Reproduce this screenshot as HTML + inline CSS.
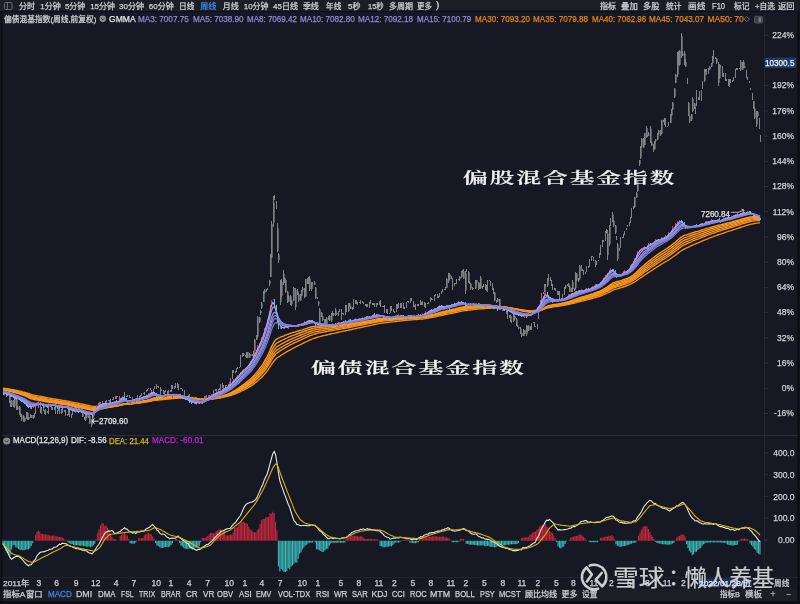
<!DOCTYPE html>
<html><head><meta charset="utf-8">
<style>
*{margin:0;padding:0;box-sizing:border-box}
html,body{width:800px;height:604px;overflow:hidden;background:#161923}
body{position:relative;font-family:"Liberation Sans","Noto Sans CJK SC",sans-serif;font-size:8px;color:#cfcfd2}
.a{position:absolute;white-space:nowrap;line-height:1;-webkit-text-stroke:0.25px currentColor;transform-origin:0 0}
#tb{position:absolute;left:0;top:0;width:800px;height:11.5px;background:#1c1e25;border-bottom:1px solid #0f1014}
#bb{position:absolute;left:0;top:588.5px;width:800px;height:12px;background:#1c1e25}
#bb2{position:absolute;left:0;top:600.5px;width:800px;height:4px;background:#0e0f13}
.t{top:2.2px}
.i{top:15px}
.bl{color:#9696dc}
.or{color:#e8840e}
.ax{color:#cfcfd2;text-align:right;width:40px;left:754px}
.d{top:579px}
.tab{top:590.5px}
svg{position:absolute;left:0;top:0}
.big{font-family:"Liberation Serif","Noto Serif CJK SC",serif;font-size:20px;color:#f4f4f4;letter-spacing:7px;font-weight:600}
</style></head><body>
<div id="tb"></div>
<div id="bb"></div>
<div id="bb2"></div>
<svg width="800" height="604" viewBox="0 0 800 604">
<line x1="1.5" y1="12" x2="1.5" y2="604" stroke="#0c0d10" stroke-width="1.5"/>
<line x1="798.5" y1="12" x2="798.5" y2="604" stroke="#0c0d10" stroke-width="2"/>
<line x1="764.5" y1="12" x2="764.5" y2="588" stroke="#23262f" stroke-width="1"/>
<line x1="2" y1="435.5" x2="798" y2="435.5" stroke="#2a2d36" stroke-width="1"/>
<line x1="2" y1="577.5" x2="798" y2="577.5" stroke="#22252e" stroke-width="1"/>
<line x1="3" y1="35.2" x2="764" y2="35.2" stroke="#1a1d27" stroke-width="1" stroke-dasharray="2,3"/>
<line x1="3" y1="60.4" x2="764" y2="60.4" stroke="#1a1d27" stroke-width="1" stroke-dasharray="2,3"/>
<line x1="3" y1="85.6" x2="764" y2="85.6" stroke="#1a1d27" stroke-width="1" stroke-dasharray="2,3"/>
<line x1="3" y1="110.9" x2="764" y2="110.9" stroke="#1a1d27" stroke-width="1" stroke-dasharray="2,3"/>
<line x1="3" y1="136.1" x2="764" y2="136.1" stroke="#1a1d27" stroke-width="1" stroke-dasharray="2,3"/>
<line x1="3" y1="161.3" x2="764" y2="161.3" stroke="#1a1d27" stroke-width="1" stroke-dasharray="2,3"/>
<line x1="3" y1="186.5" x2="764" y2="186.5" stroke="#1a1d27" stroke-width="1" stroke-dasharray="2,3"/>
<line x1="3" y1="211.7" x2="764" y2="211.7" stroke="#1a1d27" stroke-width="1" stroke-dasharray="2,3"/>
<line x1="3" y1="237.0" x2="764" y2="237.0" stroke="#1a1d27" stroke-width="1" stroke-dasharray="2,3"/>
<line x1="3" y1="262.2" x2="764" y2="262.2" stroke="#1a1d27" stroke-width="1" stroke-dasharray="2,3"/>
<line x1="3" y1="287.4" x2="764" y2="287.4" stroke="#1a1d27" stroke-width="1" stroke-dasharray="2,3"/>
<line x1="3" y1="312.6" x2="764" y2="312.6" stroke="#1a1d27" stroke-width="1" stroke-dasharray="2,3"/>
<line x1="3" y1="337.8" x2="764" y2="337.8" stroke="#1a1d27" stroke-width="1" stroke-dasharray="2,3"/>
<line x1="3" y1="363.1" x2="764" y2="363.1" stroke="#1a1d27" stroke-width="1" stroke-dasharray="2,3"/>
<line x1="3" y1="388.3" x2="764" y2="388.3" stroke="#1a1d27" stroke-width="1" stroke-dasharray="2,3"/>
<path d="M3.5 389.9V391.1M4.5 390.3V392.8M6.5 392.2V396.8M7.5 392.1V395.8M9.5 393.4V402.6M10.5 400.9V407.2M11.5 399.7V406.7M13.5 399.9V406.5M14.5 398.3V407.8M16.5 399.2V410.1M17.5 406.1V410.3M19.5 405.8V415.1M20.5 412.7V417.0M21.5 414.4V421.0M23.5 415.2V422.2M24.5 417.8V421.9M26.5 411.9V418.8M27.5 411.6V419.9M28.5 416.5V420.4M30.5 413.7V417.8M31.5 414.7V418.4M33.5 415.2V418.9M34.5 413.2V416.5M35.5 403.8V414.1M37.5 402.4V404.8M38.5 403.0V408.4M40.5 403.9V413.4M41.5 406.9V414.0M43.5 406.5V410.8M44.5 409.8V413.8M45.5 409.0V415.0M47.5 410.5V413.4M48.5 404.7V414.4M50.5 405.3V406.7M51.5 404.5V409.8M52.5 407.1V410.4M54.5 407.1V409.5M55.5 404.0V414.1M57.5 409.8V413.8M58.5 407.7V410.9M59.5 408.5V413.5M61.5 408.5V414.4M62.5 408.7V412.9M64.5 409.7V411.8M65.5 409.8V416.1M67.5 414.2V415.8M68.5 409.5V415.1M69.5 409.6V416.9M71.5 413.6V417.6M72.5 409.3V414.6M74.5 405.5V411.2M75.5 406.1V410.2M76.5 405.7V410.2M78.5 406.1V409.6M79.5 407.2V409.1M81.5 407.4V413.0M82.5 411.6V416.9M84.5 416.6V420.4M85.5 411.9V420.6M86.5 410.8V418.0M88.5 415.3V418.4M89.5 414.5V424.4M91.5 418.6V427.0M92.5 414.9V424.4M93.5 410.0V416.9M95.5 409.2V411.7M96.5 405.3V411.3M98.5 402.8V405.9M99.5 402.3V404.0M100.5 401.5V403.0M102.5 401.2V407.1M103.5 405.9V407.1M105.5 401.2V407.2M106.5 399.8V402.7M108.5 399.7V400.9M109.5 399.5V403.8M110.5 399.1V403.9M112.5 398.7V400.4M113.5 396.6V400.1M115.5 396.2V398.7M116.5 395.9V399.3M117.5 396.0V397.2M119.5 395.5V402.6M120.5 397.9V403.0M122.5 398.0V399.6M123.5 399.2V400.5M124.5 392.0V400.8M126.5 395.6V396.8M127.5 395.4V396.6M129.5 395.4V397.6M130.5 396.9V398.1M132.5 397.4V402.0M133.5 399.2V401.3M134.5 400.6V401.8M136.5 397.7V401.8M137.5 395.3V398.2M139.5 395.9V397.7M140.5 395.1V397.9M141.5 393.1V395.7M143.5 393.1V394.3M144.5 391.6V394.7M146.5 390.1V392.2M147.5 388.7V391.0M148.5 388.2V389.4M150.5 387.7V390.4M151.5 389.6V391.8M153.5 388.8V391.9M154.5 386.3V389.4M156.5 384.0V388.8M157.5 386.0V387.2M158.5 386.4V387.6M160.5 387.0V396.0M161.5 388.5V391.1M163.5 390.4V393.5M164.5 390.7V393.7M165.5 390.4V391.6M167.5 390.5V395.5M168.5 390.4V395.6M170.5 390.4V392.1M171.5 385.0V391.6M172.5 385.3V388.6M174.5 385.5V388.6M175.5 383.0V387.8M177.5 383.2V387.5M178.5 384.0V389.7M180.5 388.2V389.4M181.5 388.0V389.4M182.5 389.2V391.3M184.5 390.1V396.8M185.5 396.0V397.5M187.5 396.8V398.1M188.5 394.6V398.1M189.5 394.4V403.0M191.5 399.0V400.2M192.5 398.0V399.9M194.5 397.7V398.9M195.5 397.3V398.9M196.5 397.4V400.2M198.5 398.3V400.5M199.5 397.9V399.1M201.5 398.2V400.2M202.5 398.2V400.1M204.5 395.6V398.6M205.5 395.9V398.1M206.5 394.7V398.1M208.5 394.5V396.2M209.5 394.8V396.0M211.5 394.7V397.0M212.5 395.4V397.4M213.5 389.8V396.0M215.5 388.6V391.0M216.5 388.8V391.6M218.5 389.1V391.0M219.5 388.4V389.8M220.5 383.6V389.8M222.5 383.4V388.3M223.5 385.0V388.3M225.5 384.6V386.6M226.5 384.9V386.1M228.5 383.6V385.6M229.5 381.8V384.5M230.5 378.1V383.7M232.5 369.8V379.0M233.5 369.9V373.4M235.5 370.7V372.6M236.5 367.7V371.6M237.5 367.1V368.8M239.5 366.6V368.0M240.5 354.7V367.0M242.5 353.4V356.8M243.5 352.5V356.1M245.5 354.6V356.9M246.5 351.6V357.7M247.5 351.9V357.7M249.5 352.9V357.8M250.5 353.9V356.1M252.5 354.4V356.2M253.5 350.9V356.5M254.5 338.9V351.3M256.5 334.5V340.3M257.5 316.1V338.0M259.5 316.5V322.6M260.5 309.8V314.7M261.5 302.1V308.6M263.5 291.1V302.1M264.5 288.7V293.6M266.5 288.5V292.0M267.5 287.9V290.4M269.5 279.9V286.4M270.5 254.0V276.9M271.5 221.2V257.9M273.5 196.0V226.6M274.5 195.0V199.6M276.5 200.6V208.6M277.5 223.4V252.1M278.5 253.1V262.6M280.5 280.0V305.0M281.5 279.3V296.6M283.5 270.0V285.0M284.5 277.5V282.8M285.5 279.0V293.0M287.5 290.7V303.1M288.5 295.1V301.6M290.5 295.1V305.1M291.5 300.4V305.8M293.5 287.4V301.4M294.5 287.5V289.3M295.5 288.1V310.0M297.5 289.2V295.3M298.5 292.6V301.7M300.5 294.3V301.4M301.5 290.4V295.7M302.5 287.1V291.7M304.5 288.1V298.3M305.5 278.9V296.8M307.5 278.0V283.9M308.5 276.7V283.5M309.5 276.0V290.7M311.5 282.1V290.6M312.5 282.4V285.5M314.5 280.9V284.8M315.5 287.4V299.2M317.5 296.8V298.8M318.5 300.8V305.5M319.5 308.3V326.0M321.5 312.0V316.7M322.5 316.4V321.2M324.5 318.8V326.6M325.5 318.8V326.0M326.5 316.9V326.5M328.5 315.6V319.6M329.5 315.3V321.4M331.5 312.5V321.5M332.5 311.3V314.8M333.5 312.9V316.1M335.5 308.0V315.5M336.5 312.5V315.3M338.5 311.1V316.1M339.5 309.0V312.3M341.5 309.0V320.0M342.5 313.0V314.4M343.5 312.7V314.8M345.5 305.3V314.6M346.5 305.0V311.7M348.5 302.6V311.8M349.5 302.5V307.3M350.5 305.7V309.4M352.5 307.3V309.7M353.5 299.3V308.5M355.5 300.0V304.2M356.5 300.1V304.1M357.5 301.7V304.6M359.5 301.5V302.7M360.5 300.0V303.6M362.5 301.0V302.9M363.5 302.3V304.0M365.5 303.6V306.1M366.5 304.2V306.7M367.5 304.3V307.4M369.5 301.5V307.6M370.5 300.0V304.2M372.5 302.5V305.4M373.5 302.8V305.2M374.5 303.2V306.8M376.5 302.6V306.5M377.5 302.7V305.4M379.5 300.7V305.0M380.5 300.0V307.3M382.5 305.5V307.1M383.5 305.6V307.2M384.5 305.4V313.0M386.5 309.3V313.1M387.5 308.7V313.8M389.5 312.8V314.1M390.5 306.3V313.0M391.5 305.7V310.5M393.5 309.4V312.4M394.5 310.6V312.5M396.5 304.3V311.6M397.5 303.9V308.6M398.5 302.5V307.8M400.5 303.0V307.6M401.5 302.8V308.3M403.5 302.9V308.5M404.5 306.7V308.5M406.5 301.5V307.6M407.5 300.6V302.3M408.5 300.7V303.0M410.5 298.0V302.9M411.5 297.9V301.3M413.5 300.6V306.6M414.5 305.4V307.0M415.5 304.0V310.0M417.5 303.9V305.8M418.5 304.2V305.7M420.5 300.0V304.9M421.5 302.3V304.5M422.5 301.4V304.6M424.5 301.7V307.2M425.5 303.2V308.0M427.5 302.5V303.8M428.5 302.3V303.5M430.5 297.2V302.4M431.5 297.7V300.4M432.5 299.1V300.3M434.5 294.6V300.7M435.5 294.1V295.6M437.5 293.5V298.0M438.5 295.6V297.9M439.5 292.7V296.6M441.5 290.6V293.8M442.5 288.9V291.6M444.5 289.0V290.2M445.5 286.8V289.9M446.5 277.7V288.0M448.5 273.0V283.2M449.5 273.3V279.8M451.5 275.8V278.5M452.5 277.9V290.0M454.5 282.5V286.4M455.5 282.5V284.1M456.5 279.1V284.4M458.5 278.8V280.0M459.5 275.5V280.6M461.5 270.8V278.2M462.5 270.0V273.0M463.5 269.3V279.2M465.5 271.0V294.0M466.5 268.6V271.9M468.5 270.9V283.2M469.5 281.3V284.4M470.5 283.2V289.6M472.5 287.3V289.5M473.5 287.8V289.3M475.5 279.7V288.6M476.5 280.3V283.9M478.5 281.5V289.9M479.5 283.3V289.0M480.5 276.0V289.3M482.5 286.3V289.4M483.5 284.4V287.4M485.5 284.2V290.0M486.5 284.5V290.8M487.5 279.6V291.5M489.5 279.6V281.3M490.5 281.0V286.4M492.5 283.2V289.8M493.5 288.0V293.9M494.5 292.3V300.7M496.5 299.6V302.6M497.5 298.0V302.4M499.5 298.7V308.2M500.5 307.5V310.2M502.5 307.4V310.9M503.5 305.8V311.1M504.5 305.9V309.7M506.5 309.4V314.1M507.5 311.8V319.3M509.5 315.1V318.4M510.5 314.5V322.3M511.5 320.2V322.9M513.5 315.4V321.6M514.5 316.0V320.2M516.5 318.1V326.2M517.5 325.3V327.3M518.5 326.8V329.4M520.5 327.2V334.4M521.5 332.8V337.2M523.5 329.0V336.4M524.5 329.5V334.4M526.5 324.9V336.0M527.5 325.5V331.5M528.5 325.1V331.1M530.5 325.8V330.4M531.5 322.5V330.2M533.5 322.2V323.4M534.5 322.0V327.2M535.5 325.5V327.2M537.5 324.4V328.5M538.5 309.8V318.5M540.5 299.7V305.7M541.5 292.8V300.5M543.5 292.0V293.5M544.5 283.9V292.3M545.5 284.2V287.1M547.5 278.2V286.6M548.5 274.0V280.6M550.5 276.7V281.0M551.5 280.2V285.6M552.5 283.6V290.1M554.5 288.1V290.0M555.5 288.4V291.3M557.5 291.2V295.3M558.5 290.6V295.2M559.5 290.7V300.0M561.5 297.9V300.5M562.5 294.2V297.5M564.5 287.4V295.1M565.5 284.5V288.7M567.5 283.6V286.3M568.5 283.2V286.6M569.5 285.7V292.2M571.5 287.7V292.2M572.5 280.0V292.0M574.5 287.5V290.6M575.5 271.5V288.8M576.5 272.6V281.3M578.5 278.4V282.1M579.5 264.8V280.0M581.5 264.8V270.5M582.5 268.9V270.8M583.5 269.8V275.1M585.5 271.9V273.7M586.5 266.4V271.6M588.5 266.3V267.7M589.5 258.8V267.0M591.5 256.0V260.8M592.5 255.6V257.3M593.5 256.9V260.7M595.5 259.5V267.0M596.5 260.6V264.8M598.5 259.6V261.1M599.5 253.3V258.2M600.5 245.4V254.6M602.5 240.0V246.5M603.5 240.1V241.7M605.5 231.4V240.8M606.5 229.2V232.6M607.5 230.4V260.0M609.5 225.1V245.5M610.5 217.7V225.5M612.5 212.0V222.0M613.5 220.1V226.6M615.5 224.9V233.9M616.5 235.6V239.5M617.5 243.1V261.0M619.5 247.5V250.5M620.5 237.1V247.8M622.5 237.0V238.2M623.5 233.7V238.4M624.5 230.6V234.7M626.5 227.7V230.0M627.5 224.7V226.9M629.5 222.2V225.8M630.5 216.7V223.1M631.5 208.4V217.7M633.5 205.8V209.3M634.5 196.7V207.8M636.5 192.3V197.8M637.5 181.2V191.9M639.5 159.6V165.8M640.5 146.1V159.2M641.5 137.8V147.7M643.5 138.3V148.2M644.5 132.8V145.4M646.5 126.0V137.8M647.5 135.0V137.4M648.5 132.2V136.1M650.5 126.0V143.0M651.5 141.4V146.0M653.5 144.2V152.0M654.5 141.0V149.4M655.5 138.8V142.7M657.5 133.4V139.6M658.5 130.0V135.1M660.5 130.4V136.4M661.5 119.6V134.1M663.5 119.7V122.1M664.5 118.0V125.2M665.5 117.6V127.3M667.5 125.8V127.3M668.5 121.9V126.4M670.5 114.3V123.4M671.5 109.3V115.7M672.5 102.2V109.7M674.5 88.1V98.0M675.5 73.5V82.9M677.5 52.2V77.4M678.5 51.1V65.3M679.5 50.0V66.2M681.5 33.0V57.8M682.5 50.8V56.2M684.5 50.9V65.1M685.5 59.4V67.1M687.5 78.4V83.7M688.5 102.0V115.5M689.5 114.9V123.0M691.5 114.3V120.7M692.5 97.0V112.3M694.5 102.8V108.6M695.5 107.0V114.0M696.5 90.0V106.2M698.5 97.0V100.1M699.5 91.3V99.5M701.5 89.5V101.0M702.5 80.8V89.4M704.5 69.0V82.1M705.5 68.5V72.2M706.5 69.4V74.7M708.5 68.4V74.1M709.5 66.1V69.5M711.5 62.7V66.6M712.5 55.6V64.3M713.5 50.0V58.9M715.5 57.3V59.2M716.5 58.0V63.6M718.5 62.1V86.0M719.5 64.2V78.8M720.5 64.8V67.5M722.5 66.2V77.3M723.5 72.7V76.5M725.5 72.8V81.4M726.5 78.8V81.4M728.5 78.7V86.0M729.5 79.1V86.7M730.5 79.1V82.6M732.5 80.4V81.9M733.5 77.1V80.9M735.5 68.7V78.1M736.5 68.0V70.0M737.5 68.3V69.6M739.5 67.7V69.1M740.5 60.0V70.5M742.5 62.0V69.9M743.5 60.0V67.8M744.5 65.6V67.9M746.5 69.9V77.6M747.5 77.1V79.8M749.5 81.4V83.3M750.5 88.3V89.9M752.5 93.1V99.7M753.5 100.5V109.0M754.5 107.3V118.9M756.5 110.5V127.0M757.5 111.1V117.2M759.5 118.4V128.8M760.5 135.4V141.5" stroke="#838385" stroke-width="1" fill="none" shape-rendering="crispEdges"/>
<path d="M8.0 393.3V395.6M10.0 394.0V401.1M11.0 401.1V406.3M12.0 400.8V406.3M14.0 400.8V406.2M15.0 398.9V406.2M17.0 399.5V409.4M18.0 406.8V409.4M20.0 406.8V413.9M21.0 413.9V416.6M22.0 415.5V419.4M24.0 416.3V421.3M25.0 417.8V421.3M27.0 412.7V417.8M28.0 412.7V419.3M29.0 417.3V419.3M31.0 415.0V417.3M32.0 415.0V418.0M34.0 415.8V418.0M82.0 407.8V412.0M83.0 412.0V416.7M85.0 416.7V419.7M86.0 412.2V419.7M87.0 412.2V417.5M89.0 415.9V417.5M90.0 415.9V423.6M92.0 420.0V424.9M93.0 415.9V423.5M94.0 411.2V415.9M244.0 353.8V354.9M246.0 354.9V356.6M247.0 352.0V356.6M248.0 352.0V357.6M250.0 354.2V357.6M251.0 354.2V355.7M254.0 351.1V354.7M255.0 339.7V351.1M257.0 336.5V339.7M258.0 317.2V336.5M260.0 317.2V321.8M261.0 311.1V313.3M262.0 303.6V307.7M264.0 292.4V302.0M265.0 289.9V292.4M267.0 288.9V289.9M270.0 280.7V283.9M271.0 257.7V276.9M272.0 224.0V257.7M274.0 202.6V222.2M278.0 228.3V251.3M279.0 254.2V260.0M281.0 282.0V302.0M282.0 281.8V295.6M284.0 273.8V282.5M285.0 277.8V280.1M286.0 280.1V291.7M288.0 291.7V301.4M289.0 296.2V301.4M291.0 296.2V304.3M292.0 300.4V304.3M294.0 288.3V300.4M296.0 290.1V307.0M298.0 291.2V294.3M299.0 294.3V300.2M301.0 295.5V300.2M302.0 290.5V295.5M303.0 288.2V290.5M305.0 288.2V296.7M306.0 279.1V296.4M308.0 279.1V282.1M309.0 276.8V282.1M310.0 278.4V289.1M312.0 283.8V289.1M315.0 282.4V284.2M316.0 287.5V298.6M319.0 302.2V304.2M320.0 309.5V324.2M322.0 313.0V316.4M323.0 316.4V319.9M325.0 319.9V325.1M326.0 320.0V324.2M327.0 318.3V326.4M329.0 316.3V318.3M330.0 316.3V320.4M332.0 312.7V320.4M334.0 313.4V314.7M336.0 309.8V314.3M337.0 313.1V314.8M349.0 303.3V310.9M350.0 303.3V306.5M351.0 306.5V308.8M447.0 279.1V287.8M449.0 275.6V281.5M450.0 274.5V279.1M460.0 276.7V279.4M462.0 272.1V276.7M464.0 271.3V278.6M466.0 273.3V290.6M469.0 272.2V282.5M470.0 282.5V283.7M471.0 283.7V288.6M476.0 280.4V288.6M477.0 280.4V282.6M479.0 282.6V288.5M480.0 284.4V288.5M481.0 277.8V288.1M495.0 292.6V300.5M498.0 298.9V301.5M500.0 298.9V307.9M503.0 308.8V310.7M510.0 315.9V318.0M511.0 315.9V321.7M514.0 315.8V320.9M515.0 316.3V319.2M517.0 319.2V325.6M518.0 325.6V327.0M519.0 327.0V328.6M521.0 328.6V332.9M522.0 332.9V336.0M524.0 329.9V336.0M525.0 329.9V333.8M527.0 326.3V333.9M528.0 325.6V330.6M529.0 325.8V330.6M545.0 285.2V292.2M548.0 279.4V285.6M566.0 285.7V287.7M568.0 284.3V285.7M569.0 284.3V286.3M570.0 286.3V292.1M572.0 287.8V292.1M573.0 282.0V289.0M575.0 287.8V290.5M576.0 273.4V287.8M577.0 273.4V280.5M579.0 278.7V280.5M580.0 266.0V278.7M607.0 230.7V231.8M608.0 233.6V255.2M610.0 226.4V244.3M613.0 214.4V220.4M614.0 220.7V225.7M616.0 225.8V232.4M618.0 244.5V258.9M635.0 197.4V207.0M637.0 193.2V197.4M638.0 181.5V190.9M640.0 159.9V164.1M641.0 146.6V157.7M642.0 138.8V146.6M644.0 138.8V147.6M645.0 133.2V145.1M647.0 128.1V136.4M649.0 134.2V135.2M651.0 128.6V141.3M652.0 142.2V145.3M654.0 145.4V150.2M655.0 141.3V149.3M656.0 139.6V141.3M658.0 134.3V139.6M659.0 130.6V134.3M661.0 130.6V134.9M662.0 119.8V133.4M664.0 119.8V121.4M665.0 119.8V124.0M671.0 115.4V123.1M672.0 109.6V115.4M673.0 102.4V109.6M675.0 88.4V96.7M676.0 74.6V82.7M678.0 53.5V74.6M679.0 53.5V64.5M680.0 50.7V64.5M682.0 36.1V55.7M683.0 53.5V55.6M685.0 53.5V61.9M686.0 61.9V66.6M689.0 103.1V115.1M690.0 116.0V121.3M692.0 114.5V119.3M693.0 99.0V111.0M695.0 103.4V107.6M705.0 71.0V80.8M706.0 69.4V71.6M710.0 66.5V69.5M712.0 63.1V66.5M713.0 56.4V63.1M717.0 58.5V62.5M719.0 64.3V82.7M720.0 64.8V78.3M741.0 61.6V69.4M743.0 62.0V69.5M744.0 62.0V66.5M745.0 66.5V67.8M754.0 100.7V108.5M755.0 108.5V117.8M757.0 112.0V124.8M758.0 111.7V115.9" stroke="#838385" stroke-width="1.3" fill="none"/>
<polyline points="3.0,390.0 4.4,390.2 5.8,390.5 7.2,390.7 8.6,391.0 10.1,391.3 11.5,391.7 12.9,392.0 14.3,392.5 15.7,392.9 17.1,393.3 18.5,393.7 19.9,394.1 21.4,394.6 22.8,395.1 24.2,395.5 25.6,396.2 27.0,396.9 28.4,397.6 29.8,398.1 31.2,398.8 32.7,399.2 34.1,399.5 35.5,399.8 36.9,400.1 38.3,400.2 39.7,400.5 41.1,400.7 42.5,401.1 44.0,401.4 45.4,401.7 46.8,402.0 48.2,402.2 49.6,402.4 51.0,402.5 52.4,402.7 53.8,402.8 55.3,403.1 56.7,403.4 58.1,403.6 59.5,403.8 60.9,404.0 62.3,404.3 63.7,404.5 65.1,404.7 66.6,404.8 68.0,405.1 69.4,405.5 70.8,405.8 72.2,406.0 73.6,406.4 75.0,406.7 76.4,407.0 77.9,407.3 79.3,407.5 80.7,407.8 82.1,408.1 83.5,408.4 84.9,408.7 86.3,409.1 87.7,409.4 89.2,409.7 90.6,410.0 92.0,410.4 93.4,410.4 94.8,410.3 96.2,410.1 97.6,409.8 99.0,409.5 100.4,409.1 101.9,408.8 103.3,408.5 104.7,408.1 106.1,407.9 107.5,407.6 108.9,407.3 110.3,407.0 111.7,406.8 113.2,406.5 114.6,406.1 116.0,405.9 117.4,405.6 118.8,405.3 120.2,404.8 121.6,404.4 123.0,403.9 124.5,403.6 125.9,403.4 127.3,403.4 128.7,403.3 130.1,403.2 131.5,403.0 132.9,402.8 134.3,402.6 135.8,402.3 137.2,402.0 138.6,401.9 140.0,401.7 141.4,401.4 142.8,401.0 144.2,400.7 145.6,400.4 147.1,400.1 148.5,399.7 149.9,399.3 151.3,398.8 152.7,398.4 154.1,398.0 155.5,397.9 156.9,397.7 158.4,397.6 159.8,397.6 161.2,397.5 162.6,397.4 164.0,397.2 165.4,397.1 166.8,397.0 168.2,396.8 169.7,396.7 171.1,396.6 172.5,396.5 173.9,396.3 175.3,396.2 176.7,396.1 178.1,396.1 179.5,396.1 181.0,396.2 182.4,396.3 183.8,396.5 185.2,396.6 186.6,396.8 188.0,397.1 189.4,397.4 190.8,397.7 192.2,398.0 193.7,398.3 195.1,398.6 196.5,398.9 197.9,399.1 199.3,399.4 200.7,399.6 202.1,399.7 203.5,399.8 205.0,399.7 206.4,399.6 207.8,399.5 209.2,399.3 210.6,399.0 212.0,398.8 213.4,398.4 214.8,398.1 216.3,397.7 217.7,397.4 219.1,397.0 220.5,396.6 221.9,396.2 223.3,395.7 224.7,395.2 226.1,394.7 227.6,394.2 229.0,393.5 230.4,392.9 231.8,392.2 233.2,391.4 234.6,390.6 236.0,389.7 237.4,388.8 238.9,387.9 240.3,386.9 241.7,385.9 243.1,384.8 244.5,383.8 245.9,382.7 247.3,381.6 248.7,380.5 250.2,379.2 251.6,378.0 253.0,376.5 254.4,375.0 255.8,373.4 257.2,371.7 258.6,369.9 260.0,368.0 261.5,366.1 262.9,364.0 264.3,361.6 265.7,359.2 267.1,356.6 268.5,353.8 269.9,350.7 271.3,347.4 272.8,344.3 274.2,341.8 275.6,340.0 277.0,338.8 278.4,338.2 279.8,337.5 281.2,336.9 282.6,336.3 284.1,335.8 285.5,335.1 286.9,334.7 288.3,334.1 289.7,333.6 291.1,333.1 292.5,332.7 293.9,332.3 295.3,331.9 296.8,331.4 298.2,331.0 299.6,330.6 301.0,330.2 302.4,329.8 303.8,329.3 305.2,328.9 306.6,328.3 308.1,327.8 309.5,327.4 310.9,327.0 312.3,326.6 313.7,326.4 315.1,326.3 316.5,326.1 317.9,326.1 319.4,326.0 320.8,326.0 322.2,325.9 323.6,325.9 325.0,325.8 326.4,325.8 327.8,325.7 329.2,325.6 330.7,325.6 332.1,325.5 333.5,325.5 334.9,325.4 336.3,325.4 337.7,325.2 339.1,325.1 340.5,324.9 342.0,324.8 343.4,324.5 344.8,324.4 346.2,324.2 347.6,324.1 349.0,323.8 350.4,323.7 351.8,323.5 353.3,323.3 354.7,323.0 356.1,322.8 357.5,322.6 358.9,322.3 360.3,322.1 361.7,321.9 363.1,321.7 364.6,321.4 366.0,321.1 367.4,320.8 368.8,320.6 370.2,320.3 371.6,320.1 373.0,319.7 374.4,319.4 375.9,319.2 377.3,318.9 378.7,318.7 380.1,318.5 381.5,318.3 382.9,318.3 384.3,318.2 385.7,318.2 387.1,318.2 388.6,318.1 390.0,318.1 391.4,318.1 392.8,318.0 394.2,317.9 395.6,317.8 397.0,317.8 398.4,317.7 399.9,317.5 401.3,317.4 402.7,317.4 404.1,317.4 405.5,317.3 406.9,317.3 408.3,317.2 409.7,317.1 411.2,317.0 412.6,317.0 414.0,317.0 415.4,317.0 416.8,316.9 418.2,316.8 419.6,316.7 421.0,316.7 422.5,316.5 423.9,316.4 425.3,316.1 426.7,315.9 428.1,315.6 429.5,315.2 430.9,314.9 432.3,314.6 433.8,314.3 435.2,313.9 436.6,313.6 438.0,313.1 439.4,312.6 440.8,312.2 442.2,311.8 443.6,311.5 445.1,311.2 446.5,310.8 447.9,310.5 449.3,310.3 450.7,309.9 452.1,309.5 453.5,309.2 454.9,308.9 456.4,308.5 457.8,308.1 459.2,307.7 460.6,307.4 462.0,307.1 463.4,306.8 464.8,306.7 466.2,306.7 467.7,306.5 469.1,306.4 470.5,306.3 471.9,306.2 473.3,306.0 474.7,306.0 476.1,305.8 477.5,305.8 478.9,305.7 480.4,305.7 481.8,305.6 483.2,305.7 484.6,305.7 486.0,305.6 487.4,305.6 488.8,305.6 490.2,305.6 491.7,305.7 493.1,305.8 494.5,306.0 495.9,306.0 497.3,306.2 498.7,306.4 500.1,306.5 501.5,306.6 503.0,306.8 504.4,307.0 505.8,307.1 507.2,307.4 508.6,307.6 510.0,307.9 511.4,308.2 512.8,308.6 514.3,308.9 515.7,309.3 517.1,309.7 518.5,310.0 519.9,310.4 521.3,310.8 522.7,311.1 524.1,311.3 525.6,311.6 527.0,311.8 528.4,312.0 529.8,312.2 531.2,312.2 532.6,312.2 534.0,312.1 535.4,312.0 536.9,311.7 538.3,311.3 539.7,310.8 541.1,310.1 542.5,309.3 543.9,308.3 545.3,307.3 546.7,306.5 548.2,306.0 549.6,305.5 551.0,305.1 552.4,304.8 553.8,304.5 555.2,304.3 556.6,304.1 558.0,303.9 559.5,303.6 560.9,303.4 562.3,303.1 563.7,302.8 565.1,302.5 566.5,302.1 567.9,301.7 569.3,301.3 570.8,300.8 572.2,300.3 573.6,299.9 575.0,299.3 576.4,298.9 577.8,298.4 579.2,297.9 580.6,297.4 582.0,297.0 583.5,296.6 584.9,296.2 586.3,295.7 587.7,295.3 589.1,294.9 590.5,294.5 591.9,294.0 593.3,293.6 594.8,293.0 596.2,292.5 597.6,292.0 599.0,291.5 600.4,290.9 601.8,290.2 603.2,289.4 604.6,288.6 606.1,287.7 607.5,286.7 608.9,285.7 610.3,284.7 611.7,283.7 613.1,282.9 614.5,282.3 615.9,281.9 617.4,281.5 618.8,281.2 620.2,280.8 621.6,280.4 623.0,279.8 624.4,279.3 625.8,278.8 627.2,278.3 628.7,277.6 630.1,277.0 631.5,276.1 632.9,275.2 634.3,274.1 635.7,273.0 637.1,271.6 638.5,270.2 640.0,268.8 641.4,267.5 642.8,266.3 644.2,265.0 645.6,263.9 647.0,262.8 648.4,261.5 649.8,260.4 651.3,259.4 652.7,258.3 654.1,257.2 655.5,256.1 656.9,255.0 658.3,254.1 659.7,253.1 661.1,252.2 662.6,251.2 664.0,250.4 665.4,249.5 666.8,248.6 668.2,247.6 669.6,246.6 671.0,245.6 672.4,244.5 673.8,243.4 675.3,242.2 676.7,240.9 678.1,239.7 679.5,238.4 680.9,237.4 682.3,236.5 683.7,235.7 685.1,235.2 686.6,234.8 688.0,234.3 689.4,233.8 690.8,233.3 692.2,232.9 693.6,232.5 695.0,232.0 696.4,231.6 697.9,231.3 699.3,230.8 700.7,230.4 702.1,230.0 703.5,229.6 704.9,229.1 706.3,228.6 707.7,228.2 709.2,227.9 710.6,227.3 712.0,227.0 713.4,226.6 714.8,226.2 716.2,225.8 717.6,225.4 719.0,225.1 720.5,224.8 721.9,224.5 723.3,224.1 724.7,223.7 726.1,223.3 727.5,222.9 728.9,222.7 730.3,222.3 731.8,222.0 733.2,221.5 734.6,221.1 736.0,220.7 737.4,220.3 738.8,220.0 740.2,219.6 741.6,219.1 743.1,218.7 744.5,218.4 745.9,218.0 747.3,217.6 748.7,217.3 750.1,217.0 751.5,216.8 752.9,216.7 754.4,216.7 755.8,216.6 757.2,216.7 758.6,216.8 760.0,217.0" fill="none" stroke="#ff9a22" stroke-width="1.35"/>
<polyline points="3.0,389.6 4.4,389.9 5.8,390.1 7.2,390.4 8.6,390.6 10.1,390.9 11.5,391.3 12.9,391.6 14.3,392.0 15.7,392.4 17.1,392.7 18.5,393.1 19.9,393.5 21.4,393.9 22.8,394.4 24.2,394.8 25.6,395.4 27.0,396.0 28.4,396.7 29.8,397.2 31.2,397.8 32.7,398.3 34.1,398.6 35.5,398.9 36.9,399.2 38.3,399.4 39.7,399.6 41.1,399.9 42.5,400.2 44.0,400.6 45.4,400.9 46.8,401.2 48.2,401.4 49.6,401.6 51.0,401.8 52.4,402.0 53.8,402.1 55.3,402.4 56.7,402.7 58.1,402.9 59.5,403.1 60.9,403.3 62.3,403.6 63.7,403.8 65.1,404.0 66.6,404.2 68.0,404.4 69.4,404.8 70.8,405.1 72.2,405.3 73.6,405.7 75.0,406.0 76.4,406.3 77.9,406.6 79.3,406.8 80.7,407.1 82.1,407.4 83.5,407.7 84.9,408.0 86.3,408.4 87.7,408.7 89.2,409.0 90.6,409.3 92.0,409.6 93.4,409.7 94.8,409.7 96.2,409.5 97.6,409.3 99.0,409.1 100.4,408.7 101.9,408.5 103.3,408.2 104.7,408.0 106.1,407.7 107.5,407.5 108.9,407.3 110.3,407.0 111.7,406.8 113.2,406.6 114.6,406.2 116.0,406.0 117.4,405.8 118.8,405.5 120.2,405.1 121.6,404.7 123.0,404.2 124.5,403.9 125.9,403.8 127.3,403.8 128.7,403.7 130.1,403.5 131.5,403.4 132.9,403.2 134.3,402.9 135.8,402.7 137.2,402.5 138.6,402.3 140.0,402.1 141.4,401.8 142.8,401.5 144.2,401.2 145.6,400.9 147.1,400.6 148.5,400.2 149.9,399.9 151.3,399.4 152.7,399.0 154.1,398.6 155.5,398.5 156.9,398.3 158.4,398.2 159.8,398.1 161.2,398.1 162.6,398.0 164.0,397.8 165.4,397.6 166.8,397.5 168.2,397.3 169.7,397.2 171.1,397.1 172.5,396.9 173.9,396.8 175.3,396.7 176.7,396.6 178.1,396.5 179.5,396.5 181.0,396.5 182.4,396.6 183.8,396.7 185.2,396.9 186.6,397.0 188.0,397.2 189.4,397.5 190.8,397.7 192.2,398.0 193.7,398.2 195.1,398.5 196.5,398.8 197.9,399.0 199.3,399.2 200.7,399.4 202.1,399.5 203.5,399.6 205.0,399.6 206.4,399.5 207.8,399.4 209.2,399.2 210.6,399.0 212.0,398.8 213.4,398.5 214.8,398.2 216.3,397.9 217.7,397.5 219.1,397.2 220.5,396.9 221.9,396.5 223.3,396.0 224.7,395.6 226.1,395.1 227.6,394.7 229.0,394.1 230.4,393.5 231.8,392.9 233.2,392.1 234.6,391.4 236.0,390.6 237.4,389.8 238.9,388.9 240.3,388.0 241.7,387.1 243.1,386.1 244.5,385.1 245.9,384.1 247.3,383.1 248.7,382.0 250.2,380.9 251.6,379.7 253.0,378.4 254.4,376.9 255.8,375.4 257.2,373.9 258.6,372.2 260.0,370.5 261.5,368.7 262.9,366.7 264.3,364.5 265.7,362.3 267.1,359.9 268.5,357.3 269.9,354.4 271.3,351.4 272.8,348.5 274.2,346.1 275.6,344.3 277.0,343.0 278.4,342.2 279.8,341.4 281.2,340.7 282.6,340.0 284.1,339.3 285.5,338.6 286.9,338.0 288.3,337.3 289.7,336.7 291.1,336.1 292.5,335.6 293.9,335.1 295.3,334.6 296.8,334.0 298.2,333.5 299.6,333.0 301.0,332.5 302.4,332.0 303.8,331.5 305.2,331.0 306.6,330.5 308.1,329.9 309.5,329.4 310.9,328.9 312.3,328.5 313.7,328.2 315.1,328.0 316.5,327.8 317.9,327.6 319.4,327.5 320.8,327.4 322.2,327.3 323.6,327.1 325.0,327.0 326.4,326.9 327.8,326.8 329.2,326.7 330.7,326.6 332.1,326.5 333.5,326.4 334.9,326.3 336.3,326.2 337.7,326.0 339.1,325.8 340.5,325.7 342.0,325.5 343.4,325.2 344.8,325.1 346.2,324.9 347.6,324.8 349.0,324.5 350.4,324.4 351.8,324.1 353.3,323.9 354.7,323.6 356.1,323.4 357.5,323.2 358.9,322.9 360.3,322.7 361.7,322.5 363.1,322.3 364.6,322.0 366.0,321.7 367.4,321.4 368.8,321.2 370.2,321.0 371.6,320.7 373.0,320.4 374.4,320.1 375.9,319.9 377.3,319.6 378.7,319.3 380.1,319.1 381.5,319.0 382.9,318.9 384.3,318.8 385.7,318.7 387.1,318.7 388.6,318.6 390.0,318.6 391.4,318.5 392.8,318.5 394.2,318.4 395.6,318.2 397.0,318.2 398.4,318.1 399.9,317.9 401.3,317.8 402.7,317.7 404.1,317.7 405.5,317.6 406.9,317.6 408.3,317.5 409.7,317.4 411.2,317.3 412.6,317.3 414.0,317.2 415.4,317.2 416.8,317.1 418.2,317.0 419.6,317.0 421.0,316.9 422.5,316.8 423.9,316.6 425.3,316.4 426.7,316.2 428.1,315.9 429.5,315.6 430.9,315.3 432.3,315.0 433.8,314.7 435.2,314.3 436.6,314.0 438.0,313.6 439.4,313.2 440.8,312.8 442.2,312.4 443.6,312.1 445.1,311.8 446.5,311.5 447.9,311.1 449.3,310.9 450.7,310.6 452.1,310.2 453.5,309.9 454.9,309.6 456.4,309.2 457.8,308.8 459.2,308.4 460.6,308.1 462.0,307.8 463.4,307.5 464.8,307.4 466.2,307.3 467.7,307.2 469.1,307.0 470.5,306.9 471.9,306.8 473.3,306.6 474.7,306.5 476.1,306.4 477.5,306.3 478.9,306.2 480.4,306.1 481.8,306.1 483.2,306.1 484.6,306.1 486.0,306.0 487.4,306.0 488.8,305.9 490.2,306.0 491.7,306.0 493.1,306.1 494.5,306.2 495.9,306.2 497.3,306.4 498.7,306.6 500.1,306.7 501.5,306.7 503.0,306.8 504.4,307.0 505.8,307.1 507.2,307.3 508.6,307.6 510.0,307.8 511.4,308.1 512.8,308.4 514.3,308.7 515.7,309.1 517.1,309.4 518.5,309.7 519.9,310.0 521.3,310.4 522.7,310.7 524.1,310.9 525.6,311.2 527.0,311.3 528.4,311.5 529.8,311.7 531.2,311.8 532.6,311.8 534.0,311.7 535.4,311.6 536.9,311.4 538.3,311.1 539.7,310.7 541.1,310.1 542.5,309.4 543.9,308.5 545.3,307.7 546.7,307.0 548.2,306.5 549.6,306.0 551.0,305.7 552.4,305.4 553.8,305.1 555.2,304.9 556.6,304.6 558.0,304.4 559.5,304.2 560.9,304.0 562.3,303.7 563.7,303.4 565.1,303.1 566.5,302.7 567.9,302.3 569.3,302.0 570.8,301.5 572.2,301.1 573.6,300.6 575.0,300.1 576.4,299.7 577.8,299.2 579.2,298.8 580.6,298.3 582.0,297.9 583.5,297.5 584.9,297.1 586.3,296.6 587.7,296.2 589.1,295.8 590.5,295.4 591.9,294.9 593.3,294.5 594.8,294.0 596.2,293.5 597.6,293.0 599.0,292.5 600.4,291.9 601.8,291.3 603.2,290.6 604.6,289.8 606.1,289.0 607.5,288.1 608.9,287.1 610.3,286.1 611.7,285.2 613.1,284.4 614.5,283.8 615.9,283.4 617.4,283.0 618.8,282.6 620.2,282.2 621.6,281.8 623.0,281.2 624.4,280.7 625.8,280.1 627.2,279.7 628.7,279.0 630.1,278.4 631.5,277.5 632.9,276.7 634.3,275.7 635.7,274.6 637.1,273.3 638.5,272.0 640.0,270.8 641.4,269.5 642.8,268.3 644.2,267.1 645.6,266.0 647.0,265.0 648.4,263.8 649.8,262.7 651.3,261.6 652.7,260.6 654.1,259.5 655.5,258.5 656.9,257.4 658.3,256.4 659.7,255.5 661.1,254.6 662.6,253.6 664.0,252.7 665.4,251.8 666.8,250.9 668.2,250.0 669.6,249.0 671.0,248.0 672.4,246.9 673.8,245.8 675.3,244.7 676.7,243.4 678.1,242.2 679.5,241.0 680.9,239.9 682.3,239.0 683.7,238.2 685.1,237.7 686.6,237.1 688.0,236.6 689.4,236.0 690.8,235.5 692.2,235.0 693.6,234.5 695.0,234.0 696.4,233.6 697.9,233.2 699.3,232.7 700.7,232.2 702.1,231.7 703.5,231.3 704.9,230.8 706.3,230.3 707.7,229.8 709.2,229.4 710.6,228.9 712.0,228.5 713.4,228.1 714.8,227.6 716.2,227.3 717.6,226.8 719.0,226.5 720.5,226.2 721.9,225.8 723.3,225.4 724.7,225.0 726.1,224.6 727.5,224.2 728.9,223.9 730.3,223.5 731.8,223.1 733.2,222.7 734.6,222.3 736.0,221.9 737.4,221.5 738.8,221.1 740.2,220.7 741.6,220.3 743.1,219.9 744.5,219.5 745.9,219.1 747.3,218.7 748.7,218.3 750.1,218.1 751.5,217.9 752.9,217.7 754.4,217.6 755.8,217.5 757.2,217.6 758.6,217.6 760.0,217.7" fill="none" stroke="#fd9820" stroke-width="1.35"/>
<polyline points="3.0,389.3 4.4,389.5 5.8,389.7 7.2,390.0 8.6,390.2 10.1,390.5 11.5,390.8 12.9,391.1 14.3,391.5 15.7,391.9 17.1,392.2 18.5,392.6 19.9,392.9 21.4,393.3 22.8,393.8 24.2,394.2 25.6,394.8 27.0,395.3 28.4,395.9 29.8,396.5 31.2,397.0 32.7,397.4 34.1,397.7 35.5,398.1 36.9,398.3 38.3,398.6 39.7,398.8 41.1,399.1 42.5,399.5 44.0,399.8 45.4,400.1 46.8,400.4 48.2,400.6 49.6,400.9 51.0,401.0 52.4,401.2 53.8,401.4 55.3,401.7 56.7,401.9 58.1,402.2 59.5,402.4 60.9,402.6 62.3,402.9 63.7,403.1 65.1,403.3 66.6,403.5 68.0,403.8 69.4,404.1 70.8,404.4 72.2,404.7 73.6,405.0 75.0,405.3 76.4,405.6 77.9,405.9 79.3,406.2 80.7,406.4 82.1,406.7 83.5,407.0 84.9,407.3 86.3,407.7 87.7,408.0 89.2,408.3 90.6,408.6 92.0,408.9 93.4,409.0 94.8,409.0 96.2,408.9 97.6,408.8 99.0,408.6 100.4,408.3 101.9,408.1 103.3,407.9 104.7,407.7 106.1,407.5 107.5,407.3 108.9,407.1 110.3,406.9 111.7,406.7 113.2,406.5 114.6,406.2 116.0,406.0 117.4,405.8 118.8,405.6 120.2,405.2 121.6,404.8 123.0,404.5 124.5,404.2 125.9,404.1 127.3,404.0 128.7,403.9 130.1,403.8 131.5,403.6 132.9,403.4 134.3,403.2 135.8,403.0 137.2,402.8 138.6,402.6 140.0,402.4 141.4,402.1 142.8,401.9 144.2,401.6 145.6,401.3 147.1,401.0 148.5,400.7 149.9,400.3 151.3,399.9 152.7,399.5 154.1,399.2 155.5,399.0 156.9,398.9 158.4,398.7 159.8,398.6 161.2,398.6 162.6,398.4 164.0,398.2 165.4,398.1 166.8,397.9 168.2,397.8 169.7,397.6 171.1,397.5 172.5,397.4 173.9,397.2 175.3,397.1 176.7,397.0 178.1,396.9 179.5,396.9 181.0,396.9 182.4,396.9 183.8,397.0 185.2,397.2 186.6,397.3 188.0,397.4 189.4,397.6 190.8,397.9 192.2,398.1 193.7,398.3 195.1,398.6 196.5,398.8 197.9,398.9 199.3,399.2 200.7,399.3 202.1,399.4 203.5,399.5 205.0,399.5 206.4,399.4 207.8,399.3 209.2,399.2 210.6,399.0 212.0,398.8 213.4,398.5 214.8,398.3 216.3,398.0 217.7,397.7 219.1,397.4 220.5,397.1 221.9,396.8 223.3,396.3 224.7,395.9 226.1,395.5 227.6,395.1 229.0,394.5 230.4,394.0 231.8,393.5 233.2,392.7 234.6,392.1 236.0,391.4 237.4,390.6 238.9,389.8 240.3,389.0 241.7,388.1 243.1,387.2 244.5,386.3 245.9,385.3 247.3,384.4 248.7,383.4 250.2,382.3 251.6,381.2 253.0,380.0 254.4,378.6 255.8,377.2 257.2,375.7 258.6,374.2 260.0,372.6 261.5,370.9 262.9,369.1 264.3,367.1 265.7,364.9 267.1,362.7 268.5,360.3 269.9,357.6 271.3,354.8 272.8,352.1 274.2,349.8 275.6,348.1 277.0,346.8 278.4,345.9 279.8,345.0 281.2,344.2 282.6,343.4 284.1,342.6 285.5,341.8 286.9,341.2 288.3,340.4 289.7,339.7 291.1,339.1 292.5,338.4 293.9,337.8 295.3,337.3 296.8,336.7 298.2,336.1 299.6,335.5 301.0,335.0 302.4,334.4 303.8,333.9 305.2,333.3 306.6,332.7 308.1,332.1 309.5,331.5 310.9,331.0 312.3,330.6 313.7,330.2 315.1,329.9 316.5,329.6 317.9,329.4 319.4,329.2 320.8,329.0 322.2,328.9 323.6,328.6 325.0,328.5 326.4,328.3 327.8,328.2 329.2,328.0 330.7,327.8 332.1,327.7 333.5,327.5 334.9,327.4 336.3,327.2 337.7,327.0 339.1,326.8 340.5,326.6 342.0,326.4 343.4,326.2 344.8,326.0 346.2,325.8 347.6,325.6 349.0,325.4 350.4,325.2 351.8,324.9 353.3,324.7 354.7,324.4 356.1,324.2 357.5,324.0 358.9,323.7 360.3,323.5 361.7,323.2 363.1,323.0 364.6,322.7 366.0,322.4 367.4,322.2 368.8,321.9 370.2,321.7 371.6,321.4 373.0,321.1 374.4,320.8 375.9,320.6 377.3,320.3 378.7,320.0 380.1,319.8 381.5,319.6 382.9,319.5 384.3,319.4 385.7,319.3 387.1,319.3 388.6,319.2 390.0,319.1 391.4,319.1 392.8,319.0 394.2,318.9 395.6,318.7 397.0,318.6 398.4,318.5 399.9,318.4 401.3,318.2 402.7,318.2 404.1,318.1 405.5,318.0 406.9,318.0 408.3,317.9 409.7,317.7 411.2,317.7 412.6,317.7 414.0,317.6 415.4,317.5 416.8,317.4 418.2,317.3 419.6,317.3 421.0,317.2 422.5,317.1 423.9,317.0 425.3,316.7 426.7,316.5 428.1,316.3 429.5,316.0 430.9,315.7 432.3,315.4 433.8,315.1 435.2,314.8 436.6,314.5 438.0,314.1 439.4,313.7 440.8,313.3 442.2,313.0 443.6,312.7 445.1,312.4 446.5,312.0 447.9,311.7 449.3,311.5 450.7,311.2 452.1,310.8 453.5,310.5 454.9,310.2 456.4,309.9 457.8,309.5 459.2,309.1 460.6,308.8 462.0,308.5 463.4,308.2 464.8,308.1 466.2,308.0 467.7,307.8 469.1,307.7 470.5,307.5 471.9,307.4 473.3,307.2 474.7,307.1 476.1,306.9 477.5,306.9 478.9,306.7 480.4,306.6 481.8,306.6 483.2,306.6 484.6,306.5 486.0,306.4 487.4,306.4 488.8,306.3 490.2,306.3 491.7,306.4 493.1,306.4 494.5,306.5 495.9,306.5 497.3,306.7 498.7,306.8 500.1,306.8 501.5,306.9 503.0,307.0 504.4,307.1 505.8,307.2 507.2,307.4 508.6,307.6 510.0,307.8 511.4,308.1 512.8,308.4 514.3,308.6 515.7,308.9 517.1,309.2 518.5,309.5 519.9,309.8 521.3,310.1 522.7,310.4 524.1,310.6 525.6,310.9 527.0,311.0 528.4,311.2 529.8,311.4 531.2,311.5 532.6,311.5 534.0,311.4 535.4,311.4 536.9,311.2 538.3,310.9 539.7,310.6 541.1,310.1 542.5,309.4 543.9,308.7 545.3,307.9 546.7,307.3 548.2,306.8 549.6,306.4 551.0,306.1 552.4,305.8 553.8,305.5 555.2,305.3 556.6,305.1 558.0,304.9 559.5,304.6 560.9,304.4 562.3,304.2 563.7,303.9 565.1,303.6 566.5,303.3 567.9,302.9 569.3,302.5 570.8,302.1 572.2,301.7 573.6,301.3 575.0,300.8 576.4,300.4 577.8,299.9 579.2,299.5 580.6,299.1 582.0,298.7 583.5,298.3 584.9,297.9 586.3,297.4 587.7,297.0 589.1,296.7 590.5,296.2 591.9,295.8 593.3,295.4 594.8,294.9 596.2,294.4 597.6,293.9 599.0,293.4 600.4,292.9 601.8,292.3 603.2,291.6 604.6,290.8 606.1,290.1 607.5,289.2 608.9,288.4 610.3,287.4 611.7,286.6 613.1,285.8 614.5,285.2 615.9,284.8 617.4,284.4 618.8,284.0 620.2,283.5 621.6,283.1 623.0,282.5 624.4,282.0 625.8,281.5 627.2,281.0 628.7,280.3 630.1,279.7 631.5,278.9 632.9,278.1 634.3,277.1 635.7,276.1 637.1,274.9 638.5,273.7 640.0,272.5 641.4,271.4 642.8,270.2 644.2,269.1 645.6,268.0 647.0,267.0 648.4,265.8 649.8,264.8 651.3,263.8 652.7,262.7 654.1,261.7 655.5,260.6 656.9,259.6 658.3,258.7 659.7,257.7 661.1,256.8 662.6,255.9 664.0,255.0 665.4,254.1 666.8,253.2 668.2,252.2 669.6,251.2 671.0,250.3 672.4,249.2 673.8,248.1 675.3,247.0 676.7,245.8 678.1,244.6 679.5,243.4 680.9,242.4 682.3,241.4 683.7,240.7 685.1,240.0 686.6,239.5 688.0,238.9 689.4,238.3 690.8,237.7 692.2,237.1 693.6,236.6 695.0,236.1 696.4,235.6 697.9,235.1 699.3,234.6 700.7,234.1 702.1,233.6 703.5,233.1 704.9,232.6 706.3,232.1 707.7,231.6 709.2,231.1 710.6,230.6 712.0,230.2 713.4,229.7 714.8,229.2 716.2,228.8 717.6,228.4 719.0,228.0 720.5,227.6 721.9,227.3 723.3,226.8 724.7,226.4 726.1,226.0 727.5,225.5 728.9,225.2 730.3,224.8 731.8,224.4 733.2,224.0 734.6,223.6 736.0,223.2 737.4,222.7 738.8,222.4 740.2,221.9 741.6,221.5 743.1,221.1 744.5,220.7 745.9,220.3 747.3,219.9 748.7,219.5 750.1,219.2 751.5,219.0 752.9,218.8 754.4,218.6 755.8,218.5 757.2,218.5 758.6,218.5 760.0,218.5" fill="none" stroke="#fb961e" stroke-width="1.35"/>
<polyline points="3.0,389.0 4.4,389.2 5.8,389.4 7.2,389.7 8.6,389.9 10.1,390.2 11.5,390.5 12.9,390.7 14.3,391.1 15.7,391.4 17.1,391.7 18.5,392.1 19.9,392.4 21.4,392.8 22.8,393.2 24.2,393.6 25.6,394.1 27.0,394.7 28.4,395.3 29.8,395.7 31.2,396.3 32.7,396.7 34.1,397.0 35.5,397.3 36.9,397.6 38.3,397.8 39.7,398.1 41.1,398.3 42.5,398.7 44.0,399.0 45.4,399.3 46.8,399.6 48.2,399.9 49.6,400.1 51.0,400.3 52.4,400.5 53.8,400.7 55.3,401.0 56.7,401.2 58.1,401.5 59.5,401.7 60.9,402.0 62.3,402.2 63.7,402.4 65.1,402.6 66.6,402.8 68.0,403.1 69.4,403.5 70.8,403.7 72.2,404.0 73.6,404.3 75.0,404.6 76.4,404.9 77.9,405.2 79.3,405.5 80.7,405.7 82.1,406.0 83.5,406.3 84.9,406.6 86.3,407.0 87.7,407.3 89.2,407.6 90.6,407.9 92.0,408.2 93.4,408.3 94.8,408.4 96.2,408.3 97.6,408.2 99.0,408.0 100.4,407.8 101.9,407.7 103.3,407.5 104.7,407.3 106.1,407.2 107.5,407.0 108.9,406.9 110.3,406.7 111.7,406.5 113.2,406.3 114.6,406.1 116.0,405.9 117.4,405.8 118.8,405.6 120.2,405.2 121.6,404.9 123.0,404.5 124.5,404.3 125.9,404.2 127.3,404.1 128.7,404.0 130.1,403.9 131.5,403.8 132.9,403.6 134.3,403.4 135.8,403.2 137.2,403.0 138.6,402.8 140.0,402.6 141.4,402.4 142.8,402.1 144.2,401.9 145.6,401.6 147.1,401.4 148.5,401.0 149.9,400.7 151.3,400.3 152.7,399.9 154.1,399.6 155.5,399.5 156.9,399.3 158.4,399.2 159.8,399.1 161.2,399.0 162.6,398.8 164.0,398.7 165.4,398.5 166.8,398.4 168.2,398.2 169.7,398.0 171.1,397.9 172.5,397.8 173.9,397.6 175.3,397.5 176.7,397.4 178.1,397.3 179.5,397.3 181.0,397.2 182.4,397.3 183.8,397.3 185.2,397.4 186.6,397.5 188.0,397.7 189.4,397.8 190.8,398.0 192.2,398.2 193.7,398.4 195.1,398.6 196.5,398.8 197.9,399.0 199.3,399.2 200.7,399.3 202.1,399.4 203.5,399.5 205.0,399.4 206.4,399.4 207.8,399.3 209.2,399.2 210.6,399.0 212.0,398.8 213.4,398.6 214.8,398.4 216.3,398.1 217.7,397.8 219.1,397.6 220.5,397.3 221.9,397.0 223.3,396.6 224.7,396.2 226.1,395.8 227.6,395.4 229.0,394.9 230.4,394.4 231.8,393.9 233.2,393.3 234.6,392.7 236.0,392.0 237.4,391.3 238.9,390.6 240.3,389.8 241.7,389.0 243.1,388.1 244.5,387.3 245.9,386.4 247.3,385.5 248.7,384.6 250.2,383.6 251.6,382.5 253.0,381.4 254.4,380.1 255.8,378.8 257.2,377.4 258.6,375.9 260.0,374.4 261.5,372.8 262.9,371.1 264.3,369.2 265.7,367.3 267.1,365.2 268.5,362.9 269.9,360.4 271.3,357.8 272.8,355.2 274.2,353.1 275.6,351.4 277.0,350.1 278.4,349.1 279.8,348.2 281.2,347.3 282.6,346.5 284.1,345.7 285.5,344.8 286.9,344.1 288.3,343.3 289.7,342.6 291.1,341.9 292.5,341.2 293.9,340.5 295.3,339.9 296.8,339.3 298.2,338.6 299.6,338.0 301.0,337.4 302.4,336.8 303.8,336.2 305.2,335.6 306.6,335.0 308.1,334.3 309.5,333.7 310.9,333.2 312.3,332.7 313.7,332.3 315.1,331.9 316.5,331.6 317.9,331.3 319.4,331.0 320.8,330.8 322.2,330.6 323.6,330.3 325.0,330.1 326.4,329.9 327.8,329.7 329.2,329.4 330.7,329.3 332.1,329.0 333.5,328.8 334.9,328.7 336.3,328.5 337.7,328.2 339.1,328.0 340.5,327.8 342.0,327.6 343.4,327.3 344.8,327.1 346.2,326.9 347.6,326.6 349.0,326.4 350.4,326.2 351.8,325.9 353.3,325.7 354.7,325.4 356.1,325.1 357.5,324.9 358.9,324.6 360.3,324.4 361.7,324.1 363.1,323.9 364.6,323.6 366.0,323.3 367.4,323.0 368.8,322.7 370.2,322.5 371.6,322.2 373.0,321.9 374.4,321.6 375.9,321.4 377.3,321.1 378.7,320.8 380.1,320.6 381.5,320.4 382.9,320.3 384.3,320.1 385.7,320.0 387.1,319.9 388.6,319.8 390.0,319.7 391.4,319.7 392.8,319.6 394.2,319.4 395.6,319.3 397.0,319.2 398.4,319.1 399.9,318.9 401.3,318.8 402.7,318.7 404.1,318.6 405.5,318.5 406.9,318.4 408.3,318.3 409.7,318.2 411.2,318.1 412.6,318.1 414.0,318.0 415.4,317.9 416.8,317.8 418.2,317.7 419.6,317.7 421.0,317.6 422.5,317.4 423.9,317.3 425.3,317.1 426.7,316.9 428.1,316.7 429.5,316.4 430.9,316.1 432.3,315.9 433.8,315.6 435.2,315.2 436.6,315.0 438.0,314.6 439.4,314.2 440.8,313.9 442.2,313.5 443.6,313.2 445.1,313.0 446.5,312.6 447.9,312.3 449.3,312.1 450.7,311.8 452.1,311.4 453.5,311.1 454.9,310.8 456.4,310.5 457.8,310.1 459.2,309.8 460.6,309.5 462.0,309.2 463.4,308.9 464.8,308.8 466.2,308.6 467.7,308.5 469.1,308.3 470.5,308.1 471.9,308.0 473.3,307.8 474.7,307.7 476.1,307.5 477.5,307.4 478.9,307.3 480.4,307.2 481.8,307.1 483.2,307.1 484.6,307.0 486.0,306.9 487.4,306.8 488.8,306.8 490.2,306.7 491.7,306.8 493.1,306.8 494.5,306.8 495.9,306.8 497.3,307.0 498.7,307.1 500.1,307.1 501.5,307.1 503.0,307.2 504.4,307.3 505.8,307.4 507.2,307.6 508.6,307.7 510.0,307.9 511.4,308.1 512.8,308.4 514.3,308.6 515.7,308.9 517.1,309.1 518.5,309.4 519.9,309.7 521.3,310.0 522.7,310.2 524.1,310.4 525.6,310.6 527.0,310.8 528.4,311.0 529.8,311.2 531.2,311.2 532.6,311.3 534.0,311.2 535.4,311.2 536.9,311.0 538.3,310.8 539.7,310.5 541.1,310.0 542.5,309.5 543.9,308.8 545.3,308.1 546.7,307.6 548.2,307.1 549.6,306.8 551.0,306.5 552.4,306.2 553.8,305.9 555.2,305.7 556.6,305.5 558.0,305.3 559.5,305.0 560.9,304.8 562.3,304.6 563.7,304.3 565.1,304.0 566.5,303.7 567.9,303.4 569.3,303.0 570.8,302.6 572.2,302.2 573.6,301.9 575.0,301.4 576.4,301.0 577.8,300.6 579.2,300.2 580.6,299.7 582.0,299.4 583.5,299.0 584.9,298.6 586.3,298.2 587.7,297.8 589.1,297.4 590.5,297.0 591.9,296.6 593.3,296.2 594.8,295.7 596.2,295.2 597.6,294.8 599.0,294.3 600.4,293.8 601.8,293.2 603.2,292.6 604.6,291.8 606.1,291.1 607.5,290.3 608.9,289.5 610.3,288.6 611.7,287.8 613.1,287.0 614.5,286.5 615.9,286.0 617.4,285.6 618.8,285.2 620.2,284.8 621.6,284.3 623.0,283.8 624.4,283.2 625.8,282.7 627.2,282.2 628.7,281.6 630.1,281.0 631.5,280.2 632.9,279.4 634.3,278.5 635.7,277.5 637.1,276.4 638.5,275.3 640.0,274.1 641.4,273.0 642.8,271.9 644.2,270.9 645.6,269.8 647.0,268.8 648.4,267.7 649.8,266.7 651.3,265.7 652.7,264.7 654.1,263.7 655.5,262.7 656.9,261.7 658.3,260.7 659.7,259.8 661.1,258.9 662.6,258.0 664.0,257.1 665.4,256.2 666.8,255.3 668.2,254.4 669.6,253.4 671.0,252.4 672.4,251.4 673.8,250.3 675.3,249.2 676.7,248.0 678.1,246.9 679.5,245.8 680.9,244.7 682.3,243.8 683.7,243.0 685.1,242.3 686.6,241.7 688.0,241.1 689.4,240.5 690.8,239.9 692.2,239.3 693.6,238.7 695.0,238.1 696.4,237.6 697.9,237.1 699.3,236.6 700.7,236.0 702.1,235.5 703.5,235.0 704.9,234.5 706.3,233.9 707.7,233.4 709.2,232.9 710.6,232.3 712.0,231.9 713.4,231.4 714.8,230.9 716.2,230.5 717.6,230.0 719.0,229.6 720.5,229.2 721.9,228.8 723.3,228.3 724.7,227.9 726.1,227.4 727.5,227.0 728.9,226.7 730.3,226.3 731.8,225.8 733.2,225.4 734.6,224.9 736.0,224.5 737.4,224.0 738.8,223.7 740.2,223.2 741.6,222.8 743.1,222.4 744.5,222.0 745.9,221.6 747.3,221.1 748.7,220.7 750.1,220.4 751.5,220.2 752.9,219.9 754.4,219.7 755.8,219.6 757.2,219.5 758.6,219.5 760.0,219.5" fill="none" stroke="#f9941c" stroke-width="1.35"/>
<polyline points="3.0,388.7 4.4,388.9 5.8,389.1 7.2,389.3 8.6,389.5 10.1,389.8 11.5,390.1 12.9,390.3 14.3,390.7 15.7,391.0 17.1,391.3 18.5,391.6 19.9,392.0 21.4,392.3 22.8,392.7 24.2,393.1 25.6,393.6 27.0,394.1 28.4,394.6 29.8,395.1 31.2,395.6 32.7,396.0 34.1,396.3 35.5,396.6 36.9,396.9 38.3,397.1 39.7,397.4 41.1,397.7 42.5,398.0 44.0,398.3 45.4,398.6 46.8,398.9 48.2,399.2 49.6,399.4 51.0,399.6 52.4,399.8 53.8,400.0 55.3,400.3 56.7,400.6 58.1,400.8 59.5,401.1 60.9,401.3 62.3,401.6 63.7,401.8 65.1,402.0 66.6,402.2 68.0,402.5 69.4,402.8 70.8,403.1 72.2,403.3 73.6,403.7 75.0,403.9 76.4,404.2 77.9,404.5 79.3,404.8 80.7,405.1 82.1,405.3 83.5,405.6 84.9,405.9 86.3,406.3 87.7,406.6 89.2,406.9 90.6,407.2 92.0,407.5 93.4,407.7 94.8,407.7 96.2,407.7 97.6,407.6 99.0,407.5 100.4,407.3 101.9,407.2 103.3,407.1 104.7,406.9 106.1,406.8 107.5,406.7 108.9,406.5 110.3,406.4 111.7,406.3 113.2,406.1 114.6,405.9 116.0,405.8 117.4,405.6 118.8,405.4 120.2,405.1 121.6,404.8 123.0,404.5 124.5,404.3 125.9,404.2 127.3,404.1 128.7,404.1 130.1,403.9 131.5,403.8 132.9,403.7 134.3,403.5 135.8,403.3 137.2,403.1 138.6,403.0 140.0,402.8 141.4,402.6 142.8,402.3 144.2,402.1 145.6,401.8 147.1,401.6 148.5,401.3 149.9,401.0 151.3,400.6 152.7,400.3 154.1,400.0 155.5,399.8 156.9,399.6 158.4,399.5 159.8,399.4 161.2,399.3 162.6,399.2 164.0,399.0 165.4,398.9 166.8,398.7 168.2,398.5 169.7,398.4 171.1,398.3 172.5,398.1 173.9,398.0 175.3,397.9 176.7,397.7 178.1,397.6 179.5,397.6 181.0,397.6 182.4,397.6 183.8,397.6 185.2,397.7 186.6,397.8 188.0,397.9 189.4,398.0 190.8,398.2 192.2,398.4 193.7,398.5 195.1,398.7 196.5,398.9 197.9,399.0 199.3,399.2 200.7,399.3 202.1,399.4 203.5,399.5 205.0,399.4 206.4,399.4 207.8,399.3 209.2,399.2 210.6,399.0 212.0,398.9 213.4,398.7 214.8,398.5 216.3,398.2 217.7,398.0 219.1,397.7 220.5,397.5 221.9,397.2 223.3,396.8 224.7,396.5 226.1,396.1 227.6,395.8 229.0,395.3 230.4,394.8 231.8,394.4 233.2,393.8 234.6,393.2 236.0,392.6 237.4,391.9 238.9,391.2 240.3,390.5 241.7,389.7 243.1,388.9 244.5,388.1 245.9,387.3 247.3,386.5 248.7,385.6 250.2,384.6 251.6,383.6 253.0,382.6 254.4,381.4 255.8,380.1 257.2,378.8 258.6,377.5 260.0,376.0 261.5,374.5 262.9,372.9 264.3,371.2 265.7,369.3 267.1,367.4 268.5,365.2 269.9,362.9 271.3,360.4 272.8,358.0 274.2,356.0 275.6,354.3 277.0,353.0 278.4,352.1 279.8,351.1 281.2,350.2 282.6,349.3 284.1,348.5 285.5,347.6 286.9,346.8 288.3,346.0 289.7,345.2 291.1,344.5 292.5,343.8 293.9,343.1 295.3,342.4 296.8,341.8 298.2,341.1 299.6,340.4 301.0,339.8 302.4,339.2 303.8,338.5 305.2,337.9 306.6,337.2 308.1,336.6 309.5,335.9 310.9,335.4 312.3,334.8 313.7,334.4 315.1,334.0 316.5,333.6 317.9,333.2 319.4,332.9 320.8,332.6 322.2,332.4 323.6,332.1 325.0,331.8 326.4,331.5 327.8,331.3 329.2,331.0 330.7,330.8 332.1,330.5 333.5,330.3 334.9,330.1 336.3,329.9 337.7,329.6 339.1,329.3 340.5,329.1 342.0,328.8 343.4,328.5 344.8,328.3 346.2,328.0 347.6,327.8 349.0,327.5 350.4,327.3 351.8,327.0 353.3,326.7 354.7,326.4 356.1,326.2 357.5,325.9 358.9,325.6 360.3,325.4 361.7,325.1 363.1,324.8 364.6,324.5 366.0,324.2 367.4,323.9 368.8,323.7 370.2,323.4 371.6,323.1 373.0,322.8 374.4,322.5 375.9,322.3 377.3,322.0 378.7,321.7 380.1,321.5 381.5,321.3 382.9,321.1 384.3,320.9 385.7,320.8 387.1,320.7 388.6,320.6 390.0,320.5 391.4,320.4 392.8,320.2 394.2,320.1 395.6,319.9 397.0,319.8 398.4,319.7 399.9,319.5 401.3,319.4 402.7,319.3 404.1,319.2 405.5,319.1 406.9,319.0 408.3,318.9 409.7,318.7 411.2,318.7 412.6,318.6 414.0,318.5 415.4,318.4 416.8,318.3 418.2,318.2 419.6,318.1 421.0,318.0 422.5,317.9 423.9,317.7 425.3,317.5 426.7,317.3 428.1,317.1 429.5,316.8 430.9,316.6 432.3,316.3 433.8,316.0 435.2,315.7 436.6,315.5 438.0,315.1 439.4,314.7 440.8,314.4 442.2,314.1 443.6,313.8 445.1,313.5 446.5,313.2 447.9,312.9 449.3,312.7 450.7,312.4 452.1,312.0 453.5,311.7 454.9,311.4 456.4,311.1 457.8,310.8 459.2,310.4 460.6,310.1 462.0,309.8 463.4,309.6 464.8,309.4 466.2,309.3 467.7,309.1 469.1,308.9 470.5,308.7 471.9,308.6 473.3,308.4 474.7,308.2 476.1,308.1 477.5,308.0 478.9,307.8 480.4,307.7 481.8,307.6 483.2,307.6 484.6,307.5 486.0,307.4 487.4,307.3 488.8,307.2 490.2,307.2 491.7,307.2 493.1,307.2 494.5,307.2 495.9,307.2 497.3,307.3 498.7,307.4 500.1,307.4 501.5,307.4 503.0,307.5 504.4,307.6 505.8,307.6 507.2,307.8 508.6,307.9 510.0,308.1 511.4,308.3 512.8,308.5 514.3,308.7 515.7,308.9 517.1,309.2 518.5,309.4 519.9,309.6 521.3,309.9 522.7,310.1 524.1,310.3 525.6,310.5 527.0,310.7 528.4,310.8 529.8,311.0 531.2,311.1 532.6,311.1 534.0,311.1 535.4,311.0 536.9,310.9 538.3,310.7 539.7,310.4 541.1,310.0 542.5,309.5 543.9,308.9 545.3,308.3 546.7,307.8 548.2,307.4 549.6,307.0 551.0,306.8 552.4,306.5 553.8,306.3 555.2,306.1 556.6,305.8 558.0,305.6 559.5,305.4 560.9,305.2 562.3,305.0 563.7,304.7 565.1,304.4 566.5,304.2 567.9,303.8 569.3,303.5 570.8,303.1 572.2,302.7 573.6,302.4 575.0,301.9 576.4,301.6 577.8,301.1 579.2,300.8 580.6,300.4 582.0,300.0 583.5,299.6 584.9,299.2 586.3,298.8 587.7,298.4 589.1,298.1 590.5,297.7 591.9,297.3 593.3,296.9 594.8,296.4 596.2,296.0 597.6,295.5 599.0,295.1 600.4,294.6 601.8,294.0 603.2,293.4 604.6,292.7 606.1,292.0 607.5,291.3 608.9,290.5 610.3,289.7 611.7,288.9 613.1,288.2 614.5,287.6 615.9,287.2 617.4,286.7 618.8,286.3 620.2,285.9 621.6,285.4 623.0,284.9 624.4,284.4 625.8,283.9 627.2,283.4 628.7,282.8 630.1,282.2 631.5,281.4 632.9,280.7 634.3,279.8 635.7,278.9 637.1,277.8 638.5,276.7 640.0,275.6 641.4,274.6 642.8,273.5 644.2,272.5 645.6,271.5 647.0,270.6 648.4,269.5 649.8,268.5 651.3,267.5 652.7,266.5 654.1,265.6 655.5,264.6 656.9,263.6 658.3,262.7 659.7,261.8 661.1,260.8 662.6,259.9 664.0,259.1 665.4,258.2 666.8,257.3 668.2,256.4 669.6,255.4 671.0,254.5 672.4,253.4 673.8,252.4 675.3,251.3 676.7,250.2 678.1,249.1 679.5,248.0 680.9,246.9 682.3,246.0 683.7,245.2 685.1,244.5 686.6,243.9 688.0,243.2 689.4,242.6 690.8,242.0 692.2,241.3 693.6,240.7 695.0,240.1 696.4,239.6 697.9,239.1 699.3,238.5 700.7,237.9 702.1,237.4 703.5,236.9 704.9,236.3 706.3,235.7 707.7,235.2 709.2,234.7 710.6,234.1 712.0,233.6 713.4,233.1 714.8,232.6 716.2,232.2 717.6,231.7 719.0,231.2 720.5,230.8 721.9,230.4 723.3,229.9 724.7,229.4 726.1,229.0 727.5,228.5 728.9,228.1 730.3,227.7 731.8,227.3 733.2,226.8 734.6,226.4 736.0,225.9 737.4,225.5 738.8,225.1 740.2,224.6 741.6,224.1 743.1,223.7 744.5,223.3 745.9,222.9 747.3,222.4 748.7,222.0 750.1,221.7 751.5,221.4 752.9,221.2 754.4,220.9 755.8,220.8 757.2,220.7 758.6,220.5 760.0,220.5" fill="none" stroke="#f6921a" stroke-width="1.35"/>
<polyline points="3.0,388.1 4.4,388.3 5.8,388.5 7.2,388.7 8.6,388.9 10.1,389.1 11.5,389.4 12.9,389.6 14.3,389.9 15.7,390.2 17.1,390.5 18.5,390.8 19.9,391.1 21.4,391.4 22.8,391.8 24.2,392.1 25.6,392.6 27.0,393.0 28.4,393.5 29.8,393.9 31.2,394.4 32.7,394.8 34.1,395.1 35.5,395.4 36.9,395.6 38.3,395.9 39.7,396.1 41.1,396.4 42.5,396.7 44.0,397.0 45.4,397.3 46.8,397.6 48.2,397.9 49.6,398.1 51.0,398.3 52.4,398.6 53.8,398.8 55.3,399.0 56.7,399.3 58.1,399.5 59.5,399.8 60.9,400.0 62.3,400.3 63.7,400.5 65.1,400.7 66.6,401.0 68.0,401.2 69.4,401.5 70.8,401.8 72.2,402.1 73.6,402.4 75.0,402.7 76.4,402.9 77.9,403.2 79.3,403.5 80.7,403.8 82.1,404.0 83.5,404.3 84.9,404.6 86.3,405.0 87.7,405.3 89.2,405.5 90.6,405.8 92.0,406.1 93.4,406.3 94.8,406.4 96.2,406.4 97.6,406.4 99.0,406.3 100.4,406.2 101.9,406.2 103.3,406.1 104.7,406.0 106.1,405.9 107.5,405.9 108.9,405.8 110.3,405.7 111.7,405.6 113.2,405.5 114.6,405.3 116.0,405.2 117.4,405.1 118.8,405.0 120.2,404.8 121.6,404.5 123.0,404.3 124.5,404.1 125.9,404.0 127.3,404.0 128.7,403.9 130.1,403.8 131.5,403.7 132.9,403.6 134.3,403.4 135.8,403.3 137.2,403.1 138.6,403.0 140.0,402.9 141.4,402.7 142.8,402.5 144.2,402.2 145.6,402.0 147.1,401.8 148.5,401.6 149.9,401.3 151.3,401.0 152.7,400.7 154.1,400.4 155.5,400.3 156.9,400.1 158.4,400.0 159.8,399.9 161.2,399.8 162.6,399.7 164.0,399.5 165.4,399.4 166.8,399.2 168.2,399.1 169.7,398.9 171.1,398.8 172.5,398.7 173.9,398.5 175.3,398.4 176.7,398.3 178.1,398.2 179.5,398.1 181.0,398.1 182.4,398.1 183.8,398.1 185.2,398.2 186.6,398.2 188.0,398.3 189.4,398.4 190.8,398.5 192.2,398.6 193.7,398.8 195.1,398.9 196.5,399.1 197.9,399.2 199.3,399.3 200.7,399.4 202.1,399.5 203.5,399.5 205.0,399.5 206.4,399.5 207.8,399.4 209.2,399.3 210.6,399.2 212.0,399.0 213.4,398.8 214.8,398.7 216.3,398.5 217.7,398.2 219.1,398.0 220.5,397.8 221.9,397.6 223.3,397.2 224.7,396.9 226.1,396.6 227.6,396.3 229.0,395.9 230.4,395.5 231.8,395.1 233.2,394.5 234.6,394.0 236.0,393.5 237.4,392.9 238.9,392.3 240.3,391.7 241.7,391.0 243.1,390.3 244.5,389.6 245.9,388.8 247.3,388.1 248.7,387.3 250.2,386.4 251.6,385.6 253.0,384.6 254.4,383.5 255.8,382.4 257.2,381.3 258.6,380.0 260.0,378.8 261.5,377.4 262.9,376.0 264.3,374.4 265.7,372.7 267.1,371.0 268.5,369.1 269.9,367.0 271.3,364.8 272.8,362.6 274.2,360.8 275.6,359.2 277.0,358.0 278.4,357.0 279.8,356.1 281.2,355.2 282.6,354.3 284.1,353.4 285.5,352.5 286.9,351.7 288.3,350.9 289.7,350.1 291.1,349.3 292.5,348.5 293.9,347.8 295.3,347.1 296.8,346.4 298.2,345.7 299.6,345.0 301.0,344.3 302.4,343.6 303.8,342.9 305.2,342.2 306.6,341.5 308.1,340.8 309.5,340.2 310.9,339.6 312.3,339.0 313.7,338.4 315.1,338.0 316.5,337.5 317.9,337.1 319.4,336.7 320.8,336.4 322.2,336.0 323.6,335.6 325.0,335.3 326.4,335.0 327.8,334.6 329.2,334.3 330.7,334.0 332.1,333.7 333.5,333.4 334.9,333.1 336.3,332.8 337.7,332.5 339.1,332.2 340.5,331.9 342.0,331.6 343.4,331.2 344.8,331.0 346.2,330.7 347.6,330.4 349.0,330.0 350.4,329.8 351.8,329.5 353.3,329.1 354.7,328.8 356.1,328.5 357.5,328.2 358.9,327.9 360.3,327.6 361.7,327.3 363.1,327.0 364.6,326.7 366.0,326.4 367.4,326.1 368.8,325.8 370.2,325.5 371.6,325.2 373.0,324.8 374.4,324.5 375.9,324.3 377.3,323.9 378.7,323.7 380.1,323.4 381.5,323.2 382.9,323.0 384.3,322.8 385.7,322.6 387.1,322.5 388.6,322.3 390.0,322.1 391.4,322.0 392.8,321.8 394.2,321.7 395.6,321.5 397.0,321.4 398.4,321.2 399.9,321.0 401.3,320.8 402.7,320.7 404.1,320.6 405.5,320.4 406.9,320.3 408.3,320.2 409.7,320.0 411.2,319.9 412.6,319.8 414.0,319.7 415.4,319.6 416.8,319.5 418.2,319.3 419.6,319.2 421.0,319.1 422.5,319.0 423.9,318.8 425.3,318.6 426.7,318.4 428.1,318.2 429.5,317.9 430.9,317.7 432.3,317.4 433.8,317.1 435.2,316.8 436.6,316.6 438.0,316.2 439.4,315.9 440.8,315.6 442.2,315.3 443.6,315.0 445.1,314.7 446.5,314.4 447.9,314.1 449.3,313.9 450.7,313.6 452.1,313.3 453.5,313.0 454.9,312.7 456.4,312.4 457.8,312.1 459.2,311.7 460.6,311.4 462.0,311.2 463.4,310.9 464.8,310.7 466.2,310.5 467.7,310.3 469.1,310.2 470.5,310.0 471.9,309.8 473.3,309.6 474.7,309.4 476.1,309.3 477.5,309.1 478.9,309.0 480.4,308.8 481.8,308.7 483.2,308.7 484.6,308.6 486.0,308.4 487.4,308.3 488.8,308.2 490.2,308.2 491.7,308.1 493.1,308.1 494.5,308.1 495.9,308.1 497.3,308.1 498.7,308.1 500.1,308.1 501.5,308.1 503.0,308.2 504.4,308.2 505.8,308.2 507.2,308.3 508.6,308.4 510.0,308.5 511.4,308.7 512.8,308.9 514.3,309.0 515.7,309.2 517.1,309.4 518.5,309.6 519.9,309.8 521.3,310.0 522.7,310.2 524.1,310.3 525.6,310.5 527.0,310.6 528.4,310.8 529.8,310.9 531.2,311.0 532.6,311.0 534.0,311.0 535.4,311.0 536.9,310.9 538.3,310.7 539.7,310.5 541.1,310.1 542.5,309.7 543.9,309.2 545.3,308.7 546.7,308.2 548.2,307.9 549.6,307.6 551.0,307.3 552.4,307.1 553.8,306.9 555.2,306.7 556.6,306.5 558.0,306.3 559.5,306.1 560.9,305.9 562.3,305.6 563.7,305.4 565.1,305.2 566.5,304.9 567.9,304.6 569.3,304.3 570.8,303.9 572.2,303.6 573.6,303.3 575.0,302.9 576.4,302.6 577.8,302.2 579.2,301.8 580.6,301.4 582.0,301.1 583.5,300.8 584.9,300.4 586.3,300.0 587.7,299.7 589.1,299.3 590.5,299.0 591.9,298.6 593.3,298.2 594.8,297.8 596.2,297.4 597.6,296.9 599.0,296.5 600.4,296.0 601.8,295.5 603.2,295.0 604.6,294.3 606.1,293.7 607.5,293.0 608.9,292.3 610.3,291.6 611.7,290.9 613.1,290.2 614.5,289.7 615.9,289.2 617.4,288.8 618.8,288.4 620.2,287.9 621.6,287.5 623.0,287.0 624.4,286.5 625.8,286.0 627.2,285.5 628.7,284.9 630.1,284.3 631.5,283.7 632.9,282.9 634.3,282.1 635.7,281.3 637.1,280.3 638.5,279.3 640.0,278.3 641.4,277.4 642.8,276.4 644.2,275.4 645.6,274.5 647.0,273.6 648.4,272.6 649.8,271.7 651.3,270.8 652.7,269.9 654.1,268.9 655.5,268.0 656.9,267.1 658.3,266.2 659.7,265.3 661.1,264.4 662.6,263.5 664.0,262.7 665.4,261.8 666.8,261.0 668.2,260.1 669.6,259.2 671.0,258.2 672.4,257.3 673.8,256.3 675.3,255.3 676.7,254.2 678.1,253.1 679.5,252.0 680.9,251.0 682.3,250.1 683.7,249.3 685.1,248.6 686.6,247.9 688.0,247.3 689.4,246.6 690.8,245.9 692.2,245.3 693.6,244.7 695.0,244.0 696.4,243.5 697.9,242.9 699.3,242.3 700.7,241.7 702.1,241.1 703.5,240.5 704.9,240.0 706.3,239.3 707.7,238.8 709.2,238.2 710.6,237.6 712.0,237.1 713.4,236.6 714.8,236.0 716.2,235.6 717.6,235.0 719.0,234.5 720.5,234.1 721.9,233.6 723.3,233.1 724.7,232.6 726.1,232.1 727.5,231.7 728.9,231.2 730.3,230.8 731.8,230.3 733.2,229.8 734.6,229.3 736.0,228.9 737.4,228.4 738.8,228.0 740.2,227.5 741.6,227.0 743.1,226.6 744.5,226.1 745.9,225.7 747.3,225.2 748.7,224.8 750.1,224.4 751.5,224.1 752.9,223.8 754.4,223.5 755.8,223.3 757.2,223.1 758.6,222.9 760.0,222.8" fill="none" stroke="#f39018" stroke-width="1.35"/>
<path d="M4.5 392.6V395.5M9.5 392.8V395.5M13.5 395.9V397.8M17.5 398.5V399.4M30.5 405.4V408.9M33.5 403.5V407.8M34.5 403.9V406.7M37.5 402.4V405.7M38.5 401.4V403.4M41.5 403.7V405.0M44.5 405.8V407.9M45.5 404.9V406.1M48.5 403.1V407.1M51.5 404.1V406.4M54.5 404.5V405.8M58.5 405.0V407.7M61.5 406.8V408.4M64.5 407.1V408.1M65.5 405.7V407.4M71.5 409.8V411.1M72.5 409.4V409.9M75.5 410.8V412.9M82.5 410.1V412.0M88.5 413.3V415.8M89.5 413.5V414.2M93.5 411.1V415.8M95.5 408.9V412.2M96.5 405.2V409.5M98.5 404.7V407.4M99.5 404.2V405.9M100.5 403.1V405.0M103.5 402.6V406.1M108.5 403.0V405.6M109.5 401.1V404.4M113.5 402.0V403.2M115.5 400.5V403.2M117.5 401.8V403.2M119.5 399.9V402.9M120.5 398.1V400.9M122.5 396.3V398.3M123.5 396.7V397.8M129.5 401.9V403.1M130.5 400.7V403.6M132.5 400.1V401.4M133.5 399.2V400.7M134.5 398.5V400.5M136.5 397.6V399.2M140.5 397.4V399.7M141.5 396.8V400.0M143.5 395.9V397.3M144.5 395.6V396.7M147.5 395.7V397.1M148.5 393.2V397.1M150.5 392.6V394.3M151.5 390.6V393.9M157.5 395.5V396.9M163.5 395.4V397.8M164.5 393.7V396.5M167.5 394.3V395.4M168.5 393.0V395.6M170.5 394.0V395.3M172.5 394.2V397.6M174.5 393.8V394.8M177.5 393.6V395.0M192.5 401.0V402.8M194.5 402.2V403.6M196.5 401.1V405.2M198.5 402.2V403.3M201.5 400.8V404.2M204.5 399.1V402.9M205.5 398.5V400.9M206.5 396.3V399.4M208.5 395.4V398.2M209.5 395.7V397.4M211.5 394.0V396.6M212.5 394.9V395.6M213.5 393.0V395.1M216.5 391.4V394.6M219.5 391.3V392.4M220.5 390.4V393.0M222.5 388.6V392.5M223.5 386.8V391.1M226.5 387.0V389.3M228.5 385.7V387.6M229.5 382.7V387.0M230.5 383.4V384.0M232.5 382.4V383.6M233.5 378.5V383.4M235.5 377.9V379.4M236.5 376.8V379.5M237.5 374.9V379.2M239.5 373.8V375.9M240.5 371.8V374.8M242.5 370.0V372.9M243.5 369.3V372.3M245.5 368.4V370.8M246.5 366.8V369.6M247.5 365.9V368.1M249.5 363.3V368.2M250.5 360.8V363.6M252.5 358.8V362.5M253.5 355.8V360.2M254.5 350.9V356.8M256.5 350.1V352.5M257.5 345.1V350.9M259.5 342.9V347.9M260.5 340.5V345.3M261.5 337.0V341.0M263.5 333.4V338.1M264.5 327.8V334.9M266.5 323.1V329.0M267.5 318.9V323.9M269.5 310.7V320.4M270.5 305.2V312.6M271.5 299.9V306.6M273.5 298.9V300.4M280.5 326.0V329.0M283.5 328.1V328.9M284.5 326.9V329.4M285.5 325.2V327.7M288.5 325.2V328.7M290.5 325.7V326.7M294.5 325.9V327.0M297.5 323.9V326.3M298.5 324.3V326.9M300.5 324.0V325.7M301.5 323.1V325.1M302.5 323.7V324.6M304.5 321.4V324.1M305.5 321.6V323.0M307.5 320.9V322.6M308.5 320.2V322.2M317.5 323.8V324.6M319.5 324.9V325.9M324.5 324.6V326.3M328.5 323.7V325.7M329.5 324.3V325.6M332.5 323.4V325.6M333.5 324.1V326.1M336.5 324.3V324.7M338.5 321.9V325.8M339.5 321.9V323.8M342.5 321.5V323.3M343.5 320.8V322.8M346.5 321.5V324.0M349.5 319.0V322.7M352.5 320.1V322.1M355.5 318.0V320.6M357.5 318.5V321.1M359.5 318.0V320.1M362.5 316.5V319.3M365.5 316.8V319.0M366.5 316.1V317.9M372.5 316.4V318.1M373.5 314.2V316.7M377.5 313.6V317.5M379.5 314.7V315.9M382.5 315.6V317.0M384.5 315.9V317.6M387.5 316.4V318.5M389.5 317.1V318.4M393.5 316.2V318.3M394.5 316.3V317.4M396.5 315.2V317.3M398.5 314.3V318.4M400.5 315.1V316.6M406.5 316.2V317.3M408.5 314.8V317.3M410.5 314.7V315.7M413.5 315.9V317.4M414.5 314.9V317.3M417.5 315.0V317.4M421.5 315.0V316.7M422.5 313.2V317.1M425.5 311.0V315.5M428.5 311.0V313.2M430.5 309.5V312.6M432.5 310.1V310.5M434.5 308.4V310.6M435.5 308.2V309.6M438.5 306.2V308.7M439.5 304.9V307.2M442.5 305.7V306.5M445.5 305.8V308.8M446.5 305.4V308.7M448.5 305.4V305.8M451.5 303.6V308.3M452.5 304.0V305.2M455.5 303.6V304.5M456.5 303.1V304.4M458.5 301.4V303.6M459.5 301.5V302.5M463.5 301.9V303.0M468.5 303.0V305.8M469.5 303.7V304.9M472.5 303.9V305.2M473.5 303.6V304.8M476.5 303.6V305.4M479.5 303.3V306.0M485.5 304.5V307.2M486.5 304.6V305.1M489.5 305.0V306.1M496.5 306.7V309.0M499.5 307.9V309.8M500.5 307.4V310.2M502.5 307.1V309.5M506.5 308.4V310.8M514.5 313.7V315.5M517.5 314.6V315.0M523.5 315.4V316.6M524.5 314.1V318.2M527.5 314.1V316.7M531.5 312.2V315.5M533.5 310.5V313.5M534.5 308.9V312.3M537.5 306.6V310.7M538.5 305.5V308.4M540.5 303.4V306.9M541.5 298.4V304.6M543.5 296.1V301.4M544.5 292.8V297.6M545.5 292.2V294.7M557.5 299.3V302.2M559.5 298.9V300.9M562.5 297.3V301.4M564.5 297.6V299.1M565.5 297.5V299.2M567.5 296.6V298.9M568.5 293.8V297.3M569.5 294.0V296.2M571.5 292.6V295.5M574.5 292.6V294.4M575.5 291.0V293.7M578.5 290.3V293.8M581.5 288.5V291.7M585.5 289.2V291.2M586.5 287.6V289.4M591.5 287.2V289.6M592.5 286.2V289.1M595.5 284.0V287.6M598.5 283.7V286.4M600.5 281.9V285.2M602.5 279.9V282.8M603.5 277.8V282.2M605.5 275.3V279.4M606.5 275.1V276.3M607.5 272.6V276.2M609.5 269.8V272.7M610.5 268.0V271.6M620.5 274.6V277.1M622.5 273.4V275.4M623.5 271.4V273.9M624.5 269.7V272.8M629.5 267.5V271.6M630.5 265.0V269.5M631.5 263.5V267.3M633.5 260.8V264.0M634.5 258.2V262.8M636.5 256.2V258.9M637.5 251.2V256.9M639.5 249.5V251.7M640.5 248.8V250.7M641.5 247.9V249.2M643.5 247.3V248.8M644.5 246.1V248.2M648.5 243.2V248.8M651.5 242.9V244.4M653.5 242.5V243.8M654.5 240.9V243.2M655.5 239.2V241.8M657.5 239.3V241.1M660.5 239.5V240.1M661.5 237.4V240.2M663.5 237.6V239.7M665.5 235.3V239.4M667.5 234.7V236.5M668.5 231.9V235.6M670.5 231.7V234.3M671.5 231.0V232.4M672.5 226.4V231.7M674.5 226.5V228.3M675.5 223.0V227.6M677.5 221.2V225.8M678.5 222.0V223.1M679.5 219.6V222.2M687.5 226.6V228.6M688.5 227.0V228.1M689.5 226.2V227.4M691.5 226.4V227.1M692.5 225.9V227.1M695.5 224.7V228.3M698.5 225.3V226.3M699.5 223.9V226.1M701.5 222.7V225.3M704.5 223.5V225.7M705.5 221.1V224.7M706.5 221.2V223.0M711.5 218.9V223.1M713.5 220.2V222.1M715.5 219.7V221.9M718.5 219.1V221.6M722.5 219.5V222.0M723.5 218.4V220.6M725.5 217.5V219.5M728.5 216.2V218.6M730.5 217.3V219.3M732.5 215.8V218.6M733.5 215.0V217.3M735.5 214.1V217.4M737.5 213.0V215.2M740.5 212.7V216.3M742.5 212.3V214.4M746.5 211.8V213.5M747.5 211.0V213.2M759.5 217.7V219.2" stroke="#e2304c" stroke-width="1" fill="none" shape-rendering="crispEdges"/>
<path d="M3.5 390.7V394.9M6.5 393.0V394.5M7.5 393.2V395.9M10.5 394.0V396.6M11.5 395.5V397.4M14.5 396.3V400.0M16.5 398.8V399.3M19.5 398.2V399.6M20.5 398.8V400.8M21.5 400.2V401.6M23.5 400.9V402.9M24.5 402.0V403.5M26.5 401.4V405.5M27.5 404.8V407.4M28.5 406.5V408.4M31.5 405.9V408.5M35.5 403.3V405.9M40.5 402.4V404.8M43.5 403.0V408.1M47.5 405.6V407.9M50.5 404.4V406.2M52.5 403.5V405.5M55.5 403.7V408.2M57.5 406.7V408.6M59.5 405.2V408.9M62.5 406.6V409.4M67.5 406.4V408.2M68.5 405.8V410.4M69.5 407.9V411.9M74.5 408.9V412.3M76.5 409.6V411.4M78.5 410.4V412.8M79.5 410.6V412.2M81.5 411.1V412.7M84.5 410.6V413.6M85.5 413.1V413.7M86.5 411.5V414.8M91.5 413.6V415.1M92.5 414.1V417.6M102.5 403.1V406.2M105.5 402.2V403.5M106.5 403.0V404.5M110.5 400.9V403.2M112.5 402.0V403.3M116.5 400.4V402.8M124.5 396.4V399.5M126.5 397.8V402.1M127.5 401.3V404.7M137.5 398.3V398.6M139.5 397.8V400.9M146.5 394.6V396.4M153.5 390.7V392.7M154.5 392.0V395.1M156.5 392.6V396.6M158.5 395.3V398.3M160.5 395.1V397.1M161.5 396.4V397.5M165.5 394.0V395.3M171.5 394.2V397.1M175.5 393.7V395.3M178.5 393.9V395.3M180.5 394.0V397.3M181.5 396.3V397.5M182.5 396.6V398.9M184.5 397.1V399.4M185.5 398.3V399.7M187.5 397.8V399.9M188.5 399.0V400.7M189.5 399.4V401.9M191.5 401.3V403.6M195.5 401.2V403.8M199.5 401.9V404.3M202.5 401.9V403.9M215.5 392.5V395.1M218.5 391.3V393.2M225.5 387.0V388.3M274.5 298.5V307.0M276.5 305.0V313.8M277.5 313.1V323.0M278.5 320.4V329.4M281.5 326.3V328.9M287.5 326.1V328.4M291.5 324.6V326.4M293.5 325.7V326.9M295.5 325.9V327.3M309.5 319.6V321.8M311.5 319.8V321.4M312.5 320.4V322.1M314.5 321.8V323.0M315.5 322.5V326.3M318.5 323.8V325.6M321.5 324.4V325.8M322.5 324.9V326.3M325.5 324.2V325.2M326.5 323.8V326.5M331.5 323.7V325.6M335.5 323.3V325.5M341.5 322.0V323.6M345.5 320.4V323.0M348.5 320.4V322.7M350.5 319.1V322.1M353.5 320.1V321.6M356.5 318.8V320.1M360.5 318.7V320.3M363.5 317.8V319.1M367.5 316.3V317.8M369.5 316.2V317.3M370.5 316.7V317.3M374.5 312.8V316.0M376.5 314.4V316.2M380.5 314.5V316.2M383.5 315.0V318.4M386.5 316.5V318.9M390.5 316.5V319.6M391.5 317.1V318.7M397.5 315.3V318.0M401.5 315.3V316.9M403.5 314.8V317.2M404.5 316.3V317.8M407.5 316.2V317.5M411.5 314.8V317.5M415.5 315.7V318.3M418.5 314.0V315.9M420.5 314.4V316.4M424.5 313.3V316.0M427.5 312.0V312.9M431.5 309.0V311.0M437.5 308.2V309.5M441.5 304.7V306.8M444.5 305.5V308.7M449.5 304.6V309.5M454.5 303.2V304.8M461.5 301.4V303.9M462.5 302.1V303.6M465.5 302.3V305.8M466.5 304.7V306.2M470.5 302.6V306.3M475.5 303.8V305.6M478.5 303.1V306.7M480.5 303.7V306.1M482.5 304.8V305.5M483.5 305.2V306.8M487.5 304.0V306.6M490.5 304.8V307.0M492.5 305.8V307.1M493.5 306.9V308.7M494.5 306.9V308.8M497.5 306.1V310.9M503.5 306.8V309.8M504.5 309.2V310.7M507.5 308.6V311.8M509.5 310.6V311.6M510.5 309.7V311.6M511.5 311.5V313.4M513.5 311.6V314.7M516.5 312.6V315.3M518.5 314.2V315.5M520.5 314.1V315.8M521.5 315.3V316.8M526.5 314.0V318.2M528.5 314.1V315.7M530.5 314.5V315.5M535.5 309.6V311.2M547.5 292.4V295.8M548.5 294.9V298.7M550.5 297.3V299.6M551.5 298.1V300.1M552.5 299.4V302.6M554.5 298.8V300.8M555.5 300.1V301.4M558.5 299.8V301.5M561.5 299.3V301.0M572.5 292.7V294.4M576.5 290.6V293.7M579.5 290.0V291.7M582.5 289.7V292.1M583.5 290.7V291.8M588.5 288.3V290.3M589.5 289.1V289.6M593.5 286.7V288.3M596.5 283.9V286.0M599.5 284.1V284.8M612.5 269.0V270.5M613.5 269.1V270.9M615.5 270.1V274.5M616.5 273.2V277.5M617.5 275.0V276.2M619.5 275.9V276.7M626.5 271.2V271.6M627.5 270.3V272.0M646.5 247.0V248.4M647.5 246.4V248.0M650.5 243.2V244.4M658.5 239.2V240.3M664.5 236.9V238.3M681.5 220.1V222.4M682.5 220.5V223.8M684.5 221.8V225.6M685.5 225.1V229.2M694.5 224.9V226.2M696.5 223.6V226.6M702.5 223.4V225.6M708.5 221.0V222.6M709.5 221.6V223.2M712.5 219.9V223.1M716.5 220.0V221.4M719.5 218.0V220.6M720.5 219.9V222.7M726.5 217.7V218.1M729.5 217.0V219.7M736.5 214.6V215.9M739.5 214.0V215.8M743.5 211.7V213.9M744.5 212.0V214.0M749.5 211.2V212.6M750.5 211.2V213.6M752.5 212.9V215.3M753.5 214.3V216.3M754.5 214.9V216.3M756.5 214.8V216.4M757.5 214.9V218.3M760.5 217.5V220.2" stroke="#30d0d0" stroke-width="1" fill="none" shape-rendering="crispEdges"/>
<polyline points="3.0,393.0 4.4,393.3 5.8,393.7 7.2,394.3 8.6,394.5 10.1,395.4 11.5,396.2 12.9,396.4 14.3,397.7 15.7,398.4 17.1,398.5 18.5,399.0 19.9,399.8 21.4,400.5 22.8,401.3 24.2,401.9 25.6,403.7 27.0,405.2 28.4,406.5 29.8,406.5 31.2,407.1 32.7,406.3 34.1,405.1 35.5,405.0 36.9,404.2 38.3,403.4 39.7,403.8 41.1,403.8 42.5,405.3 44.0,405.7 45.4,405.7 46.8,406.3 48.2,405.4 49.6,405.7 51.0,404.9 52.4,405.0 53.8,404.9 55.3,405.9 56.7,406.7 58.1,406.5 59.5,407.0 60.9,407.1 62.3,407.5 63.7,407.4 65.1,407.2 66.6,407.2 68.0,408.2 69.4,409.5 70.8,409.7 72.2,409.7 73.6,410.7 75.0,410.8 76.4,411.0 77.9,411.3 79.3,411.5 80.7,411.7 82.1,411.6 83.5,412.4 84.9,412.8 86.3,413.8 87.7,414.0 89.2,413.8 90.6,414.3 92.0,414.7 93.4,413.1 94.8,411.1 96.2,409.0 97.6,407.2 99.0,406.0 100.4,404.7 101.9,404.7 103.3,404.0 104.7,403.6 106.1,403.9 107.5,404.0 108.9,403.4 110.3,403.2 111.7,403.1 113.2,402.7 114.6,401.8 116.0,402.0 117.4,402.0 118.8,401.4 120.2,399.8 121.6,398.5 123.0,397.7 124.5,398.3 125.9,400.0 127.3,401.4 128.7,401.6 130.1,401.5 131.5,401.1 132.9,400.4 134.3,399.8 135.8,399.1 137.2,398.8 138.6,399.2 140.0,398.8 141.4,397.9 142.8,397.2 144.2,396.5 145.6,396.4 147.1,396.1 148.5,394.9 149.9,394.2 151.3,392.7 152.7,392.5 154.1,392.6 155.5,394.2 156.9,395.0 158.4,395.7 159.8,396.2 161.2,396.5 162.6,396.3 164.0,395.4 165.4,395.4 166.8,395.2 168.2,394.9 169.7,394.6 171.1,395.3 172.5,394.8 173.9,394.4 175.3,394.7 176.7,394.7 178.1,394.9 179.5,395.7 181.0,396.5 182.4,397.2 183.8,398.1 185.2,398.7 186.6,399.1 188.0,399.9 189.4,400.6 190.8,401.6 192.2,402.0 193.7,402.1 195.1,403.0 196.5,402.9 197.9,402.5 199.3,403.0 200.7,402.5 202.1,402.3 203.5,401.4 205.0,400.3 206.4,399.1 207.8,398.2 209.2,397.4 210.6,396.4 212.0,395.7 213.4,394.6 214.8,394.2 216.3,393.0 217.7,392.5 219.1,392.2 220.5,391.7 221.9,391.2 223.3,389.3 224.7,388.7 226.1,388.1 227.6,387.3 229.0,385.6 230.4,384.5 231.8,383.7 233.2,381.4 234.6,380.1 236.0,379.0 237.4,377.1 238.9,375.9 240.3,374.0 241.7,372.5 243.1,371.0 244.5,369.9 245.9,368.5 247.3,367.5 248.7,365.4 250.2,363.5 251.6,361.4 253.0,358.8 254.4,355.3 255.8,352.9 257.2,349.8 258.6,347.0 260.0,343.9 261.5,340.9 262.9,337.2 264.3,332.6 265.7,328.2 267.1,323.9 268.5,318.0 269.9,311.9 271.3,306.1 272.8,302.5 274.2,304.3 275.6,309.0 277.0,315.1 278.4,321.9 279.8,324.6 281.2,326.6 282.6,327.4 284.1,327.5 285.5,326.8 286.9,327.4 288.3,326.7 289.7,326.3 291.1,326.3 292.5,326.4 293.9,326.2 295.3,326.2 296.8,325.7 298.2,325.4 299.6,324.7 301.0,324.4 302.4,324.2 303.8,323.4 305.2,322.9 306.6,321.9 308.1,321.1 309.5,320.9 310.9,320.9 312.3,321.5 313.7,322.0 315.1,323.3 316.5,323.7 317.9,324.4 319.4,324.7 320.8,325.1 322.2,325.5 323.6,325.0 325.0,325.0 326.4,325.2 327.8,325.1 329.2,324.8 330.7,325.0 332.1,324.7 333.5,324.5 334.9,324.6 336.3,324.5 337.7,323.8 339.1,323.3 340.5,323.2 342.0,322.8 343.4,321.9 344.8,322.4 346.2,322.0 347.6,322.0 349.0,321.1 350.4,321.5 351.8,320.8 353.3,320.5 354.7,319.8 356.1,319.7 357.5,319.5 358.9,319.2 360.3,319.2 361.7,318.8 363.1,318.8 364.6,318.0 366.0,317.3 367.4,317.1 368.8,317.1 370.2,317.1 371.6,316.8 373.0,315.5 374.4,315.5 375.9,315.7 377.3,315.4 378.7,315.1 380.1,315.6 381.5,315.7 382.9,316.4 384.3,316.7 385.7,317.4 387.1,317.6 388.6,317.4 390.0,317.7 391.4,317.9 392.8,317.4 394.2,317.1 395.6,316.3 397.0,317.0 398.4,316.7 399.9,316.1 401.3,315.8 402.7,316.2 404.1,316.7 405.5,316.6 406.9,316.7 408.3,316.2 409.7,315.8 411.2,316.4 412.6,316.5 414.0,316.3 415.4,316.6 416.8,316.0 418.2,315.8 419.6,316.0 421.0,316.0 422.5,315.0 423.9,314.8 425.3,313.6 426.7,313.0 428.1,312.2 429.5,311.1 430.9,310.8 432.3,310.6 433.8,309.8 435.2,309.1 436.6,308.9 438.0,307.6 439.4,306.7 440.8,306.5 442.2,306.1 443.6,306.8 445.1,306.7 446.5,306.1 447.9,305.8 449.3,306.6 450.7,305.6 452.1,304.8 453.5,304.5 454.9,304.3 456.4,303.8 457.8,303.0 459.2,302.3 460.6,302.6 462.0,302.8 463.4,302.8 464.8,304.2 466.2,304.9 467.7,304.8 469.1,304.6 470.5,304.7 471.9,304.5 473.3,304.2 474.7,304.6 476.1,304.3 477.5,304.8 478.9,304.5 480.4,304.8 481.8,305.1 483.2,306.0 484.6,305.5 486.0,305.2 487.4,305.4 488.8,305.4 490.2,305.7 491.7,306.3 493.1,306.9 494.5,307.6 495.9,307.2 497.3,308.3 498.7,308.8 500.1,308.5 501.5,307.9 503.0,308.6 504.4,309.4 505.8,309.1 507.2,310.1 508.6,310.7 510.0,311.2 511.4,312.2 512.8,313.2 514.3,313.5 515.7,314.2 517.1,314.4 518.5,314.7 519.9,315.2 521.3,315.7 522.7,315.7 524.1,315.1 525.6,315.6 527.0,314.9 528.4,314.9 529.8,315.1 531.2,314.2 532.6,312.8 534.0,311.4 535.4,310.9 536.9,309.3 538.3,307.6 539.7,305.7 541.1,302.8 542.5,299.8 543.9,297.1 545.3,295.0 546.7,295.2 548.2,296.4 549.6,297.5 551.0,298.6 552.4,299.2 553.8,299.9 555.2,300.7 556.6,300.5 558.0,300.7 559.5,300.1 560.9,300.3 562.3,299.6 563.7,298.9 565.1,298.5 566.5,297.8 567.9,296.7 569.3,296.1 570.8,294.7 572.2,294.4 573.6,293.8 575.0,292.6 576.4,292.7 577.8,291.7 579.2,291.5 580.6,290.9 582.0,291.0 583.5,291.0 584.9,290.2 586.3,289.4 587.7,289.3 589.1,289.4 590.5,288.8 591.9,288.0 593.3,287.7 594.8,286.1 596.2,285.8 597.6,285.0 599.0,284.7 600.4,283.5 601.8,281.8 603.2,280.2 604.6,278.1 606.1,276.6 607.5,274.7 608.9,272.9 610.3,271.1 611.7,270.6 613.1,270.6 614.5,272.3 615.9,274.1 617.4,275.2 618.8,275.8 620.2,275.5 621.6,274.7 623.0,273.4 624.4,272.3 625.8,271.8 627.2,271.6 628.7,269.8 630.1,268.4 631.5,266.1 632.9,263.9 634.3,261.3 635.7,258.9 637.1,255.1 638.5,252.8 640.0,250.8 641.4,249.8 642.8,248.8 644.2,247.9 645.6,247.6 647.0,247.4 648.4,245.3 649.8,244.8 651.3,244.3 652.7,243.5 654.1,242.6 655.5,241.3 656.9,240.4 658.3,240.2 659.7,239.9 661.1,239.3 662.6,238.4 664.0,238.0 665.4,237.2 666.8,236.4 668.2,235.2 669.6,233.6 671.0,232.4 672.4,230.2 673.8,228.7 675.3,227.0 676.7,224.6 678.1,223.3 679.5,221.8 680.9,221.7 682.3,222.5 683.7,223.9 685.1,226.0 686.6,227.0 688.0,227.2 689.4,227.0 690.8,226.8 692.2,226.5 693.6,226.3 695.0,225.9 696.4,226.0 697.9,226.0 699.3,225.3 700.7,224.4 702.1,224.4 703.5,224.3 704.9,223.5 706.3,222.4 707.7,222.2 709.2,222.4 710.6,221.2 712.0,221.3 713.4,221.1 714.8,220.7 716.2,220.8 717.6,220.2 719.0,220.3 720.5,220.5 721.9,220.1 723.3,219.4 724.7,218.6 726.1,218.2 727.5,217.7 728.9,218.4 730.3,217.9 731.8,217.1 733.2,216.3 734.6,215.7 736.0,215.5 737.4,214.7 738.8,215.2 740.2,214.3 741.6,213.5 743.1,213.3 744.5,213.3 745.9,213.0 747.3,212.3 748.7,212.3 750.1,212.7 751.5,213.5 752.9,214.4 754.4,215.0 755.8,215.6 757.2,216.9 758.6,217.3 760.0,218.5" fill="none" stroke="#a8a8f0" stroke-width="1.2"/>
<polyline points="3.0,392.3 4.4,392.7 5.8,393.2 7.2,393.8 8.6,394.1 10.1,394.8 11.5,395.6 12.9,395.9 14.3,396.9 15.7,397.6 17.1,397.9 18.5,398.4 19.9,399.2 21.4,399.8 22.8,400.6 24.2,401.3 25.6,402.6 27.0,404.0 28.4,405.3 29.8,405.7 31.2,406.4 32.7,406.0 34.1,405.3 35.5,405.2 36.9,404.6 38.3,403.9 39.7,404.0 41.1,404.0 42.5,404.9 44.0,405.3 45.4,405.5 46.8,405.9 48.2,405.5 49.6,405.7 51.0,405.1 52.4,405.1 53.8,405.0 55.3,405.6 56.7,406.2 58.1,406.3 59.5,406.7 60.9,406.8 62.3,407.2 63.7,407.2 65.1,407.2 66.6,407.2 68.0,407.9 69.4,408.9 70.8,409.2 72.2,409.3 73.6,410.1 75.0,410.4 76.4,410.6 77.9,411.0 79.3,411.2 80.7,411.4 82.1,411.4 83.5,412.0 84.9,412.5 86.3,413.2 87.7,413.5 89.2,413.6 90.6,414.0 92.0,414.4 93.4,413.4 94.8,412.0 96.2,410.3 97.6,408.7 99.0,407.4 100.4,406.0 101.9,405.6 103.3,404.8 104.7,404.3 106.1,404.2 107.5,404.2 108.9,403.7 110.3,403.5 111.7,403.4 113.2,403.0 114.6,402.3 116.0,402.3 117.4,402.2 118.8,401.7 120.2,400.5 121.6,399.4 123.0,398.6 124.5,398.7 125.9,399.7 127.3,400.7 128.7,401.1 130.1,401.2 131.5,401.0 132.9,400.6 134.3,400.1 135.8,399.5 137.2,399.2 138.6,399.3 140.0,399.0 141.4,398.3 142.8,397.7 144.2,397.1 145.6,396.8 147.1,396.5 148.5,395.5 149.9,394.9 151.3,393.6 152.7,393.2 154.1,393.0 155.5,393.9 156.9,394.5 158.4,395.1 159.8,395.7 161.2,396.1 162.6,396.1 164.0,395.5 165.4,395.5 166.8,395.3 168.2,395.1 169.7,394.8 171.1,395.2 172.5,394.9 173.9,394.6 175.3,394.7 176.7,394.7 178.1,394.9 179.5,395.4 181.0,396.0 182.4,396.6 183.8,397.4 185.2,398.0 186.6,398.6 188.0,399.3 189.4,400.0 190.8,400.8 192.2,401.3 193.7,401.6 195.1,402.4 196.5,402.5 197.9,402.4 199.3,402.8 200.7,402.5 202.1,402.4 203.5,401.8 205.0,400.9 206.4,399.9 207.8,399.1 209.2,398.2 210.6,397.3 212.0,396.5 213.4,395.5 214.8,394.9 216.3,393.9 217.7,393.3 219.1,392.8 220.5,392.3 221.9,391.7 223.3,390.3 224.7,389.6 226.1,388.9 227.6,388.1 229.0,386.7 230.4,385.6 231.8,384.7 233.2,382.8 234.6,381.5 236.0,380.3 237.4,378.6 238.9,377.3 240.3,375.6 241.7,374.0 243.1,372.5 244.5,371.3 245.9,369.9 247.3,368.8 248.7,366.9 250.2,365.1 251.6,363.2 253.0,360.8 254.4,357.9 255.8,355.4 257.2,352.5 258.6,349.7 260.0,346.8 261.5,343.8 262.9,340.3 264.3,336.2 265.7,332.1 267.1,327.9 268.5,322.7 269.9,317.0 271.3,311.4 272.8,307.3 274.2,306.9 275.6,309.1 277.0,313.2 278.4,318.4 279.8,321.4 281.2,323.8 282.6,325.3 284.1,326.0 285.5,326.1 286.9,326.7 288.3,326.5 289.7,326.3 291.1,326.3 292.5,326.4 293.9,326.2 295.3,326.2 296.8,325.9 298.2,325.6 299.6,325.1 301.0,324.8 302.4,324.5 303.8,323.9 305.2,323.4 306.6,322.6 308.1,321.8 309.5,321.5 310.9,321.3 312.3,321.6 313.7,321.9 315.1,322.8 316.5,323.2 317.9,323.8 319.4,324.2 320.8,324.7 322.2,325.0 323.6,324.9 325.0,324.9 326.4,325.1 327.8,325.0 329.2,324.9 330.7,325.0 332.1,324.8 333.5,324.7 334.9,324.7 336.3,324.6 337.7,324.1 339.1,323.7 340.5,323.5 342.0,323.1 343.4,322.4 344.8,322.6 346.2,322.3 347.6,322.2 349.0,321.5 350.4,321.6 351.8,321.1 353.3,320.8 354.7,320.2 356.1,320.0 357.5,319.8 358.9,319.5 360.3,319.4 361.7,319.1 363.1,318.9 364.6,318.4 366.0,317.8 367.4,317.5 368.8,317.4 370.2,317.3 371.6,317.0 373.0,316.1 374.4,315.9 375.9,315.9 377.3,315.6 378.7,315.4 380.1,315.6 381.5,315.7 382.9,316.2 384.3,316.4 385.7,317.0 387.1,317.3 388.6,317.2 390.0,317.5 391.4,317.7 392.8,317.5 394.2,317.3 395.6,316.7 397.0,317.0 398.4,316.8 399.9,316.3 401.3,316.1 402.7,316.2 404.1,316.6 405.5,316.5 406.9,316.6 408.3,316.3 409.7,316.0 411.2,316.3 412.6,316.4 414.0,316.3 415.4,316.5 416.8,316.1 418.2,315.9 419.6,316.0 421.0,316.0 422.5,315.4 423.9,315.1 425.3,314.2 426.7,313.6 428.1,312.9 429.5,311.9 430.9,311.4 432.3,311.1 433.8,310.4 435.2,309.7 436.6,309.4 438.0,308.4 439.4,307.5 440.8,307.1 442.2,306.6 443.6,306.9 445.1,306.8 446.5,306.4 447.9,306.0 449.3,306.5 450.7,305.9 452.1,305.3 453.5,304.9 454.9,304.6 456.4,304.2 457.8,303.5 459.2,302.9 460.6,302.9 462.0,302.9 463.4,302.9 464.8,303.8 466.2,304.4 467.7,304.5 469.1,304.5 470.5,304.6 471.9,304.5 473.3,304.3 474.7,304.5 476.1,304.3 477.5,304.7 478.9,304.5 480.4,304.7 481.8,304.9 483.2,305.6 484.6,305.4 486.0,305.2 487.4,305.3 488.8,305.4 490.2,305.6 491.7,306.0 493.1,306.5 494.5,307.1 495.9,307.0 497.3,307.8 498.7,308.3 500.1,308.2 501.5,307.9 503.0,308.4 504.4,309.0 505.8,308.9 507.2,309.6 508.6,310.2 510.0,310.7 511.4,311.5 512.8,312.4 514.3,312.9 515.7,313.5 517.1,313.9 518.5,314.2 519.9,314.7 521.3,315.2 522.7,315.4 524.1,315.1 525.6,315.4 527.0,315.0 528.4,314.9 529.8,315.1 531.2,314.5 532.6,313.5 534.0,312.3 535.4,311.7 536.9,310.4 538.3,308.9 539.7,307.2 541.1,304.8 542.5,302.1 543.9,299.6 545.3,297.4 546.7,296.7 548.2,297.0 549.6,297.5 551.0,298.2 552.4,298.8 553.8,299.4 555.2,300.1 556.6,300.2 558.0,300.4 559.5,300.1 560.9,300.2 562.3,299.8 563.7,299.2 565.1,298.9 566.5,298.3 567.9,297.4 569.3,296.8 570.8,295.6 572.2,295.1 573.6,294.5 575.0,293.4 576.4,293.2 577.8,292.4 579.2,292.0 580.6,291.4 582.0,291.3 583.5,291.3 584.9,290.6 586.3,290.0 587.7,289.7 589.1,289.7 590.5,289.1 591.9,288.5 593.3,288.2 594.8,286.9 596.2,286.4 597.6,285.7 599.0,285.3 600.4,284.3 601.8,282.9 603.2,281.5 604.6,279.6 606.1,278.1 607.5,276.3 608.9,274.6 610.3,272.8 611.7,271.9 613.1,271.5 614.5,272.3 615.9,273.5 617.4,274.4 618.8,275.1 620.2,275.1 621.6,274.7 623.0,273.9 624.4,273.0 625.8,272.4 627.2,272.1 628.7,270.8 630.1,269.5 631.5,267.6 632.9,265.6 634.3,263.3 635.7,261.1 637.1,257.8 638.5,255.4 640.0,253.2 641.4,251.7 642.8,250.4 644.2,249.3 645.6,248.6 647.0,248.2 648.4,246.5 649.8,245.7 651.3,245.1 652.7,244.3 654.1,243.4 655.5,242.3 656.9,241.4 658.3,240.9 659.7,240.5 661.1,239.9 662.6,239.1 664.0,238.6 665.4,237.9 666.8,237.1 668.2,236.1 669.6,234.7 671.0,233.5 672.4,231.7 673.8,230.2 675.3,228.6 676.7,226.4 678.1,225.0 679.5,223.4 680.9,222.8 682.3,223.0 683.7,223.7 685.1,225.2 686.6,226.1 688.0,226.5 689.4,226.6 690.8,226.6 692.2,226.5 693.6,226.4 695.0,226.0 696.4,226.1 697.9,226.1 699.3,225.6 700.7,224.9 702.1,224.7 703.5,224.5 704.9,223.9 706.3,223.1 707.7,222.7 709.2,222.7 710.6,221.8 712.0,221.7 713.4,221.4 714.8,221.0 716.2,221.0 717.6,220.5 719.0,220.5 720.5,220.6 721.9,220.3 723.3,219.8 724.7,219.1 726.1,218.7 727.5,218.2 728.9,218.5 730.3,218.1 731.8,217.5 733.2,216.8 734.6,216.3 736.0,215.9 737.4,215.3 738.8,215.4 740.2,214.7 741.6,214.1 743.1,213.7 744.5,213.6 745.9,213.3 747.3,212.7 748.7,212.6 750.1,212.8 751.5,213.3 752.9,214.0 754.4,214.5 755.8,215.1 757.2,216.1 758.6,216.7 760.0,217.7" fill="none" stroke="#9c9cec" stroke-width="1.2"/>
<polyline points="3.0,391.8 4.4,392.2 5.8,392.6 7.2,393.1 8.6,393.5 10.1,394.1 11.5,394.8 12.9,395.1 14.3,396.0 15.7,396.7 17.1,397.1 18.5,397.6 19.9,398.3 21.4,398.9 22.8,399.6 24.2,400.3 25.6,401.4 27.0,402.6 28.4,403.7 29.8,404.4 31.2,405.1 32.7,405.2 34.1,404.9 35.5,404.9 36.9,404.6 38.3,404.1 39.7,404.2 41.1,404.1 42.5,404.7 44.0,405.0 45.4,405.2 46.8,405.5 48.2,405.3 49.6,405.5 51.0,405.2 52.4,405.1 53.8,405.1 55.3,405.5 56.7,405.9 58.1,406.0 59.5,406.4 60.9,406.5 62.3,406.8 63.7,406.9 65.1,407.0 66.6,407.0 68.0,407.5 69.4,408.3 70.8,408.6 72.2,408.8 73.6,409.5 75.0,409.8 76.4,410.1 77.9,410.4 79.3,410.7 80.7,411.0 82.1,411.1 83.5,411.6 84.9,411.9 86.3,412.6 87.7,412.9 89.2,413.1 90.6,413.5 92.0,413.8 93.4,413.3 94.8,412.4 96.2,411.2 97.6,409.9 99.0,408.8 100.4,407.6 101.9,406.9 103.3,406.1 104.7,405.5 106.1,405.2 107.5,404.9 108.9,404.5 110.3,404.1 111.7,403.9 113.2,403.5 114.6,402.9 116.0,402.8 117.4,402.6 118.8,402.2 120.2,401.3 121.6,400.4 123.0,399.6 124.5,399.5 125.9,399.9 127.3,400.6 128.7,400.9 130.1,401.0 131.5,400.9 132.9,400.6 134.3,400.3 135.8,399.9 137.2,399.6 138.6,399.6 140.0,399.3 141.4,398.8 142.8,398.3 144.2,397.7 145.6,397.4 147.1,397.0 148.5,396.3 149.9,395.7 151.3,394.7 152.7,394.2 154.1,393.8 155.5,394.3 156.9,394.6 158.4,395.0 159.8,395.4 161.2,395.7 162.6,395.8 164.0,395.5 165.4,395.5 166.8,395.4 168.2,395.2 169.7,395.0 171.1,395.2 172.5,395.0 173.9,394.8 175.3,394.8 176.7,394.8 178.1,394.9 179.5,395.3 181.0,395.7 182.4,396.2 183.8,396.8 185.2,397.3 186.6,397.8 188.0,398.5 189.4,399.1 190.8,399.9 192.2,400.4 193.7,400.8 195.1,401.5 196.5,401.8 197.9,401.9 199.3,402.2 200.7,402.2 202.1,402.2 203.5,401.8 205.0,401.2 206.4,400.5 207.8,399.8 209.2,399.1 210.6,398.2 212.0,397.5 213.4,396.6 214.8,396.0 216.3,395.1 217.7,394.4 219.1,393.8 220.5,393.2 221.9,392.7 223.3,391.5 224.7,390.8 226.1,390.0 227.6,389.2 229.0,388.0 230.4,387.0 231.8,386.1 233.2,384.5 234.6,383.3 236.0,382.1 237.4,380.6 238.9,379.3 240.3,377.7 241.7,376.2 243.1,374.7 244.5,373.4 245.9,372.0 247.3,370.8 248.7,369.1 250.2,367.4 251.6,365.6 253.0,363.5 254.4,360.9 255.8,358.6 257.2,355.9 258.6,353.3 260.0,350.6 261.5,347.7 262.9,344.6 264.3,340.9 265.7,337.1 267.1,333.2 268.5,328.5 269.9,323.5 271.3,318.3 272.8,314.0 274.2,312.3 275.6,312.6 277.0,314.5 278.4,317.7 279.8,319.8 281.2,321.8 282.6,323.2 284.1,324.2 285.5,324.6 286.9,325.3 288.3,325.5 289.7,325.6 291.1,325.7 292.5,325.9 293.9,325.9 295.3,326.0 296.8,325.8 298.2,325.7 299.6,325.3 301.0,325.0 302.4,324.8 303.8,324.3 305.2,323.9 306.6,323.2 308.1,322.6 309.5,322.2 310.9,321.9 312.3,321.9 313.7,322.1 315.1,322.6 316.5,323.0 317.9,323.4 319.4,323.8 320.8,324.2 322.2,324.5 323.6,324.5 325.0,324.6 326.4,324.8 327.8,324.8 329.2,324.8 330.7,324.9 332.1,324.8 333.5,324.7 334.9,324.7 336.3,324.6 337.7,324.3 339.1,324.0 340.5,323.8 342.0,323.5 343.4,322.9 344.8,322.9 346.2,322.6 347.6,322.5 349.0,322.0 350.4,321.9 351.8,321.5 353.3,321.2 354.7,320.8 356.1,320.5 357.5,320.2 358.9,320.0 360.3,319.8 361.7,319.5 363.1,319.3 364.6,318.9 366.0,318.4 367.4,318.0 368.8,317.8 370.2,317.7 371.6,317.4 373.0,316.7 374.4,316.4 375.9,316.3 377.3,316.0 378.7,315.8 380.1,315.8 381.5,315.9 382.9,316.1 384.3,316.3 385.7,316.7 387.1,317.0 388.6,317.0 390.0,317.3 391.4,317.5 392.8,317.3 394.2,317.2 395.6,316.8 397.0,317.0 398.4,316.9 399.9,316.6 401.3,316.3 402.7,316.4 404.1,316.6 405.5,316.6 406.9,316.6 408.3,316.4 409.7,316.2 411.2,316.4 412.6,316.4 414.0,316.3 415.4,316.5 416.8,316.2 418.2,316.1 419.6,316.1 421.0,316.1 422.5,315.6 423.9,315.4 425.3,314.7 426.7,314.2 428.1,313.6 429.5,312.8 430.9,312.3 432.3,311.8 433.8,311.2 435.2,310.6 436.6,310.2 438.0,309.3 439.4,308.5 440.8,308.0 442.2,307.5 443.6,307.5 445.1,307.3 446.5,306.9 447.9,306.6 449.3,306.8 450.7,306.3 452.1,305.8 453.5,305.4 454.9,305.1 456.4,304.7 457.8,304.2 459.2,303.6 460.6,303.4 462.0,303.3 463.4,303.2 464.8,303.7 466.2,304.2 467.7,304.3 469.1,304.3 470.5,304.4 471.9,304.4 473.3,304.3 474.7,304.4 476.1,304.3 477.5,304.6 478.9,304.5 480.4,304.6 481.8,304.8 483.2,305.2 484.6,305.2 486.0,305.1 487.4,305.2 488.8,305.3 490.2,305.4 491.7,305.8 493.1,306.1 494.5,306.6 495.9,306.6 497.3,307.3 498.7,307.7 500.1,307.8 501.5,307.7 503.0,308.1 504.4,308.5 505.8,308.6 507.2,309.1 508.6,309.6 510.0,310.1 511.4,310.8 512.8,311.5 514.3,312.0 515.7,312.7 517.1,313.1 518.5,313.5 519.9,314.0 521.3,314.5 522.7,314.7 524.1,314.7 525.6,315.0 527.0,314.8 528.4,314.8 529.8,314.9 531.2,314.6 532.6,313.9 534.0,313.0 535.4,312.4 536.9,311.4 538.3,310.2 539.7,308.7 541.1,306.8 542.5,304.6 543.9,302.3 545.3,300.2 546.7,299.2 548.2,298.8 549.6,298.8 551.0,299.0 552.4,299.2 553.8,299.5 555.2,299.9 556.6,300.0 558.0,300.2 559.5,300.1 560.9,300.2 562.3,299.9 563.7,299.5 565.1,299.2 566.5,298.7 567.9,298.0 569.3,297.5 570.8,296.5 572.2,296.0 573.6,295.4 575.0,294.5 576.4,294.1 577.8,293.4 579.2,292.9 580.6,292.3 582.0,292.0 583.5,291.8 584.9,291.3 586.3,290.7 587.7,290.4 589.1,290.2 590.5,289.7 591.9,289.2 593.3,288.8 594.8,287.8 596.2,287.3 597.6,286.6 599.0,286.1 600.4,285.3 601.8,284.1 603.2,282.9 604.6,281.4 606.1,280.0 607.5,278.4 608.9,276.8 610.3,275.1 611.7,274.0 613.1,273.2 614.5,273.4 615.9,274.0 617.4,274.5 618.8,274.9 620.2,275.0 621.6,274.7 623.0,274.2 624.4,273.5 625.8,273.0 627.2,272.7 628.7,271.6 630.1,270.6 631.5,269.1 632.9,267.4 634.3,265.5 635.7,263.5 637.1,260.8 638.5,258.5 640.0,256.4 641.4,254.7 642.8,253.1 644.2,251.8 645.6,250.8 647.0,250.0 648.4,248.5 649.8,247.5 651.3,246.7 652.7,245.8 654.1,244.9 655.5,243.8 656.9,242.9 658.3,242.2 659.7,241.6 661.1,241.0 662.6,240.2 664.0,239.6 665.4,238.9 666.8,238.2 668.2,237.2 669.6,236.1 671.0,235.0 672.4,233.5 673.8,232.0 675.3,230.6 676.7,228.7 678.1,227.2 679.5,225.7 680.9,224.8 682.3,224.4 683.7,224.6 685.1,225.4 686.6,226.0 688.0,226.3 689.4,226.4 690.8,226.5 692.2,226.4 693.6,226.3 695.0,226.1 696.4,226.1 697.9,226.1 699.3,225.8 700.7,225.3 702.1,225.1 703.5,224.9 704.9,224.4 706.3,223.7 707.7,223.3 709.2,223.2 710.6,222.5 712.0,222.2 713.4,221.9 714.8,221.6 716.2,221.4 717.6,221.0 719.0,220.9 720.5,220.9 721.9,220.6 723.3,220.2 724.7,219.6 726.1,219.2 727.5,218.8 728.9,218.9 730.3,218.5 731.8,218.0 733.2,217.5 734.6,217.0 736.0,216.6 737.4,216.0 738.8,215.9 740.2,215.3 741.6,214.8 743.1,214.4 744.5,214.1 745.9,213.8 747.3,213.3 748.7,213.1 750.1,213.1 751.5,213.4 752.9,213.8 754.4,214.2 755.8,214.7 757.2,215.4 758.6,216.0 760.0,216.8" fill="none" stroke="#9494e8" stroke-width="1.2"/>
<polyline points="3.0,391.6 4.4,391.9 5.8,392.3 7.2,392.8 8.6,393.1 10.1,393.7 11.5,394.3 12.9,394.7 14.3,395.5 15.7,396.1 17.1,396.6 18.5,397.1 19.9,397.8 21.4,398.4 22.8,399.1 24.2,399.7 25.6,400.7 27.0,401.8 28.4,402.9 29.8,403.6 31.2,404.3 32.7,404.5 34.1,404.4 35.5,404.5 36.9,404.3 38.3,404.0 39.7,404.0 41.1,404.0 42.5,404.5 44.0,404.8 45.4,405.0 46.8,405.3 48.2,405.2 49.6,405.3 51.0,405.1 52.4,405.1 53.8,405.0 55.3,405.4 56.7,405.7 58.1,405.9 59.5,406.2 60.9,406.3 62.3,406.6 63.7,406.8 65.1,406.8 66.6,406.9 68.0,407.3 69.4,408.0 70.8,408.3 72.2,408.5 73.6,409.1 75.0,409.4 76.4,409.7 77.9,410.1 79.3,410.4 80.7,410.7 82.1,410.8 83.5,411.2 84.9,411.6 86.3,412.2 87.7,412.5 89.2,412.7 90.6,413.1 92.0,413.5 93.4,413.1 94.8,412.4 96.2,411.4 97.6,410.3 99.0,409.3 100.4,408.2 101.9,407.6 103.3,406.8 104.7,406.2 106.1,405.8 107.5,405.5 108.9,405.0 110.3,404.6 111.7,404.4 113.2,404.0 114.6,403.4 116.0,403.2 117.4,403.0 118.8,402.6 120.2,401.8 121.6,401.0 123.0,400.2 124.5,400.0 125.9,400.3 127.3,400.7 128.7,400.9 130.1,401.0 131.5,400.9 132.9,400.7 134.3,400.4 135.8,400.1 137.2,399.8 138.6,399.8 140.0,399.5 141.4,399.0 142.8,398.6 144.2,398.1 145.6,397.7 147.1,397.4 148.5,396.7 149.9,396.1 151.3,395.2 152.7,394.7 154.1,394.3 155.5,394.6 156.9,394.8 158.4,395.1 159.8,395.4 161.2,395.7 162.6,395.7 164.0,395.5 165.4,395.5 166.8,395.4 168.2,395.3 169.7,395.1 171.1,395.2 172.5,395.1 173.9,394.9 175.3,394.9 176.7,394.9 178.1,394.9 179.5,395.2 181.0,395.6 182.4,396.0 183.8,396.5 185.2,397.0 186.6,397.5 188.0,398.1 189.4,398.7 190.8,399.4 192.2,399.9 193.7,400.3 195.1,401.0 196.5,401.3 197.9,401.5 199.3,401.8 200.7,401.9 202.1,401.9 203.5,401.7 205.0,401.2 206.4,400.6 207.8,400.0 209.2,399.4 210.6,398.7 212.0,398.0 213.4,397.2 214.8,396.6 216.3,395.7 217.7,395.0 219.1,394.5 220.5,393.9 221.9,393.3 223.3,392.2 224.7,391.5 226.1,390.8 227.6,390.0 229.0,388.9 230.4,387.9 231.8,387.0 233.2,385.5 234.6,384.3 236.0,383.2 237.4,381.7 238.9,380.4 240.3,378.9 241.7,377.5 243.1,376.0 244.5,374.7 245.9,373.4 247.3,372.1 248.7,370.5 250.2,368.9 251.6,367.1 253.0,365.1 254.4,362.7 255.8,360.5 257.2,358.0 258.6,355.5 260.0,352.8 261.5,350.1 262.9,347.1 264.3,343.6 265.7,340.0 267.1,336.3 268.5,331.9 269.9,327.2 271.3,322.3 272.8,318.0 274.2,315.9 275.6,315.5 277.0,316.5 278.4,318.7 279.8,320.3 281.2,321.8 282.6,323.0 284.1,323.8 285.5,324.2 286.9,324.9 288.3,325.1 289.7,325.3 291.1,325.4 292.5,325.7 293.9,325.7 295.3,325.8 296.8,325.7 298.2,325.6 299.6,325.3 301.0,325.1 302.4,324.9 303.8,324.5 305.2,324.1 306.6,323.5 308.1,322.9 309.5,322.5 310.9,322.2 312.3,322.2 313.7,322.3 315.1,322.7 316.5,323.0 317.9,323.3 319.4,323.6 320.8,324.0 322.2,324.3 323.6,324.4 325.0,324.5 326.4,324.7 327.8,324.7 329.2,324.7 330.7,324.8 332.1,324.7 333.5,324.6 334.9,324.7 336.3,324.6 337.7,324.3 339.1,324.1 340.5,323.9 342.0,323.6 343.4,323.1 344.8,323.1 346.2,322.8 347.6,322.7 349.0,322.2 350.4,322.2 351.8,321.8 353.3,321.5 354.7,321.1 356.1,320.8 357.5,320.5 358.9,320.2 360.3,320.0 361.7,319.7 363.1,319.5 364.6,319.1 366.0,318.7 367.4,318.4 368.8,318.1 370.2,317.9 371.6,317.7 373.0,317.1 374.4,316.8 375.9,316.6 377.3,316.3 378.7,316.1 380.1,316.1 381.5,316.0 382.9,316.2 384.3,316.4 385.7,316.7 387.1,316.9 388.6,316.9 390.0,317.2 391.4,317.3 392.8,317.3 394.2,317.2 395.6,316.9 397.0,317.0 398.4,316.9 399.9,316.6 401.3,316.4 402.7,316.5 404.1,316.6 405.5,316.6 406.9,316.6 408.3,316.5 409.7,316.3 411.2,316.4 412.6,316.4 414.0,316.4 415.4,316.5 416.8,316.3 418.2,316.1 419.6,316.1 421.0,316.1 422.5,315.7 423.9,315.5 425.3,314.9 426.7,314.5 428.1,313.9 429.5,313.2 430.9,312.7 432.3,312.3 433.8,311.7 435.2,311.1 436.6,310.7 438.0,309.9 439.4,309.1 440.8,308.6 442.2,308.1 443.6,308.0 445.1,307.7 446.5,307.3 447.9,307.0 449.3,307.1 450.7,306.6 452.1,306.1 453.5,305.8 454.9,305.5 456.4,305.1 457.8,304.5 459.2,304.0 460.6,303.8 462.0,303.7 463.4,303.5 464.8,303.9 466.2,304.2 467.7,304.3 469.1,304.3 470.5,304.4 471.9,304.4 473.3,304.3 474.7,304.4 476.1,304.3 477.5,304.5 478.9,304.4 480.4,304.6 481.8,304.7 483.2,305.1 484.6,305.1 486.0,305.0 487.4,305.1 488.8,305.2 490.2,305.3 491.7,305.6 493.1,306.0 494.5,306.4 495.9,306.4 497.3,307.0 498.7,307.4 500.1,307.5 501.5,307.5 503.0,307.8 504.4,308.2 505.8,308.4 507.2,308.9 508.6,309.3 510.0,309.7 511.4,310.4 512.8,311.1 514.3,311.5 515.7,312.1 517.1,312.6 518.5,313.0 519.9,313.5 521.3,314.0 522.7,314.3 524.1,314.3 525.6,314.7 527.0,314.6 528.4,314.6 529.8,314.7 531.2,314.5 532.6,313.9 534.0,313.2 535.4,312.7 536.9,311.8 538.3,310.7 539.7,309.5 541.1,307.7 542.5,305.7 543.9,303.7 545.3,301.7 546.7,300.6 548.2,300.1 549.6,299.8 551.0,299.8 552.4,299.8 553.8,299.9 555.2,300.2 556.6,300.2 558.0,300.3 559.5,300.2 560.9,300.3 562.3,300.0 563.7,299.7 565.1,299.4 566.5,299.0 567.9,298.4 569.3,297.8 570.8,297.0 572.2,296.5 573.6,295.9 575.0,295.1 576.4,294.6 577.8,293.9 579.2,293.5 580.6,292.9 582.0,292.6 583.5,292.3 584.9,291.8 586.3,291.2 587.7,290.8 589.1,290.6 590.5,290.1 591.9,289.6 593.3,289.2 594.8,288.4 596.2,287.8 597.6,287.2 599.0,286.7 600.4,285.9 601.8,284.8 603.2,283.7 604.6,282.3 606.1,281.0 607.5,279.5 608.9,278.0 610.3,276.4 611.7,275.3 613.1,274.4 614.5,274.3 615.9,274.6 617.4,274.9 618.8,275.2 620.2,275.2 621.6,274.9 623.0,274.4 624.4,273.9 625.8,273.4 627.2,273.0 628.7,272.1 630.1,271.2 631.5,269.8 632.9,268.4 634.3,266.6 635.7,264.8 637.1,262.3 638.5,260.2 640.0,258.1 641.4,256.4 642.8,254.8 644.2,253.4 645.6,252.3 647.0,251.4 648.4,249.9 649.8,248.9 651.3,247.9 652.7,247.0 654.1,246.0 655.5,244.9 656.9,243.9 658.3,243.2 659.7,242.6 661.1,241.8 662.6,241.1 664.0,240.5 665.4,239.7 666.8,239.0 668.2,238.1 669.6,237.0 671.0,235.9 672.4,234.5 673.8,233.1 675.3,231.7 676.7,230.0 678.1,228.6 679.5,227.0 680.9,226.1 682.3,225.6 683.7,225.5 685.1,226.0 686.6,226.3 688.0,226.5 689.4,226.6 690.8,226.6 692.2,226.5 693.6,226.4 695.0,226.3 696.4,226.2 697.9,226.2 699.3,225.9 700.7,225.5 702.1,225.3 703.5,225.1 704.9,224.6 706.3,224.0 707.7,223.7 709.2,223.5 710.6,222.8 712.0,222.6 713.4,222.3 714.8,221.9 716.2,221.7 717.6,221.3 719.0,221.2 720.5,221.1 721.9,220.8 723.3,220.5 724.7,220.0 726.1,219.6 727.5,219.1 728.9,219.1 730.3,218.8 731.8,218.4 733.2,217.8 734.6,217.4 736.0,217.0 737.4,216.4 738.8,216.3 740.2,215.7 741.6,215.2 743.1,214.8 744.5,214.5 745.9,214.2 747.3,213.7 748.7,213.5 750.1,213.4 751.5,213.6 752.9,213.9 754.4,214.2 755.8,214.6 757.2,215.2 758.6,215.7 760.0,216.4" fill="none" stroke="#8c8ce4" stroke-width="1.2"/>
<polyline points="3.0,391.3 4.4,391.7 5.8,392.1 7.2,392.5 8.6,392.8 10.1,393.4 11.5,393.9 12.9,394.3 14.3,395.0 15.7,395.7 17.1,396.1 18.5,396.6 19.9,397.2 21.4,397.8 22.8,398.5 24.2,399.1 25.6,400.1 27.0,401.1 28.4,402.1 29.8,402.8 31.2,403.6 32.7,403.9 34.1,403.9 35.5,404.0 36.9,403.9 38.3,403.7 39.7,403.8 41.1,403.8 42.5,404.3 44.0,404.5 45.4,404.7 46.8,405.0 48.2,405.0 49.6,405.1 51.0,405.0 52.4,405.0 53.8,405.0 55.3,405.2 56.7,405.6 58.1,405.7 59.5,406.0 60.9,406.2 62.3,406.4 63.7,406.6 65.1,406.6 66.6,406.7 68.0,407.1 69.4,407.7 70.8,408.0 72.2,408.3 73.6,408.8 75.0,409.1 76.4,409.4 77.9,409.8 79.3,410.1 80.7,410.3 82.1,410.5 83.5,410.9 84.9,411.3 86.3,411.8 87.7,412.2 89.2,412.4 90.6,412.8 92.0,413.1 93.4,412.9 94.8,412.3 96.2,411.5 97.6,410.6 99.0,409.7 100.4,408.7 101.9,408.1 103.3,407.3 104.7,406.7 106.1,406.3 107.5,406.0 108.9,405.5 110.3,405.1 111.7,404.8 113.2,404.4 114.6,403.8 116.0,403.6 117.4,403.4 118.8,403.0 120.2,402.2 121.6,401.5 123.0,400.8 124.5,400.5 125.9,400.7 127.3,401.0 128.7,401.1 130.1,401.1 131.5,401.1 132.9,400.9 134.3,400.6 135.8,400.3 137.2,400.0 138.6,399.9 140.0,399.7 141.4,399.3 142.8,398.9 144.2,398.4 145.6,398.0 147.1,397.7 148.5,397.1 149.9,396.5 151.3,395.7 152.7,395.2 154.1,394.8 155.5,395.0 156.9,395.1 158.4,395.3 159.8,395.5 161.2,395.7 162.6,395.8 164.0,395.6 165.4,395.5 166.8,395.5 168.2,395.3 169.7,395.2 171.1,395.3 172.5,395.2 173.9,395.0 175.3,395.0 176.7,394.9 178.1,395.0 179.5,395.2 181.0,395.5 182.4,395.9 183.8,396.3 185.2,396.8 186.6,397.2 188.0,397.8 189.4,398.3 190.8,399.0 192.2,399.5 193.7,399.9 195.1,400.5 196.5,400.9 197.9,401.1 199.3,401.4 200.7,401.5 202.1,401.6 203.5,401.5 205.0,401.1 206.4,400.6 207.8,400.1 209.2,399.6 210.6,398.9 212.0,398.3 213.4,397.6 214.8,397.0 216.3,396.2 217.7,395.6 219.1,395.0 220.5,394.4 221.9,393.8 223.3,392.8 224.7,392.1 226.1,391.4 227.6,390.6 229.0,389.6 230.4,388.7 231.8,387.8 233.2,386.4 234.6,385.3 236.0,384.1 237.4,382.8 238.9,381.5 240.3,380.1 241.7,378.7 243.1,377.3 244.5,376.0 245.9,374.6 247.3,373.4 248.7,371.8 250.2,370.2 251.6,368.6 253.0,366.6 254.4,364.4 255.8,362.2 257.2,359.8 258.6,357.4 260.0,354.9 261.5,352.3 262.9,349.4 264.3,346.1 265.7,342.7 267.1,339.1 268.5,335.0 269.9,330.5 271.3,325.8 272.8,321.7 274.2,319.3 275.6,318.4 277.0,318.9 278.4,320.4 279.8,321.5 281.2,322.5 282.6,323.4 284.1,324.0 285.5,324.4 286.9,324.9 288.3,325.1 289.7,325.2 291.1,325.4 292.5,325.6 293.9,325.6 295.3,325.7 296.8,325.6 298.2,325.6 299.6,325.3 301.0,325.1 302.4,324.9 303.8,324.6 305.2,324.3 306.6,323.7 308.1,323.2 309.5,322.8 310.9,322.5 312.3,322.5 313.7,322.5 315.1,322.8 316.5,323.0 317.9,323.3 319.4,323.6 320.8,323.9 322.2,324.2 323.6,324.2 325.0,324.4 326.4,324.5 327.8,324.6 329.2,324.6 330.7,324.7 332.1,324.6 333.5,324.6 334.9,324.6 336.3,324.6 337.7,324.4 339.1,324.1 340.5,324.0 342.0,323.7 343.4,323.3 344.8,323.2 346.2,323.0 347.6,322.8 349.0,322.4 350.4,322.3 351.8,322.0 353.3,321.7 354.7,321.3 356.1,321.0 357.5,320.8 358.9,320.5 360.3,320.3 361.7,320.0 363.1,319.8 364.6,319.4 366.0,319.0 367.4,318.7 368.8,318.4 370.2,318.2 371.6,317.9 373.0,317.4 374.4,317.1 375.9,316.9 377.3,316.6 378.7,316.4 380.1,316.3 381.5,316.2 382.9,316.4 384.3,316.5 385.7,316.7 387.1,316.9 388.6,316.9 390.0,317.1 391.4,317.3 392.8,317.2 394.2,317.2 395.6,316.9 397.0,317.0 398.4,316.9 399.9,316.7 401.3,316.5 402.7,316.5 404.1,316.6 405.5,316.6 406.9,316.6 408.3,316.5 409.7,316.3 411.2,316.4 412.6,316.4 414.0,316.4 415.4,316.5 416.8,316.3 418.2,316.2 419.6,316.2 421.0,316.2 422.5,315.8 423.9,315.6 425.3,315.1 426.7,314.7 428.1,314.2 429.5,313.6 430.9,313.1 432.3,312.7 433.8,312.1 435.2,311.5 436.6,311.1 438.0,310.4 439.4,309.7 440.8,309.1 442.2,308.6 443.6,308.4 445.1,308.1 446.5,307.7 447.9,307.4 449.3,307.4 450.7,307.0 452.1,306.5 453.5,306.2 454.9,305.8 456.4,305.4 457.8,304.9 459.2,304.4 460.6,304.2 462.0,304.0 463.4,303.8 464.8,304.1 466.2,304.3 467.7,304.4 469.1,304.4 470.5,304.5 471.9,304.4 473.3,304.3 474.7,304.5 476.1,304.4 477.5,304.5 478.9,304.5 480.4,304.6 481.8,304.7 483.2,305.0 484.6,305.0 486.0,305.0 487.4,305.1 488.8,305.1 490.2,305.3 491.7,305.5 493.1,305.8 494.5,306.2 495.9,306.3 497.3,306.8 498.7,307.1 500.1,307.3 501.5,307.3 503.0,307.6 504.4,308.0 505.8,308.1 507.2,308.6 508.6,309.0 510.0,309.4 511.4,310.0 512.8,310.6 514.3,311.1 515.7,311.7 517.1,312.2 518.5,312.6 519.9,313.1 521.3,313.5 522.7,313.9 524.1,314.0 525.6,314.3 527.0,314.3 528.4,314.4 529.8,314.5 531.2,314.3 532.6,313.9 534.0,313.3 535.4,312.8 536.9,312.1 538.3,311.1 539.7,310.0 541.1,308.4 542.5,306.6 543.9,304.8 545.3,303.0 546.7,301.8 548.2,301.2 549.6,300.8 551.0,300.6 552.4,300.5 553.8,300.5 555.2,300.6 556.6,300.6 558.0,300.6 559.5,300.5 560.9,300.5 562.3,300.2 563.7,299.9 565.1,299.6 566.5,299.2 567.9,298.7 569.3,298.2 570.8,297.4 572.2,296.9 573.6,296.4 575.0,295.6 576.4,295.2 577.8,294.5 579.2,294.0 580.6,293.4 582.0,293.1 583.5,292.8 584.9,292.2 586.3,291.7 587.7,291.3 589.1,291.0 590.5,290.6 591.9,290.1 593.3,289.7 594.8,288.9 596.2,288.3 597.6,287.7 599.0,287.2 600.4,286.4 601.8,285.5 603.2,284.4 604.6,283.1 606.1,281.9 607.5,280.5 608.9,279.0 610.3,277.5 611.7,276.4 613.1,275.5 614.5,275.3 615.9,275.4 617.4,275.5 618.8,275.6 620.2,275.6 621.6,275.3 623.0,274.8 624.4,274.3 625.8,273.8 627.2,273.5 628.7,272.6 630.1,271.8 631.5,270.5 632.9,269.2 634.3,267.5 635.7,265.9 637.1,263.6 638.5,261.6 640.0,259.6 641.4,258.0 642.8,256.4 644.2,255.0 645.6,253.8 647.0,252.8 648.4,251.3 649.8,250.2 651.3,249.2 652.7,248.2 654.1,247.2 655.5,246.1 656.9,245.1 658.3,244.3 659.7,243.6 661.1,242.8 662.6,242.0 664.0,241.3 665.4,240.6 666.8,239.8 668.2,238.9 669.6,237.9 671.0,236.8 672.4,235.5 673.8,234.2 675.3,232.8 676.7,231.2 678.1,229.8 679.5,228.3 680.9,227.3 682.3,226.7 683.7,226.5 685.1,226.7 686.6,226.9 688.0,227.0 689.4,227.0 690.8,226.9 692.2,226.8 693.6,226.7 695.0,226.5 696.4,226.4 697.9,226.4 699.3,226.1 700.7,225.7 702.1,225.5 703.5,225.3 704.9,224.9 706.3,224.4 707.7,224.0 709.2,223.8 710.6,223.2 712.0,222.9 713.4,222.6 714.8,222.2 716.2,222.0 717.6,221.7 719.0,221.5 720.5,221.4 721.9,221.1 723.3,220.7 724.7,220.3 726.1,219.9 727.5,219.5 728.9,219.4 730.3,219.1 731.8,218.7 733.2,218.2 734.6,217.7 736.0,217.3 737.4,216.8 738.8,216.6 740.2,216.1 741.6,215.6 743.1,215.2 744.5,214.9 745.9,214.6 747.3,214.1 748.7,213.9 750.1,213.7 751.5,213.8 752.9,214.1 754.4,214.3 755.8,214.6 757.2,215.1 758.6,215.5 760.0,216.2" fill="none" stroke="#8686e0" stroke-width="1.2"/>
<polyline points="3.0,391.1 4.4,391.4 5.8,391.7 7.2,392.1 8.6,392.4 10.1,392.9 11.5,393.4 12.9,393.8 14.3,394.5 15.7,395.0 17.1,395.5 18.5,396.0 19.9,396.6 21.4,397.1 22.8,397.8 24.2,398.4 25.6,399.2 27.0,400.2 28.4,401.1 29.8,401.8 31.2,402.5 32.7,402.9 34.1,403.0 35.5,403.3 36.9,403.3 38.3,403.2 39.7,403.3 41.1,403.4 42.5,403.8 44.0,404.1 45.4,404.3 46.8,404.6 48.2,404.6 49.6,404.8 51.0,404.7 52.4,404.7 53.8,404.7 55.3,405.0 56.7,405.3 58.1,405.5 59.5,405.7 60.9,405.9 62.3,406.1 63.7,406.3 65.1,406.4 66.6,406.5 68.0,406.8 69.4,407.3 70.8,407.6 72.2,407.9 73.6,408.4 75.0,408.7 76.4,409.0 77.9,409.3 79.3,409.6 80.7,409.9 82.1,410.1 83.5,410.5 84.9,410.8 86.3,411.3 87.7,411.7 89.2,411.9 90.6,412.3 92.0,412.6 93.4,412.5 94.8,412.1 96.2,411.4 97.6,410.7 99.0,409.9 100.4,409.1 101.9,408.6 103.3,407.9 104.7,407.3 106.1,406.9 107.5,406.6 108.9,406.1 110.3,405.7 111.7,405.4 113.2,405.0 114.6,404.5 116.0,404.2 117.4,403.9 118.8,403.5 120.2,402.9 121.6,402.2 123.0,401.5 124.5,401.2 125.9,401.2 127.3,401.4 128.7,401.5 130.1,401.5 131.5,401.4 132.9,401.2 134.3,400.9 135.8,400.6 137.2,400.3 138.6,400.2 140.0,400.0 141.4,399.6 142.8,399.2 144.2,398.8 145.6,398.5 147.1,398.2 148.5,397.6 149.9,397.1 151.3,396.3 152.7,395.8 154.1,395.5 155.5,395.5 156.9,395.5 158.4,395.6 159.8,395.8 161.2,395.9 162.6,395.9 164.0,395.7 165.4,395.7 166.8,395.6 168.2,395.5 169.7,395.3 171.1,395.4 172.5,395.3 173.9,395.1 175.3,395.1 176.7,395.1 178.1,395.1 179.5,395.3 181.0,395.5 182.4,395.8 183.8,396.2 185.2,396.6 186.6,397.0 188.0,397.4 189.4,397.9 190.8,398.5 192.2,399.0 193.7,399.4 195.1,399.9 196.5,400.3 197.9,400.5 199.3,400.9 200.7,401.1 202.1,401.2 203.5,401.1 205.0,400.9 206.4,400.5 207.8,400.1 209.2,399.7 210.6,399.1 212.0,398.6 213.4,398.0 214.8,397.4 216.3,396.7 217.7,396.1 219.1,395.6 220.5,395.1 221.9,394.5 223.3,393.6 224.7,392.9 226.1,392.3 227.6,391.5 229.0,390.6 230.4,389.7 231.8,388.8 233.2,387.6 234.6,386.5 236.0,385.4 237.4,384.2 238.9,383.0 240.3,381.6 241.7,380.3 243.1,378.9 244.5,377.7 245.9,376.4 247.3,375.1 248.7,373.7 250.2,372.1 251.6,370.5 253.0,368.7 254.4,366.6 255.8,364.6 257.2,362.4 258.6,360.1 260.0,357.7 261.5,355.2 262.9,352.5 264.3,349.4 265.7,346.2 267.1,342.9 268.5,339.1 269.9,334.9 271.3,330.6 272.8,326.6 274.2,324.1 275.6,322.8 277.0,322.6 278.4,323.3 279.8,323.8 281.2,324.4 282.6,324.9 284.1,325.2 285.5,325.3 286.9,325.7 288.3,325.7 289.7,325.7 291.1,325.8 292.5,325.9 293.9,325.9 295.3,325.9 296.8,325.8 298.2,325.8 299.6,325.5 301.0,325.4 302.4,325.2 303.8,324.9 305.2,324.6 306.6,324.1 308.1,323.6 309.5,323.3 310.9,323.0 312.3,322.9 313.7,322.8 315.1,323.0 316.5,323.2 317.9,323.4 319.4,323.6 320.8,323.9 322.2,324.1 323.6,324.2 325.0,324.3 326.4,324.4 327.8,324.5 329.2,324.5 330.7,324.6 332.1,324.6 333.5,324.5 334.9,324.5 336.3,324.5 337.7,324.4 339.1,324.2 340.5,324.0 342.0,323.8 343.4,323.5 344.8,323.4 346.2,323.2 347.6,323.0 349.0,322.7 350.4,322.6 351.8,322.3 353.3,322.0 354.7,321.6 356.1,321.4 357.5,321.1 358.9,320.9 360.3,320.6 361.7,320.4 363.1,320.2 364.6,319.8 366.0,319.4 367.4,319.1 368.8,318.8 370.2,318.6 371.6,318.3 373.0,317.8 374.4,317.5 375.9,317.3 377.3,317.1 378.7,316.8 380.1,316.7 381.5,316.6 382.9,316.7 384.3,316.7 385.7,316.9 387.1,317.0 388.6,317.0 390.0,317.2 391.4,317.3 392.8,317.2 394.2,317.2 395.6,317.0 397.0,317.1 398.4,317.0 399.9,316.8 401.3,316.6 402.7,316.6 404.1,316.7 405.5,316.7 406.9,316.7 408.3,316.6 409.7,316.4 411.2,316.5 412.6,316.5 414.0,316.5 415.4,316.5 416.8,316.4 418.2,316.3 419.6,316.3 421.0,316.2 422.5,316.0 423.9,315.8 425.3,315.3 426.7,315.0 428.1,314.5 429.5,314.0 430.9,313.5 432.3,313.1 433.8,312.6 435.2,312.1 436.6,311.7 438.0,311.0 439.4,310.3 440.8,309.8 442.2,309.3 443.6,309.1 445.1,308.8 446.5,308.4 447.9,308.0 449.3,307.9 450.7,307.5 452.1,307.1 453.5,306.7 454.9,306.4 456.4,306.0 457.8,305.5 459.2,305.0 460.6,304.8 462.0,304.5 463.4,304.3 464.8,304.5 466.2,304.6 467.7,304.6 469.1,304.6 470.5,304.6 471.9,304.6 473.3,304.5 474.7,304.6 476.1,304.5 477.5,304.6 478.9,304.5 480.4,304.6 481.8,304.7 483.2,305.0 484.6,305.0 486.0,305.0 487.4,305.0 488.8,305.1 490.2,305.2 491.7,305.4 493.1,305.7 494.5,306.0 495.9,306.1 497.3,306.5 498.7,306.8 500.1,307.0 501.5,307.0 503.0,307.3 504.4,307.7 505.8,307.8 507.2,308.2 508.6,308.6 510.0,309.0 511.4,309.5 512.8,310.1 514.3,310.6 515.7,311.1 517.1,311.5 518.5,312.0 519.9,312.4 521.3,312.9 522.7,313.3 524.1,313.4 525.6,313.8 527.0,313.8 528.4,313.9 529.8,314.1 531.2,314.0 532.6,313.7 534.0,313.2 535.4,312.9 536.9,312.2 538.3,311.4 539.7,310.5 541.1,309.2 542.5,307.6 543.9,306.0 545.3,304.3 546.7,303.2 548.2,302.5 549.6,302.0 551.0,301.7 552.4,301.5 553.8,301.4 555.2,301.4 556.6,301.3 558.0,301.2 559.5,301.0 560.9,300.9 562.3,300.7 563.7,300.4 565.1,300.1 566.5,299.7 567.9,299.2 569.3,298.7 570.8,298.1 572.2,297.6 573.6,297.0 575.0,296.3 576.4,295.9 577.8,295.2 579.2,294.7 580.6,294.2 582.0,293.8 583.5,293.5 584.9,292.9 586.3,292.4 587.7,292.0 589.1,291.7 590.5,291.3 591.9,290.8 593.3,290.3 594.8,289.6 596.2,289.1 597.6,288.5 599.0,288.0 600.4,287.3 601.8,286.4 603.2,285.4 604.6,284.2 606.1,283.1 607.5,281.8 608.9,280.5 610.3,279.1 611.7,277.9 613.1,277.0 614.5,276.6 615.9,276.6 617.4,276.5 618.8,276.5 620.2,276.3 621.6,276.0 623.0,275.5 624.4,275.0 625.8,274.5 627.2,274.2 628.7,273.4 630.1,272.6 631.5,271.5 632.9,270.3 634.3,268.8 635.7,267.3 637.1,265.3 638.5,263.4 640.0,261.6 641.4,260.0 642.8,258.5 644.2,257.1 645.6,255.8 647.0,254.8 648.4,253.3 649.8,252.2 651.3,251.1 652.7,250.1 654.1,249.0 655.5,247.9 656.9,246.8 658.3,246.0 659.7,245.2 661.1,244.4 662.6,243.5 664.0,242.8 665.4,242.0 666.8,241.2 668.2,240.3 669.6,239.3 671.0,238.2 672.4,237.0 673.8,235.7 675.3,234.4 676.7,232.9 678.1,231.6 679.5,230.1 680.9,229.1 682.3,228.4 683.7,228.0 685.1,228.0 686.6,228.0 688.0,227.9 689.4,227.8 690.8,227.6 692.2,227.4 693.6,227.3 695.0,227.0 696.4,226.9 697.9,226.8 699.3,226.6 700.7,226.2 702.1,225.9 703.5,225.7 704.9,225.3 706.3,224.8 707.7,224.5 709.2,224.3 710.6,223.7 712.0,223.4 713.4,223.1 714.8,222.8 716.2,222.5 717.6,222.2 719.0,221.9 720.5,221.8 721.9,221.5 723.3,221.2 724.7,220.7 726.1,220.4 727.5,220.0 728.9,219.9 730.3,219.6 731.8,219.2 733.2,218.7 734.6,218.3 736.0,217.9 737.4,217.4 738.8,217.2 740.2,216.7 741.6,216.2 743.1,215.8 744.5,215.5 745.9,215.2 747.3,214.7 748.7,214.4 750.1,214.3 751.5,214.3 752.9,214.4 754.4,214.5 755.8,214.8 757.2,215.2 758.6,215.5 760.0,216.0" fill="none" stroke="#8080dc" stroke-width="1.2"/>
<path d="M35.48 535.20V540.80M36.90 531.88V540.80M38.31 530.51V540.80M39.72 531.75V540.80M41.13 533.96V540.80M42.54 534.11V540.80M43.96 534.37V540.80M45.37 534.58V540.80M46.78 534.59V540.80M48.19 534.72V540.80M49.61 535.46V540.80M51.02 535.50V540.80M52.43 535.79V540.80M53.84 535.21V540.80M55.26 536.18V540.80M56.67 536.24V540.80M58.08 536.73V540.80M59.49 536.78V540.80M60.90 537.05V540.80M62.32 537.61V540.80M63.73 538.59V540.80M65.14 540.00V540.80M96.21 539.56V540.80M97.62 533.03V540.80M99.04 529.13V540.80M100.45 525.41V540.80M101.86 523.30V540.80M103.27 523.62V540.80M104.69 526.06V540.80M106.10 525.26V540.80M107.51 527.50V540.80M108.92 529.68V540.80M110.34 533.68V540.80M111.75 536.64V540.80M113.16 538.59V540.80M114.57 538.90V540.80M115.99 539.53V540.80M120.22 535.73V540.80M121.63 534.92V540.80M123.05 534.03V540.80M124.46 533.36V540.80M125.87 534.76V540.80M127.28 535.50V540.80M128.70 539.24V540.80M137.17 540.39V540.80M138.58 538.35V540.80M139.99 537.98V540.80M141.41 538.24V540.80M142.82 538.05V540.80M144.23 535.24V540.80M145.64 534.38V540.80M147.06 533.64V540.80M148.47 533.07V540.80M149.88 533.55V540.80M151.29 534.44V540.80M152.71 536.48V540.80M154.12 539.08V540.80M175.30 538.81V540.80M176.71 538.96V540.80M178.13 539.95V540.80M202.14 537.77V540.80M203.55 538.09V540.80M204.96 537.97V540.80M206.37 537.30V540.80M207.79 535.88V540.80M209.20 534.13V540.80M210.61 532.93V540.80M212.02 532.64V540.80M213.43 533.22V540.80M214.85 532.43V540.80M216.26 531.25V540.80M217.67 530.52V540.80M219.08 529.53V540.80M220.50 528.93V540.80M221.91 529.77V540.80M223.32 530.50V540.80M224.73 529.85V540.80M226.15 535.31V540.80M227.56 535.28V540.80M228.97 535.27V540.80M230.38 534.57V540.80M231.79 534.84V540.80M233.21 532.13V540.80M234.62 527.76V540.80M236.03 527.60V540.80M237.44 526.91V540.80M238.86 524.42V540.80M240.27 523.44V540.80M241.68 521.73V540.80M243.09 521.96V540.80M244.51 522.61V540.80M245.92 523.23V540.80M247.33 523.64V540.80M248.74 526.69V540.80M250.15 529.36V540.80M251.57 530.25V540.80M252.98 531.64V540.80M254.39 532.08V540.80M255.80 532.67V540.80M257.22 530.27V540.80M258.63 528.48V540.80M260.04 523.97V540.80M261.45 520.13V540.80M262.87 519.11V540.80M264.28 519.10V540.80M265.69 517.19V540.80M267.10 517.05V540.80M268.51 516.93V540.80M269.93 513.12V540.80M271.34 513.80V540.80M272.75 511.87V540.80M274.16 512.89V540.80M275.58 522.35V540.80M276.99 530.26V540.80M313.71 539.98V540.80M346.19 537.80V540.80M347.60 537.28V540.80M349.02 536.91V540.80M350.43 536.54V540.80M351.84 535.98V540.80M353.25 536.33V540.80M354.67 535.86V540.80M356.08 535.69V540.80M357.49 536.14V540.80M358.90 536.41V540.80M360.32 536.22V540.80M361.73 536.35V540.80M363.14 537.52V540.80M364.55 538.66V540.80M365.96 538.88V540.80M367.38 539.08V540.80M368.79 539.02V540.80M370.20 538.97V540.80M371.61 539.01V540.80M373.03 539.13V540.80M374.44 539.18V540.80M375.85 539.34V540.80M377.26 539.31V540.80M378.68 540.34V540.80M402.68 540.15V540.80M404.10 539.80V540.80M405.51 539.85V540.80M406.92 539.86V540.80M408.33 540.18V540.80M419.63 539.04V540.80M421.04 537.61V540.80M422.46 537.42V540.80M423.87 536.88V540.80M425.28 536.58V540.80M426.69 536.39V540.80M428.11 536.74V540.80M429.52 536.42V540.80M430.93 536.69V540.80M432.34 536.16V540.80M433.76 536.46V540.80M435.17 536.24V540.80M436.58 536.27V540.80M437.99 536.68V540.80M439.40 536.43V540.80M440.82 536.67V540.80M442.23 536.57V540.80M443.64 536.65V540.80M445.05 537.13V540.80M446.47 537.39V540.80M447.88 538.06V540.80M449.29 538.74V540.80M450.70 540.25V540.80M460.59 538.78V540.80M462.00 538.79V540.80M463.41 538.95V540.80M521.32 537.83V540.80M522.73 537.68V540.80M524.14 537.52V540.80M525.56 537.54V540.80M526.97 537.26V540.80M528.38 537.04V540.80M529.79 534.80V540.80M531.21 534.27V540.80M532.62 532.62V540.80M534.03 531.88V540.80M535.44 531.42V540.80M536.85 529.71V540.80M538.27 528.71V540.80M539.68 526.52V540.80M541.09 525.47V540.80M542.50 524.99V540.80M543.92 524.66V540.80M545.33 524.05V540.80M546.74 526.72V540.80M548.15 527.61V540.80M549.57 530.88V540.80M550.98 532.13V540.80M552.39 532.91V540.80M553.80 535.54V540.80M555.21 538.20V540.80M569.34 539.81V540.80M570.75 537.78V540.80M572.16 537.31V540.80M573.57 536.81V540.80M574.99 536.10V540.80M576.40 535.96V540.80M577.81 535.61V540.80M579.22 534.61V540.80M580.64 534.53V540.80M582.05 535.46V540.80M583.46 536.73V540.80M584.87 538.02V540.80M586.29 540.01V540.80M600.41 537.63V540.80M601.82 537.57V540.80M603.23 537.61V540.80M604.65 536.97V540.80M606.06 536.61V540.80M607.47 536.65V540.80M608.88 535.70V540.80M610.29 536.00V540.80M611.71 535.03V540.80M613.12 536.41V540.80M614.53 539.33V540.80M637.13 540.20V540.80M638.54 535.65V540.80M639.95 532.61V540.80M641.37 529.86V540.80M642.78 527.32V540.80M644.19 526.35V540.80M645.60 526.19V540.80M647.01 526.46V540.80M648.43 529.07V540.80M649.84 532.06V540.80M651.25 534.73V540.80M652.66 536.78V540.80M654.08 538.91V540.80M675.26 540.06V540.80M676.67 537.69V540.80M678.09 536.32V540.80M679.50 535.95V540.80M680.91 534.92V540.80M682.32 534.27V540.80M683.74 534.67V540.80M685.15 536.67V540.80M740.23 539.18V540.80M741.64 538.80V540.80M743.05 538.69V540.80M744.46 538.40V540.80M745.88 538.73V540.80M747.29 539.16V540.80M748.70 540.35V540.80" stroke="#c4283e" stroke-width="1.1" fill="none"/>
<path d="M3.00 540.80V544.90M4.41 540.80V548.25M5.82 540.80V550.94M7.24 540.80V553.09M8.65 540.80V554.87M10.06 540.80V555.69M11.47 540.80V549.44M12.89 540.80V545.50M14.30 540.80V544.81M15.71 540.80V547.14M17.12 540.80V547.68M18.54 540.80V549.06M19.95 540.80V550.11M21.36 540.80V549.79M22.77 540.80V550.37M24.18 540.80V550.34M25.60 540.80V549.68M27.01 540.80V549.29M28.42 540.80V549.44M29.83 540.80V548.22M31.25 540.80V546.06M32.66 540.80V543.27M66.55 540.80V541.37M67.97 540.80V542.47M69.38 540.80V543.20M70.79 540.80V543.93M72.20 540.80V544.11M73.62 540.80V544.98M75.03 540.80V545.46M76.44 540.80V545.34M77.85 540.80V545.36M79.26 540.80V545.82M80.68 540.80V545.63M82.09 540.80V545.52M83.50 540.80V546.15M84.91 540.80V546.08M86.33 540.80V546.85M87.74 540.80V546.71M89.15 540.80V546.61M90.56 540.80V547.20M91.98 540.80V546.81M93.39 540.80V545.60M94.80 540.80V543.64M130.11 540.80V543.20M131.52 540.80V543.39M132.93 540.80V543.71M134.35 540.80V543.60M135.76 540.80V542.56M155.53 540.80V542.91M156.94 540.80V545.57M158.35 540.80V546.07M159.77 540.80V547.19M161.18 540.80V547.90M162.59 540.80V548.02M164.00 540.80V547.44M165.42 540.80V547.09M166.83 540.80V546.91M168.24 540.80V547.27M169.65 540.80V546.38M171.07 540.80V545.07M172.48 540.80V543.30M179.54 540.80V543.04M180.95 540.80V545.44M182.36 540.80V546.53M183.78 540.80V547.89M185.19 540.80V548.68M186.60 540.80V548.64M188.01 540.80V549.23M189.43 540.80V548.46M190.84 540.80V548.64M192.25 540.80V549.63M193.66 540.80V548.32M195.07 540.80V547.71M196.49 540.80V547.41M197.90 540.80V547.47M199.31 540.80V545.86M200.72 540.80V542.15M278.40 540.80V566.53M279.81 540.80V571.57M281.23 540.80V569.11M282.64 540.80V570.54M284.05 540.80V571.91M285.46 540.80V571.95M286.88 540.80V571.20M288.29 540.80V568.17M289.70 540.80V569.35M291.11 540.80V566.54M292.52 540.80V565.30M293.94 540.80V563.83M295.35 540.80V562.36M296.76 540.80V562.72M298.17 540.80V558.64M299.59 540.80V553.75M301.00 540.80V552.50M302.41 540.80V549.62M303.82 540.80V547.56M305.24 540.80V545.85M306.65 540.80V544.81M308.06 540.80V543.59M309.47 540.80V542.76M310.88 540.80V542.64M312.30 540.80V542.84M315.12 540.80V542.62M316.53 540.80V549.32M317.95 540.80V549.51M319.36 540.80V550.36M320.77 540.80V550.94M322.18 540.80V552.06M323.60 540.80V551.71M325.01 540.80V550.24M326.42 540.80V549.06M327.83 540.80V548.41M329.24 540.80V545.68M330.66 540.80V543.54M332.07 540.80V542.72M333.48 540.80V542.60M334.89 540.80V542.88M336.31 540.80V542.86M337.72 540.80V542.79M339.13 540.80V542.61M340.54 540.80V542.73M341.96 540.80V542.69M343.37 540.80V542.63M344.78 540.80V542.72M380.09 540.80V545.96M381.50 540.80V546.31M382.91 540.80V547.22M384.32 540.80V547.22M385.74 540.80V546.75M387.15 540.80V547.02M388.56 540.80V546.52M389.97 540.80V546.17M391.39 540.80V546.52M392.80 540.80V545.37M394.21 540.80V543.43M395.62 540.80V542.62M397.04 540.80V542.62M398.45 540.80V542.45M399.86 540.80V542.27M401.27 540.80V541.37M409.75 540.80V542.16M411.16 540.80V542.77M412.57 540.80V542.95M413.98 540.80V543.16M415.40 540.80V543.23M416.81 540.80V542.78M418.22 540.80V542.31M452.12 540.80V542.20M453.53 540.80V542.27M454.94 540.80V542.23M456.35 540.80V542.19M457.76 540.80V542.33M459.18 540.80V541.61M466.24 540.80V543.85M467.65 540.80V544.08M469.06 540.80V544.47M470.48 540.80V544.69M471.89 540.80V544.65M473.30 540.80V544.79M474.71 540.80V544.88M476.12 540.80V545.12M477.54 540.80V545.41M478.95 540.80V545.62M480.36 540.80V545.20M481.77 540.80V545.53M483.19 540.80V545.33M484.60 540.80V545.94M486.01 540.80V546.19M487.42 540.80V545.81M488.84 540.80V546.06M490.25 540.80V546.98M491.66 540.80V546.75M493.07 540.80V546.82M494.49 540.80V547.55M495.90 540.80V547.25M497.31 540.80V546.24M498.72 540.80V545.86M500.13 540.80V545.98M501.55 540.80V545.84M502.96 540.80V545.34M504.37 540.80V545.19M505.78 540.80V545.30M507.20 540.80V544.74M508.61 540.80V544.72M510.02 540.80V544.45M511.43 540.80V544.33M512.85 540.80V544.16M514.26 540.80V544.09M515.67 540.80V544.13M517.08 540.80V544.04M518.49 540.80V542.90M556.63 540.80V541.96M558.04 540.80V546.28M559.45 540.80V547.74M560.86 540.80V548.52M562.28 540.80V547.20M563.69 540.80V546.47M565.10 540.80V544.08M566.51 540.80V541.62M589.11 540.80V541.64M590.52 540.80V542.31M591.93 540.80V542.27M593.35 540.80V542.31M594.76 540.80V542.21M596.17 540.80V542.36M597.58 540.80V542.24M615.94 540.80V544.22M617.36 540.80V545.66M618.77 540.80V546.24M620.18 540.80V546.94M621.59 540.80V546.46M623.01 540.80V545.94M624.42 540.80V546.05M625.83 540.80V545.87M627.24 540.80V545.04M628.65 540.80V544.65M630.07 540.80V544.25M631.48 540.80V543.70M632.89 540.80V543.12M634.30 540.80V542.82M635.72 540.80V542.44M655.49 540.80V541.77M656.90 540.80V543.05M658.31 540.80V543.36M659.73 540.80V543.77M661.14 540.80V543.64M662.55 540.80V544.28M663.96 540.80V544.31M665.38 540.80V544.55M666.79 540.80V544.51M668.20 540.80V544.98M669.61 540.80V544.59M671.02 540.80V544.38M672.44 540.80V543.45M673.85 540.80V542.91M686.56 540.80V544.35M687.97 540.80V548.20M689.38 540.80V550.76M690.80 540.80V552.45M692.21 540.80V555.27M693.62 540.80V554.36M695.03 540.80V551.71M696.45 540.80V551.82M697.86 540.80V550.07M699.27 540.80V548.67M700.68 540.80V547.96M702.10 540.80V545.80M703.51 540.80V544.25M704.92 540.80V543.44M706.33 540.80V542.62M707.74 540.80V542.65M709.16 540.80V542.45M710.57 540.80V542.49M711.98 540.80V542.29M713.39 540.80V542.39M714.81 540.80V542.48M716.22 540.80V542.32M717.63 540.80V542.55M719.04 540.80V542.51M720.46 540.80V542.58M721.87 540.80V542.65M723.28 540.80V542.72M724.69 540.80V542.84M726.10 540.80V543.34M727.52 540.80V544.45M728.93 540.80V545.05M730.34 540.80V545.17M731.75 540.80V545.34M733.17 540.80V545.78M734.58 540.80V544.95M735.99 540.80V545.11M737.40 540.80V544.85M738.82 540.80V541.54M750.11 540.80V543.61M751.53 540.80V545.17M752.94 540.80V546.82M754.35 540.80V549.05M755.76 540.80V550.12M757.18 540.80V552.78M758.59 540.80V553.67M760.00 540.80V554.44" stroke="#3ab8b8" stroke-width="1.1" fill="none"/>
<polyline points="3.0,543.6 4.4,546.2 5.8,548.5 7.2,551.4 8.6,554.5 10.1,557.4 11.5,559.3 12.9,558.2 14.3,557.2 15.7,556.6 17.1,556.2 18.5,556.4 19.9,557.3 21.4,558.7 22.8,560.0 24.2,562.0 25.6,563.5 27.0,564.5 28.4,565.8 29.8,564.9 31.2,564.7 32.7,562.6 34.1,560.7 35.5,559.2 36.9,556.0 38.3,554.4 39.7,552.8 41.1,552.0 42.5,551.9 44.0,551.6 45.4,551.3 46.8,550.5 48.2,550.3 49.6,549.4 51.0,549.2 52.4,548.9 53.8,547.3 55.3,547.3 56.7,546.7 58.1,545.3 59.5,544.2 60.9,544.5 62.3,543.2 63.7,543.5 65.1,543.5 66.6,544.1 68.0,544.9 69.4,545.9 70.8,546.2 72.2,546.8 73.6,547.8 75.0,547.9 76.4,548.6 77.9,548.8 79.3,549.1 80.7,549.2 82.1,550.2 83.5,549.9 84.9,550.7 86.3,550.7 87.7,552.0 89.2,552.7 90.6,553.2 92.0,553.8 93.4,552.3 94.8,550.3 96.2,548.0 97.6,545.8 99.0,544.3 100.4,541.5 101.9,538.4 103.3,535.8 104.7,533.4 106.1,532.1 107.5,531.5 108.9,530.9 110.3,531.2 111.7,530.5 113.2,531.5 114.6,533.6 116.0,533.4 117.4,532.7 118.8,532.0 120.2,531.4 121.6,530.0 123.0,529.1 124.5,527.8 125.9,528.9 127.3,529.2 128.7,531.0 130.1,531.6 131.5,532.4 132.9,533.1 134.3,532.6 135.8,533.5 137.2,532.2 138.6,532.0 140.0,532.0 141.4,531.2 142.8,531.5 144.2,531.0 145.6,529.2 147.1,528.6 148.5,527.8 149.9,527.1 151.3,525.4 152.7,524.4 154.1,526.2 155.5,527.6 156.9,530.0 158.4,530.9 159.8,533.2 161.2,534.2 162.6,534.0 164.0,534.3 165.4,535.3 166.8,537.1 168.2,537.4 169.7,538.9 171.1,538.1 172.5,538.1 173.9,538.2 175.3,538.3 176.7,537.0 178.1,536.0 179.5,537.6 181.0,538.6 182.4,539.8 183.8,540.7 185.2,541.6 186.6,543.1 188.0,543.5 189.4,545.8 190.8,547.3 192.2,548.1 193.7,548.7 195.1,549.5 196.5,550.3 197.9,549.5 199.3,549.5 200.7,549.0 202.1,547.6 203.5,546.7 205.0,546.1 206.4,544.6 207.8,544.7 209.2,543.4 210.6,542.2 212.0,540.9 213.4,539.3 214.8,537.7 216.3,536.1 217.7,534.4 219.1,533.8 220.5,532.0 221.9,530.9 223.3,530.7 224.7,529.9 226.1,529.1 227.6,528.7 229.0,528.5 230.4,528.3 231.8,526.2 233.2,524.4 234.6,523.3 236.0,521.8 237.4,519.6 238.9,517.5 240.3,515.8 241.7,512.8 243.1,509.5 244.5,506.6 245.9,504.6 247.3,503.6 248.7,503.0 250.2,502.2 251.6,502.3 253.0,501.5 254.4,500.7 255.8,499.3 257.2,497.0 258.6,493.9 260.0,490.4 261.5,486.9 262.9,484.2 264.3,479.9 265.7,477.1 267.1,474.2 268.5,469.5 269.9,464.2 271.3,459.0 272.8,453.7 274.2,451.4 275.6,455.0 277.0,462.9 278.4,472.4 279.8,480.6 281.2,484.9 282.6,488.6 284.1,493.1 285.5,496.6 286.9,500.5 288.3,504.2 289.7,507.4 291.1,512.0 292.5,516.4 293.9,520.6 295.3,521.8 296.8,524.4 298.2,524.7 299.6,525.2 301.0,525.7 302.4,525.5 303.8,525.5 305.2,525.5 306.6,525.6 308.1,525.8 309.5,525.7 310.9,524.8 312.3,525.1 313.7,525.4 315.1,525.4 316.5,526.6 317.9,528.3 319.4,530.5 320.8,531.3 322.2,532.6 323.6,534.6 325.0,535.5 326.4,537.0 327.8,538.7 329.2,538.7 330.7,537.8 332.1,538.2 333.5,538.7 334.9,537.8 336.3,538.5 337.7,538.2 339.1,538.6 340.5,538.7 342.0,537.8 343.4,538.0 344.8,537.7 346.2,537.2 347.6,536.6 349.0,535.0 350.4,534.1 351.8,532.5 353.3,532.1 354.7,531.3 356.1,530.7 357.5,530.5 358.9,530.2 360.3,529.3 361.7,529.5 363.1,528.8 364.6,529.5 366.0,529.3 367.4,528.7 368.8,529.4 370.2,529.1 371.6,529.9 373.0,529.8 374.4,529.9 375.9,530.7 377.3,530.4 378.7,530.7 380.1,531.3 381.5,532.8 382.9,533.9 384.3,535.6 385.7,536.6 387.1,537.3 388.6,537.5 390.0,539.1 391.4,538.8 392.8,538.3 394.2,538.0 395.6,538.1 397.0,537.6 398.4,538.0 399.9,537.4 401.3,537.3 402.7,537.8 404.1,537.8 405.5,538.3 406.9,538.8 408.3,538.5 409.7,538.8 411.2,539.4 412.6,539.6 414.0,539.2 415.4,539.0 416.8,539.6 418.2,538.2 419.6,537.5 421.0,536.7 422.5,537.0 423.9,535.2 425.3,534.8 426.7,534.3 428.1,534.2 429.5,532.8 430.9,532.9 432.3,532.6 433.8,532.7 435.2,531.7 436.6,531.6 438.0,531.0 439.4,531.1 440.8,530.7 442.2,529.9 443.6,529.9 445.1,528.8 446.5,528.7 447.9,527.6 449.3,528.4 450.7,529.7 452.1,530.8 453.5,530.7 454.9,531.2 456.4,530.8 457.8,530.8 459.2,530.1 460.6,530.0 462.0,529.3 463.4,528.6 464.8,529.1 466.2,530.4 467.7,530.8 469.1,531.3 470.5,533.1 471.9,533.9 473.3,534.2 474.7,534.2 476.1,533.8 477.5,535.4 478.9,536.6 480.4,536.9 481.8,538.0 483.2,537.8 484.6,538.8 486.0,539.1 487.4,539.4 488.8,539.2 490.2,540.1 491.7,541.1 493.1,541.7 494.5,542.2 495.9,543.4 497.3,544.1 498.7,545.5 500.1,546.6 501.5,546.9 503.0,547.5 504.4,547.8 505.8,548.3 507.2,548.0 508.6,549.0 510.0,549.7 511.4,549.7 512.8,550.7 514.3,550.4 515.7,551.0 517.1,550.4 518.5,550.1 519.9,549.5 521.3,549.8 522.7,547.5 524.1,547.8 525.6,547.6 527.0,547.4 528.4,546.6 529.8,546.1 531.2,544.8 532.6,543.8 534.0,542.9 535.4,542.1 536.9,538.3 538.3,536.6 539.7,532.9 541.1,529.4 542.5,527.0 543.9,524.8 545.3,521.9 546.7,520.2 548.2,520.4 549.6,519.4 551.0,520.9 552.4,522.1 553.8,523.6 555.2,526.7 556.6,528.1 558.0,529.8 559.5,529.6 560.9,530.0 562.3,530.0 563.7,529.5 565.1,529.8 566.5,529.2 567.9,529.0 569.3,528.3 570.8,528.2 572.2,527.1 573.6,526.6 575.0,526.6 576.4,525.6 577.8,524.9 579.2,523.9 580.6,521.9 582.0,521.3 583.5,521.1 584.9,520.5 586.3,520.6 587.7,522.1 589.1,522.0 590.5,521.9 591.9,522.5 593.3,522.5 594.8,522.8 596.2,522.4 597.6,522.4 599.0,522.3 600.4,521.9 601.8,520.7 603.2,520.2 604.6,519.1 606.1,517.8 607.5,517.3 608.9,517.1 610.3,516.6 611.7,516.1 613.1,516.2 614.5,517.3 615.9,520.0 617.4,520.3 618.8,521.9 620.2,522.5 621.6,522.1 623.0,523.2 624.4,522.9 625.8,523.3 627.2,523.1 628.7,522.7 630.1,523.0 631.5,522.7 632.9,521.3 634.3,520.9 635.7,520.5 637.1,517.8 638.5,515.9 640.0,513.9 641.4,511.7 642.8,508.8 644.2,506.2 645.6,504.6 647.0,502.8 648.4,501.7 649.8,500.3 651.3,500.9 652.7,502.3 654.1,503.5 655.5,503.6 656.9,505.1 658.3,505.8 659.7,506.6 661.1,507.3 662.6,508.2 664.0,508.3 665.4,508.8 666.8,509.2 668.2,510.3 669.6,511.0 671.0,510.0 672.4,509.0 673.8,508.1 675.3,507.2 676.7,505.7 678.1,505.6 679.5,504.4 680.9,503.4 682.3,502.4 683.7,502.9 685.1,504.7 686.6,507.3 688.0,510.4 689.4,513.5 690.8,516.2 692.2,518.0 693.6,519.1 695.0,520.8 696.4,520.9 697.9,521.1 699.3,522.5 700.7,523.1 702.1,523.7 703.5,524.2 704.9,523.6 706.3,524.0 707.7,523.9 709.2,523.6 710.6,523.9 712.0,523.9 713.4,524.5 714.8,523.7 716.2,523.8 717.6,525.2 719.0,526.0 720.5,526.6 721.9,526.5 723.3,527.4 724.7,527.5 726.1,528.4 727.5,528.4 728.9,528.8 730.3,529.9 731.8,529.4 733.2,529.5 734.6,530.5 736.0,530.1 737.4,528.9 738.8,529.8 740.2,528.6 741.6,528.3 743.1,527.9 744.5,528.1 745.9,527.4 747.3,528.0 748.7,528.5 750.1,530.3 751.5,531.2 752.9,533.4 754.4,534.9 755.8,536.4 757.2,538.3 758.6,540.1 760.0,541.7" fill="none" stroke="#e6e6e6" stroke-width="1.1"/>
<polyline points="3.0,543.8 4.4,545.3 5.8,546.9 7.2,548.5 8.6,550.0 10.1,551.6 11.5,553.2 12.9,554.0 14.3,554.5 15.7,554.9 17.1,555.4 18.5,555.8 19.9,556.2 21.4,557.1 22.8,558.0 24.2,558.9 25.6,559.7 27.0,560.6 28.4,561.4 29.8,561.7 31.2,562.1 32.7,562.4 34.1,561.9 35.5,561.2 36.9,560.4 38.3,559.7 39.7,558.9 41.1,558.2 42.5,557.5 44.0,556.8 45.4,556.1 46.8,555.4 48.2,554.7 49.6,553.9 51.0,553.2 52.4,552.5 53.8,551.8 55.3,551.1 56.7,550.4 58.1,549.7 59.5,549.0 60.9,548.2 62.3,547.3 63.7,546.4 65.1,545.5 66.6,545.1 68.0,545.5 69.4,545.8 70.8,546.2 72.2,546.6 73.6,546.9 75.0,547.3 76.4,547.6 77.9,547.9 79.3,548.2 80.7,548.5 82.1,548.8 83.5,549.1 84.9,549.4 86.3,549.6 87.7,549.9 89.2,550.2 90.6,550.4 92.0,550.7 93.4,551.0 94.8,551.2 96.2,550.3 97.6,549.3 99.0,548.2 100.4,546.7 101.9,544.2 103.3,541.8 104.7,539.3 106.1,537.8 107.5,536.6 108.9,535.3 110.3,534.4 111.7,534.2 113.2,534.0 114.6,533.8 116.0,533.6 117.4,533.4 118.8,533.3 120.2,533.1 121.6,532.9 123.0,532.7 124.5,532.6 125.9,532.4 127.3,532.2 128.7,532.1 130.1,531.9 131.5,531.8 132.9,531.7 134.3,531.6 135.8,531.5 137.2,531.4 138.6,531.3 140.0,531.3 141.4,531.1 142.8,530.9 144.2,530.7 145.6,530.5 147.1,530.4 148.5,530.2 149.9,530.0 151.3,529.4 152.7,528.6 154.1,527.9 155.5,527.7 156.9,528.2 158.4,528.8 159.8,529.3 161.2,530.1 162.6,530.9 164.0,531.6 165.4,532.4 166.8,533.2 168.2,534.0 169.7,534.8 171.1,535.3 172.5,535.6 173.9,536.0 175.3,536.3 176.7,536.7 178.1,537.0 179.5,537.4 181.0,538.0 182.4,538.7 183.8,539.4 185.2,540.1 186.6,540.8 188.0,541.5 189.4,542.2 190.8,543.0 192.2,543.9 193.7,544.7 195.1,545.5 196.5,546.4 197.9,547.2 199.3,548.1 200.7,548.3 202.1,547.9 203.5,547.5 205.0,547.1 206.4,546.7 207.8,546.2 209.2,545.8 210.6,544.9 212.0,543.3 213.4,541.8 214.8,540.2 216.3,538.7 217.7,537.3 219.1,535.9 220.5,534.7 221.9,534.0 223.3,533.2 224.7,532.4 226.1,531.8 227.6,531.2 229.0,530.6 230.4,529.9 231.8,528.8 233.2,527.7 234.6,526.6 236.0,525.5 237.4,524.4 238.9,523.3 240.3,522.1 241.7,520.3 243.1,518.6 244.5,516.8 245.9,515.1 247.3,513.3 248.7,511.6 250.2,509.8 251.6,508.2 253.0,506.5 254.4,504.9 255.8,502.8 257.2,500.4 258.6,498.0 260.0,495.6 261.5,492.8 262.9,490.0 264.3,487.2 265.7,484.3 267.1,481.1 268.5,477.9 269.9,474.8 271.3,471.4 272.8,468.1 274.2,465.9 275.6,463.9 277.0,464.7 278.4,467.4 279.8,471.9 281.2,475.8 282.6,479.5 284.1,483.3 285.5,487.0 286.9,490.6 288.3,494.1 289.7,497.7 291.1,501.3 292.5,504.9 293.9,508.5 295.3,511.8 296.8,514.2 298.2,516.5 299.6,518.9 301.0,520.3 302.4,521.3 303.8,522.4 305.2,523.3 306.6,523.6 308.1,524.0 309.5,524.4 310.9,524.7 312.3,525.0 313.7,525.3 315.1,525.7 316.5,526.8 317.9,527.8 319.4,528.9 320.8,530.1 322.2,531.3 323.6,532.5 325.0,533.8 326.4,534.6 327.8,535.5 329.2,536.4 330.7,537.1 332.1,537.4 333.5,537.7 334.9,538.1 336.3,538.3 337.7,538.5 339.1,538.6 340.5,538.6 342.0,538.4 343.4,538.1 344.8,537.8 346.2,537.2 347.6,536.6 349.0,536.0 350.4,535.4 351.8,534.7 353.3,534.0 354.7,533.3 356.1,532.7 357.5,532.2 358.9,531.7 360.3,531.2 361.7,531.0 363.1,530.9 364.6,530.7 366.0,530.5 367.4,530.3 368.8,530.2 370.2,530.0 371.6,530.0 373.0,530.0 374.4,530.0 375.9,530.0 377.3,530.0 378.7,530.0 380.1,530.0 381.5,530.6 382.9,531.1 384.3,531.6 385.7,532.4 387.1,533.2 388.6,534.1 390.0,535.0 391.4,535.6 392.8,536.1 394.2,536.7 395.6,537.0 397.0,537.2 398.4,537.3 399.9,537.4 401.3,537.5 402.7,537.6 404.1,537.7 405.5,537.8 406.9,537.9 408.3,538.0 409.7,538.1 411.2,538.2 412.6,538.3 414.0,538.4 415.4,538.5 416.8,538.6 418.2,538.7 419.6,538.7 421.0,538.4 422.5,537.8 423.9,537.3 425.3,536.8 426.7,536.3 428.1,535.7 429.5,535.2 430.9,534.7 432.3,534.3 433.8,533.8 435.2,533.4 436.6,533.0 438.0,532.5 439.4,532.1 440.8,531.7 442.2,531.3 443.6,531.0 445.1,530.6 446.5,530.3 447.9,529.9 449.3,529.6 450.7,529.5 452.1,529.7 453.5,529.8 454.9,530.0 456.4,529.8 457.8,529.7 459.2,529.5 460.6,529.4 462.0,529.4 463.4,529.4 464.8,529.4 466.2,529.9 467.7,530.4 469.1,530.9 470.5,531.4 471.9,531.7 473.3,532.1 474.7,532.4 476.1,532.8 477.5,533.1 478.9,533.5 480.4,533.9 481.8,534.4 483.2,534.9 484.6,535.5 486.0,536.0 487.4,536.5 488.8,537.1 490.2,537.7 491.7,538.7 493.1,539.7 494.5,540.6 495.9,541.6 497.3,542.5 498.7,543.4 500.1,544.3 501.5,545.3 503.0,546.2 504.4,547.1 505.8,547.6 507.2,547.9 508.6,548.2 510.0,548.5 511.4,548.7 512.8,549.0 514.3,549.3 515.7,549.4 517.1,549.4 518.5,549.4 519.9,549.4 521.3,549.1 522.7,548.9 524.1,548.6 525.6,548.3 527.0,548.1 528.4,547.8 529.8,547.5 531.2,546.9 532.6,546.3 534.0,545.6 535.4,544.9 536.9,544.3 538.3,543.4 539.7,541.7 541.1,539.9 542.5,538.1 543.9,536.4 545.3,534.5 546.7,532.4 548.2,530.3 549.6,528.2 551.0,526.8 552.4,525.7 553.8,524.6 555.2,523.8 556.6,524.2 558.0,524.5 559.5,524.9 560.9,525.1 562.3,525.3 563.7,525.5 565.1,525.6 566.5,525.8 567.9,526.0 569.3,526.2 570.8,526.1 572.2,525.7 573.6,525.4 575.0,525.0 576.4,524.7 577.8,524.3 579.2,523.9 580.6,523.7 582.0,523.5 583.5,523.3 584.9,523.1 586.3,523.0 587.7,522.8 589.1,522.6 590.5,522.5 591.9,522.4 593.3,522.3 594.8,522.2 596.2,522.1 597.6,522.0 599.0,522.0 600.4,521.8 601.8,521.3 603.2,520.9 604.6,520.4 606.1,520.0 607.5,519.5 608.9,519.1 610.3,518.7 611.7,518.5 613.1,518.3 614.5,518.2 615.9,518.6 617.4,519.3 618.8,520.0 620.2,520.6 621.6,520.9 623.0,521.1 624.4,521.3 625.8,521.6 627.2,521.8 628.7,522.0 630.1,522.2 631.5,522.2 632.9,522.1 634.3,522.0 635.7,521.9 637.1,520.7 638.5,519.1 640.0,517.6 641.4,515.8 642.8,514.0 644.2,512.3 645.6,510.6 647.0,509.0 648.4,507.4 649.8,505.8 651.3,505.3 652.7,505.0 654.1,504.6 655.5,504.6 656.9,505.1 658.3,505.6 659.7,506.1 661.1,506.5 662.6,506.9 664.0,507.2 665.4,507.6 666.8,507.9 668.2,508.3 669.6,508.7 671.0,508.4 672.4,508.0 673.8,507.5 675.3,507.0 676.7,506.6 678.1,506.1 679.5,505.7 680.9,505.1 682.3,504.4 683.7,503.7 685.1,504.8 686.6,506.3 688.0,507.8 689.4,509.3 690.8,510.9 692.2,512.6 693.6,514.3 695.0,516.0 696.4,517.3 697.9,518.5 699.3,519.8 700.7,520.7 702.1,521.2 703.5,521.7 704.9,522.3 706.3,522.5 707.7,522.6 709.2,522.8 710.6,523.0 712.0,523.3 713.4,523.5 714.8,523.8 716.2,524.0 717.6,524.3 719.0,524.5 720.5,524.8 721.9,525.2 723.3,525.5 724.7,525.9 726.1,526.2 727.5,526.6 728.9,526.9 730.3,527.3 731.8,527.6 733.2,528.0 734.6,528.3 736.0,528.6 737.4,529.0 738.8,528.9 740.2,528.5 741.6,528.1 743.1,527.7 744.5,527.3 745.9,527.3 747.3,527.5 748.7,527.6 750.1,527.9 751.5,528.6 752.9,529.3 754.4,530.0 755.8,531.0 757.2,532.3 758.6,533.7 760.0,535.0" fill="none" stroke="#d6b20a" stroke-width="1.1"/>
<!-- axis ticks -->
<g stroke="#30333d" stroke-width="1">
<path d="M764 35.2h4M764 60.4h4M764 85.6h4M764 110.9h4M764 136.1h4M764 161.3h4M764 186.5h4M764 211.7h4M764 237h4M764 262.2h4M764 287.4h4M764 312.6h4M764 337.8h4M764 363h4M764 388.3h4M764 413.5h4"/>
<path d="M764 453h4M764 474.7h4M764 496.4h4M764 518.1h4M764 540h4"/>
</g>
<!-- toolbar icon -->
<rect x="4.5" y="2.5" width="7.5" height="7" rx="1" fill="none" stroke="#6a6c72" stroke-width="1"/>
<line x1="7.5" y1="3" x2="7.5" y2="9" stroke="#6a6c72" stroke-width="1"/>
<!-- info row icons -->
<circle cx="102.8" cy="18.8" r="3.3" fill="#8a8a8e"/>
<path d="M101.2 18.2l1.6 1.6 1.6-1.6" stroke="#2a2a2e" stroke-width="0.9" fill="none"/>
<path d="M746.8 16.5l2.6 2.6-2.6 2.6-2.6-2.6z" stroke="#7a7a80" stroke-width="0.9" fill="none"/>
<rect x="754.5" y="16.3" width="8" height="6.8" rx="1" fill="#3a3c44" stroke="#5a5c64" stroke-width="0.8"/>
<rect x="758.5" y="17.5" width="2.6" height="4.4" fill="#7a7c84"/>
<circle cx="6.7" cy="441" r="3.6" fill="#8a8a8e"/>
<path d="M5 440.4l1.7 1.7 1.7-1.7" stroke="#2a2a2e" stroke-width="0.9" fill="none"/>
<!-- price marker -->
<rect x="765" y="57.6" width="31.5" height="10.4" fill="#1e3a66"/>
<!-- 7260.84 arrow -->
<path d="M731 212.3h7l6-2.2M741.5 209.2l2.7 1 -1.6 2" stroke="#e0e0e0" stroke-width="0.8" fill="none"/>
<path d="M92 421.2H98.8M94.6 418.7L92 421.2L94.6 423.7" stroke="#e4e4e6" stroke-width="1" fill="none"/>
<!-- date box -->
<rect x="698" y="578.3" width="54" height="9.2" fill="#1b3258"/>
</svg>

<div class="a" style="left:19.12px;top:3.10px;color:#cfd0d4;">分时</div>
<div class="a" style="left:40.25px;top:3.10px;color:#cfd0d4;">1分钟</div>
<div class="a" style="left:64.88px;top:3.10px;color:#cfd0d4;">5分钟</div>
<div class="a" style="left:90.15px;top:3.10px;color:#cfd0d4;">15分钟</div>
<div class="a" style="left:119.07px;top:3.10px;color:#cfd0d4;">30分钟</div>
<div class="a" style="left:148.82px;top:3.10px;color:#cfd0d4;">60分钟</div>
<div class="a" style="left:178.79px;top:3.10px;color:#cfd0d4;transform:scaleX(0.966);">日线</div>
<div class="a" style="left:200.30px;top:3.10px;color:#3d86f0;">周线</div>
<div class="a" style="left:222.75px;top:3.10px;color:#cfd0d4;">月线</div>
<div class="a" style="left:243.70px;top:3.10px;color:#cfd0d4;">10分钟</div>
<div class="a" style="left:273.12px;top:3.10px;color:#cfd0d4;">45日线</div>
<div class="a" style="left:302.88px;top:3.10px;color:#cfd0d4;">季线</div>
<div class="a" style="left:325.51px;top:3.10px;color:#cfd0d4;transform:scaleX(0.958);">年线</div>
<div class="a" style="left:348.07px;top:3.10px;color:#cfd0d4;">5秒</div>
<div class="a" style="left:368.29px;top:3.10px;color:#cfd0d4;transform:scaleX(0.928);">15秒</div>
<div class="a" style="left:389.12px;top:3.10px;color:#cfd0d4;">多周期</div>
<div class="a" style="left:417.28px;top:3.10px;color:#cfd0d4;transform:scaleX(0.933);">更多</div>
<div class="a" style="left:600.12px;top:3.10px;color:#cfd0d4;">指标</div>
<div class="a" style="left:621.38px;top:3.10px;color:#cfd0d4;transform:scaleX(1.047);">叠加</div>
<div class="a" style="left:643.23px;top:3.10px;color:#cfd0d4;transform:scaleX(1.033);">多股</div>
<div class="a" style="left:666.26px;top:3.10px;color:#cfd0d4;transform:scaleX(0.961);">统计</div>
<div class="a" style="left:687.58px;top:3.10px;color:#cfd0d4;transform:scaleX(1.087);">画线</div>
<div class="a" style="left:712.05px;top:1.97px;color:#cfd0d4;font-size:8.5px;transform:scaleX(0.893);">F10</div>
<div class="a" style="left:734.16px;top:3.10px;color:#cfd0d4;transform:scaleX(0.968);">标记</div>
<div class="a" style="left:754.76px;top:3.10px;color:#cfd0d4;transform:scaleX(0.958);">+自选</div>
<div class="a" style="left:777.74px;top:2.97px;color:#cfd0d4;transform:scaleX(1.033);">返回</div>
<div class="a" style="left:435.50px;top:1.35px;color:#cfd0d4;font-size:8.5px;transform:scaleX(1.200);">)</div>
<div class="a" style="left:3.96px;top:15.90px;color:#d4d4d8;transform:scaleX(0.967);">偏债混基指数(周线,前复权)</div>
<div class="a" style="left:109.12px;top:14.62px;color:#e6e6e8;font-size:8.5px;">GMMA</div>
<div class="a" style="left:138.27px;top:14.62px;color:#8e8ad6;font-size:8.5px;transform:scaleX(0.959);">MA3: 7007.75</div>
<div class="a" style="left:192.52px;top:14.62px;color:#8e8ad6;font-size:8.5px;transform:scaleX(0.955);">MA5: 7038.90</div>
<div class="a" style="left:247.43px;top:14.62px;color:#8e8ad6;font-size:8.5px;transform:scaleX(0.942);">MA8: 7069.42</div>
<div class="a" style="left:299.92px;top:14.62px;color:#8e8ad6;font-size:8.5px;transform:scaleX(0.951);">MA10: 7082.80</div>
<div class="a" style="left:358.27px;top:14.62px;color:#8e8ad6;font-size:8.5px;transform:scaleX(0.956);">MA12: 7092.18</div>
<div class="a" style="left:416.93px;top:14.62px;color:#8e8ad6;font-size:8.5px;transform:scaleX(0.940);">MA15: 7100.79</div>
<div class="a" style="left:474.77px;top:14.62px;color:#e8840e;font-size:8.5px;transform:scaleX(0.952);">MA30: 7093.20</div>
<div class="a" style="left:532.52px;top:14.62px;color:#e8840e;font-size:8.5px;transform:scaleX(0.956);">MA35: 7079.88</div>
<div class="a" style="left:591.53px;top:14.62px;color:#e8840e;font-size:8.5px;transform:scaleX(0.941);">MA40: 7062.96</div>
<div class="a" style="left:649.27px;top:14.62px;color:#e8840e;font-size:8.5px;transform:scaleX(0.956);">MA45: 7043.07</div>
<div class="a" style="left:707.45px;top:14.62px;color:#e8840e;font-size:8.5px;">MA50: 70</div>
<div class="a" style="left:772.30px;top:31.08px;color:#cfd0d4;font-size:8.5px;">224%</div>
<div class="a" style="left:772.30px;top:81.47px;color:#cfd0d4;font-size:8.5px;">192%</div>
<div class="a" style="left:772.30px;top:106.78px;color:#cfd0d4;font-size:8.5px;">176%</div>
<div class="a" style="left:772.30px;top:131.97px;color:#cfd0d4;font-size:8.5px;">160%</div>
<div class="a" style="left:772.30px;top:157.18px;color:#cfd0d4;font-size:8.5px;">144%</div>
<div class="a" style="left:772.30px;top:182.38px;color:#cfd0d4;font-size:8.5px;">128%</div>
<div class="a" style="left:772.80px;top:207.70px;color:#cfd0d4;font-size:8.5px;">112%</div>
<div class="a" style="left:777.05px;top:232.88px;color:#cfd0d4;font-size:8.5px;">96%</div>
<div class="a" style="left:777.05px;top:258.07px;color:#cfd0d4;font-size:8.5px;">80%</div>
<div class="a" style="left:777.05px;top:283.27px;color:#cfd0d4;font-size:8.5px;">64%</div>
<div class="a" style="left:777.05px;top:308.48px;color:#cfd0d4;font-size:8.5px;">48%</div>
<div class="a" style="left:777.05px;top:333.68px;color:#cfd0d4;font-size:8.5px;">32%</div>
<div class="a" style="left:777.05px;top:358.88px;color:#cfd0d4;font-size:8.5px;">16%</div>
<div class="a" style="left:781.80px;top:384.18px;color:#cfd0d4;font-size:8.5px;">0%</div>
<div class="a" style="left:774.05px;top:409.38px;color:#cfd0d4;font-size:8.5px;">-16%</div>
<div class="a" style="left:765.22px;top:58.88px;color:#f2f2f2;font-size:8.5px;transform:scaleX(0.957);">10300.5</div>
<div class="a" style="left:773.20px;top:448.68px;color:#cfd0d4;font-size:8.5px;">400.0</div>
<div class="a" style="left:773.20px;top:470.77px;color:#cfd0d4;font-size:8.5px;">300.0</div>
<div class="a" style="left:773.20px;top:492.57px;color:#cfd0d4;font-size:8.5px;">200.0</div>
<div class="a" style="left:773.20px;top:514.27px;color:#cfd0d4;font-size:8.5px;">100.0</div>
<div class="a" style="left:777.95px;top:536.17px;color:#cfd0d4;font-size:8.5px;">0.00</div>
<div class="a" style="left:700.76px;top:209.62px;color:#e4e4e6;font-size:8.5px;transform:scaleX(0.942);">7260.84</div>
<div class="a" style="left:99.46px;top:416.98px;color:#e4e4e6;font-size:8.5px;transform:scaleX(0.942);">2709.60</div>
<div class="a" style="left:13.13px;top:435.85px;color:#e6e6e8;font-size:8.5px;transform:scaleX(0.933);">MACD(12,26,9)</div>
<div class="a" style="left:70.93px;top:436.48px;color:#e6e6e8;font-size:8.5px;transform:scaleX(0.943);">DIF: -8.56</div>
<div class="a" style="left:109.24px;top:436.60px;color:#d8b800;font-size:8.5px;transform:scaleX(0.919);">DEA: 21.44</div>
<div class="a" style="left:152.32px;top:436.48px;color:#c81ed8;font-size:8.5px;transform:scaleX(0.955);">MACD: -60.01</div>
<div class="a" style="left:2.74px;top:580.00px;color:#cfd0d4;transform:scaleX(1.051);">2011年</div>
<div class="a" style="left:36.62px;top:578.88px;color:#cfd0d4;font-size:8.5px;">3</div>
<div class="a" style="left:54.33px;top:578.88px;color:#cfd0d4;font-size:8.5px;">6</div>
<div class="a" style="left:73.83px;top:578.88px;color:#cfd0d4;font-size:8.5px;">9</div>
<div class="a" style="left:91.12px;top:579.00px;color:#cfd0d4;font-size:8.5px;">12</div>
<div class="a" style="left:113.75px;top:579.00px;color:#cfd0d4;font-size:8.5px;">4</div>
<div class="a" style="left:131.62px;top:579.00px;color:#cfd0d4;font-size:8.5px;">7</div>
<div class="a" style="left:151.62px;top:578.88px;color:#cfd0d4;font-size:8.5px;">10</div>
<div class="a" style="left:168.50px;top:579.00px;color:#cfd0d4;font-size:8.5px;">1</div>
<div class="a" style="left:186.75px;top:579.00px;color:#cfd0d4;font-size:8.5px;">4</div>
<div class="a" style="left:205.22px;top:579.00px;color:#cfd0d4;font-size:8.5px;">7</div>
<div class="a" style="left:224.62px;top:578.88px;color:#cfd0d4;font-size:8.5px;">10</div>
<div class="a" style="left:242.50px;top:579.00px;color:#cfd0d4;font-size:8.5px;">1</div>
<div class="a" style="left:259.55px;top:579.00px;color:#cfd0d4;font-size:8.5px;">4</div>
<div class="a" style="left:277.82px;top:579.00px;color:#cfd0d4;font-size:8.5px;">7</div>
<div class="a" style="left:297.62px;top:578.88px;color:#cfd0d4;font-size:8.5px;">10</div>
<div class="a" style="left:315.50px;top:579.00px;color:#cfd0d4;font-size:8.5px;">1</div>
<div class="a" style="left:338.62px;top:578.88px;color:#cfd0d4;font-size:8.5px;">5</div>
<div class="a" style="left:356.43px;top:578.88px;color:#cfd0d4;font-size:8.5px;">8</div>
<div class="a" style="left:374.50px;top:579.00px;color:#cfd0d4;font-size:8.5px;">11</div>
<div class="a" style="left:392.12px;top:579.00px;color:#cfd0d4;font-size:8.5px;">2</div>
<div class="a" style="left:410.43px;top:578.88px;color:#cfd0d4;font-size:8.5px;">5</div>
<div class="a" style="left:428.43px;top:578.88px;color:#cfd0d4;font-size:8.5px;">8</div>
<div class="a" style="left:446.50px;top:579.00px;color:#cfd0d4;font-size:8.5px;">11</div>
<div class="a" style="left:463.62px;top:579.00px;color:#cfd0d4;font-size:8.5px;">2</div>
<div class="a" style="left:482.12px;top:578.88px;color:#cfd0d4;font-size:8.5px;">5</div>
<div class="a" style="left:500.62px;top:578.88px;color:#cfd0d4;font-size:8.5px;">8</div>
<div class="a" style="left:517.50px;top:579.00px;color:#cfd0d4;font-size:8.5px;">11</div>
<div class="a" style="left:535.62px;top:579.00px;color:#cfd0d4;font-size:8.5px;">2</div>
<div class="a" style="left:554.12px;top:578.88px;color:#cfd0d4;font-size:8.5px;">5</div>
<div class="a" style="left:571.12px;top:578.88px;color:#cfd0d4;font-size:8.5px;">8</div>
<div class="a" style="left:589.50px;top:579.00px;color:#cfd0d4;font-size:8.5px;">11</div>
<div class="a" style="left:609.08px;top:579.00px;color:#cfd0d4;font-size:8.5px;">2</div>
<div class="a" style="left:626.88px;top:578.88px;color:#cfd0d4;font-size:8.5px;">5</div>
<div class="a" style="left:644.88px;top:578.88px;color:#cfd0d4;font-size:8.5px;">8</div>
<div class="a" style="left:662.65px;top:579.00px;color:#cfd0d4;font-size:8.5px;">11</div>
<div class="a" style="left:680.88px;top:579.00px;color:#cfd0d4;font-size:8.5px;">2</div>
<div class="a" style="left:698.74px;top:579.67px;color:#e8ecf4;transform:scaleX(1.045);">2022/01/28/五</div>
<div class="a" style="left:773.56px;top:579.80px;color:#cfd0d4;transform:scaleX(0.961);">周线</div>
<div class="a" style="left:2.74px;top:591.20px;color:#cfd0d4;transform:scaleX(1.048);">指标A</div>
<div class="a" style="left:26.48px;top:591.20px;color:#cfd0d4;transform:scaleX(1.034);">窗口</div>
<div class="a" style="left:47.53px;top:590.08px;color:#3d86f0;font-size:8.5px;transform:scaleX(0.948);">MACD</div>
<div class="a" style="left:76.48px;top:590.20px;color:#cfd0d4;font-size:8.5px;transform:scaleX(1.034);">DMI</div>
<div class="a" style="left:97.54px;top:590.20px;color:#cfd0d4;font-size:8.5px;transform:scaleX(0.919);">DMA</div>
<div class="a" style="left:120.60px;top:590.08px;color:#cfd0d4;font-size:8.5px;transform:scaleX(0.800);">FSL</div>
<div class="a" style="left:139.00px;top:590.20px;color:#cfd0d4;font-size:8.5px;transform:scaleX(0.831);">TRIX</div>
<div class="a" style="left:160.58px;top:590.20px;color:#cfd0d4;font-size:8.5px;transform:scaleX(0.835);">BRAR</div>
<div class="a" style="left:185.76px;top:590.08px;color:#cfd0d4;font-size:8.5px;transform:scaleX(0.957);">CR</div>
<div class="a" style="left:203.00px;top:590.20px;color:#cfd0d4;font-size:8.5px;transform:scaleX(0.957);">VR</div>
<div class="a" style="left:216.77px;top:590.08px;color:#cfd0d4;font-size:8.5px;transform:scaleX(0.901);">OBV</div>
<div class="a" style="left:239.00px;top:590.08px;color:#cfd0d4;font-size:8.5px;transform:scaleX(0.923);">ASI</div>
<div class="a" style="left:255.58px;top:590.20px;color:#cfd0d4;font-size:8.5px;transform:scaleX(0.833);">EMV</div>
<div class="a" style="left:278.00px;top:590.08px;color:#cfd0d4;font-size:8.5px;transform:scaleX(0.871);">VOL-TDX</div>
<div class="a" style="left:315.54px;top:590.08px;color:#cfd0d4;font-size:8.5px;transform:scaleX(0.923);">RSI</div>
<div class="a" style="left:334.00px;top:590.20px;color:#cfd0d4;font-size:8.5px;transform:scaleX(0.945);">WR</div>
<div class="a" style="left:351.78px;top:590.08px;color:#cfd0d4;font-size:8.5px;transform:scaleX(0.896);">SAR</div>
<div class="a" style="left:371.50px;top:590.08px;color:#cfd0d4;font-size:8.5px;">KDJ</div>
<div class="a" style="left:391.78px;top:590.08px;color:#cfd0d4;font-size:8.5px;transform:scaleX(0.873);">CCI</div>
<div class="a" style="left:409.56px;top:590.08px;color:#cfd0d4;font-size:8.5px;transform:scaleX(0.889);">ROC</div>
<div class="a" style="left:430.48px;top:590.20px;color:#cfd0d4;font-size:8.5px;transform:scaleX(1.041);">MTM</div>
<div class="a" style="left:454.55px;top:590.08px;color:#cfd0d4;font-size:8.5px;transform:scaleX(0.905);">BOLL</div>
<div class="a" style="left:479.57px;top:590.08px;color:#cfd0d4;font-size:8.5px;transform:scaleX(0.862);">PSY</div>
<div class="a" style="left:498.55px;top:590.08px;color:#cfd0d4;font-size:8.5px;transform:scaleX(0.894);">MCST</div>
<div class="a" style="left:525.00px;top:591.20px;color:#cfd0d4;">顾比均线</div>
<div class="a" style="left:561.50px;top:591.20px;color:#cfd0d4;">更多</div>
<div class="a" style="left:581.76px;top:591.08px;color:#cfd0d4;transform:scaleX(0.968);">设置</div>
<div class="a" style="left:720.17px;top:591.20px;color:#cfd0d4;transform:scaleX(0.930);">指标B</div>
<div class="a" style="left:744.73px;top:591.20px;color:#cfd0d4;transform:scaleX(1.071);">模板</div>
<div class="a" style="left:770.62px;top:590.08px;color:#b0b0b4;font-size:8.5px;">+</div>
<div class="a" style="left:786.50px;top:590.83px;color:#b0b0b4;">−</div>
<div class="a" style="left:462.58px;top:170.62px;color:#f2f2f0;transform:scaleX(1.667);font-family:'Liberation Serif','Noto Serif CJK SC',serif;font-weight:600;letter-spacing:1.2px;font-size:14.8px;-webkit-text-stroke:0.15px currentColor;">偏股混合基金指数</div>
<div class="a" style="left:311.08px;top:361.43px;color:#f2f2f0;transform:scaleX(1.679);font-family:'Liberation Serif','Noto Serif CJK SC',serif;font-weight:600;letter-spacing:1.2px;font-size:14.8px;-webkit-text-stroke:0.15px currentColor;">偏债混合基金指数</div>
<div class="a" style="left:612.68px;top:568.00px;color:rgba(218,218,218,0.92);transform:scaleX(1.147);font-size:22.5px;-webkit-text-stroke:0.2px currentColor;">雪球</div>
<div class="a" style="left:667.88px;top:566.62px;color:rgba(218,218,218,0.92);font-size:22.5px;-webkit-text-stroke:0.2px currentColor;">：</div>
<div class="a" style="left:684.50px;top:567.62px;color:rgba(218,218,218,0.92);font-size:22.5px;-webkit-text-stroke:0.2px currentColor;">懒人养基</div>
<!-- watermark -->
<svg width="800" height="604" viewBox="0 0 800 604" style="position:absolute;left:0;top:0">
<g stroke="rgba(220,220,220,0.93)" stroke-width="2.6" fill="none" stroke-linecap="round" stroke-linejoin="round">
<path d="M598 588.7A12.3 12.3 0 0 1 586.5 567.4L591.8 574.5L586.9 581.4"/>
<path d="M589.6 565.6A12.3 12.3 0 0 1 602.1 586.4L595.9 579.7L601.7 573"/>
</g>
</svg>
</body></html>
